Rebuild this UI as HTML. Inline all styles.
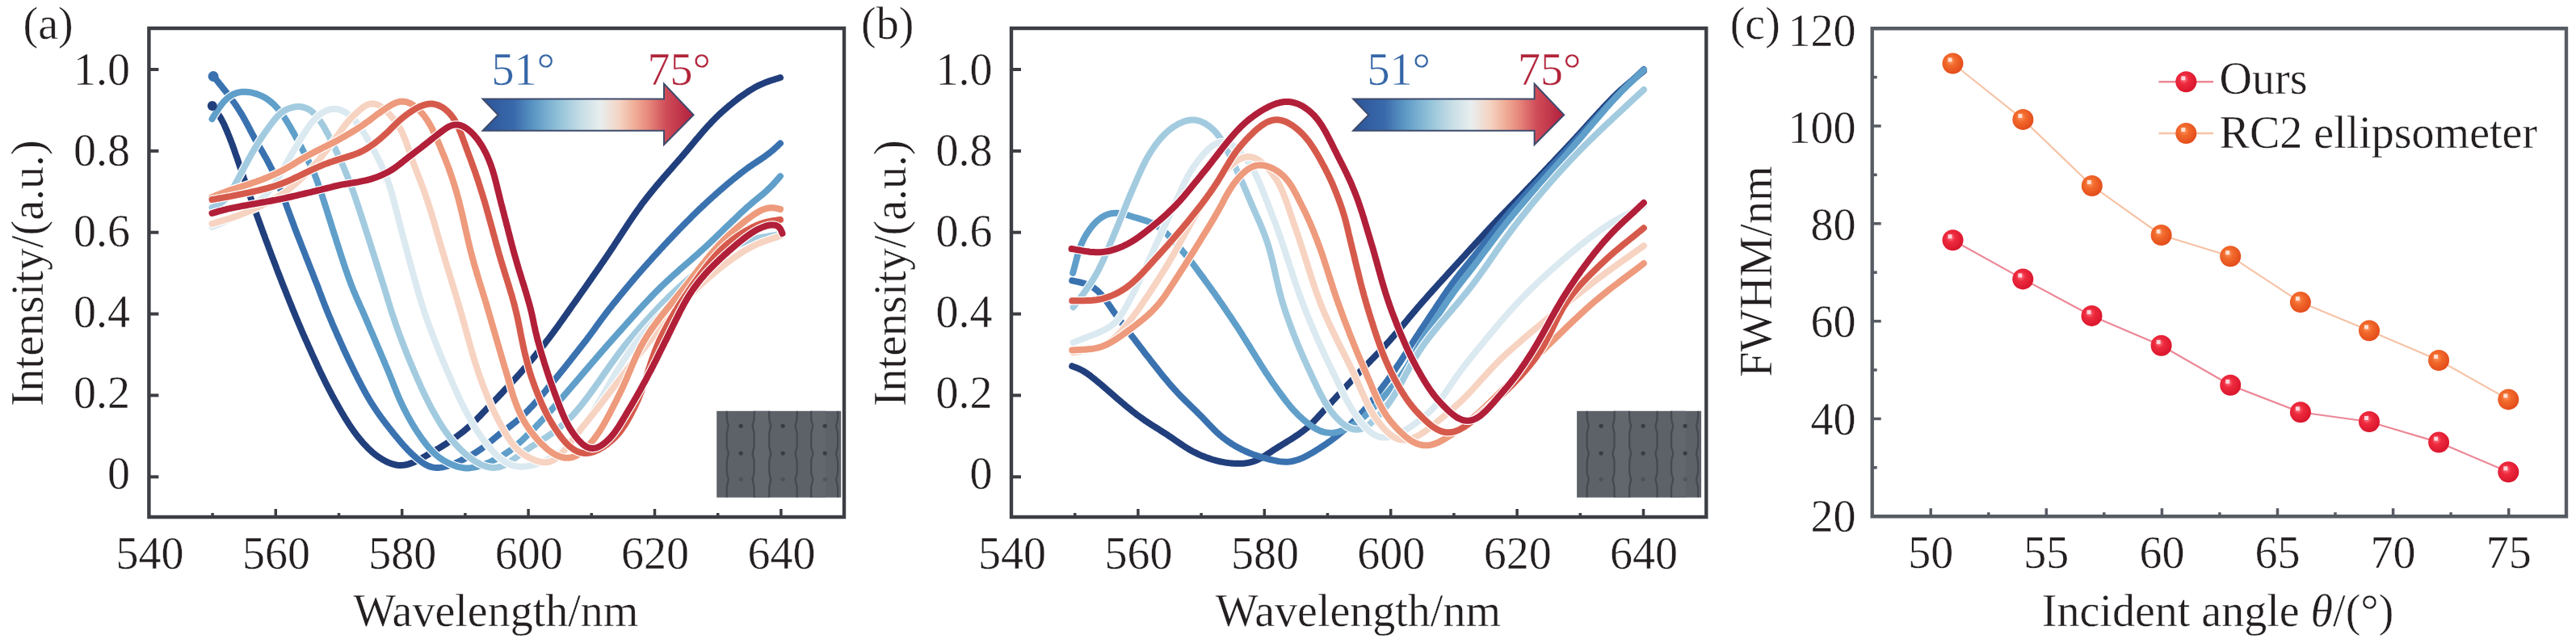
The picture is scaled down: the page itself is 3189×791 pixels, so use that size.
<!DOCTYPE html><html><head><meta charset="utf-8"><style>html,body{margin:0;padding:0;background:#fff;}svg{display:block}</style></head><body>
<svg width="3189" height="791" viewBox="0 0 3189 791">
<defs>
<linearGradient id="ag" x1="0" y1="0" x2="1" y2="0"><stop offset="0" stop-color="#2b5499"/><stop offset="0.15" stop-color="#3a6aab"/><stop offset="0.24" stop-color="#5a96c4"/><stop offset="0.36" stop-color="#92c2d9"/><stop offset="0.47" stop-color="#c8dee6"/><stop offset="0.56" stop-color="#e8eeee"/><stop offset="0.65" stop-color="#f4d3c2"/><stop offset="0.72" stop-color="#f0ae98"/><stop offset="0.79" stop-color="#e6857a"/><stop offset="0.87" stop-color="#cf4c58"/><stop offset="1" stop-color="#b21f3c"/></linearGradient>
<radialGradient id="bo" cx="0.4" cy="0.38" r="0.65"><stop offset="0" stop-color="#ff9a6a"/><stop offset="0.35" stop-color="#f26a2c"/><stop offset="1" stop-color="#e24a1a"/></radialGradient>
<radialGradient id="br" cx="0.4" cy="0.38" r="0.65"><stop offset="0" stop-color="#ff7a8a"/><stop offset="0.35" stop-color="#ee2a3e"/><stop offset="1" stop-color="#d8142c"/></radialGradient>
</defs>
<rect width="3189" height="791" fill="#fff"/>
<style>text{stroke:#fff;stroke-width:0.4px;}</style>
<defs><path id="c1" d="M262.5,131.0 L264.0,133.0 L265.5,135.0 L267.0,137.0 L268.5,139.0 L270.0,141.0 L271.3,143.1 L272.7,145.2 L273.9,147.4 L275.1,149.6 L276.3,151.8 L277.4,154.0 L278.4,156.3 L279.4,158.6 L280.4,160.9 L281.4,163.2 L282.3,165.5 L283.3,167.8 L284.2,170.2 L285.1,172.5 L286.0,174.8 L286.9,177.2 L287.8,179.5 L288.6,181.9 L289.5,184.2 L290.3,186.6 L291.1,189.0 L291.9,191.3 L292.8,193.7 L293.6,196.1 L294.4,198.4 L295.2,200.8 L296.0,203.2 L296.8,205.6 L297.6,207.9 L298.4,210.3 L299.2,212.7 L300.0,215.1 L300.8,217.4 L301.6,219.8 L302.4,222.2 L303.3,224.5 L304.1,226.9 L304.9,229.3 L305.7,231.6 L306.6,234.0 L307.4,236.4 L308.2,238.7 L309.0,241.1 L309.9,243.5 L310.7,245.8 L311.5,248.2 L312.3,250.6 L313.2,252.9 L314.0,255.3 L314.9,257.6 L315.7,260.0 L316.5,262.4 L317.4,264.7 L318.2,267.1 L319.1,269.4 L319.9,271.8 L320.8,274.1 L321.6,276.5 L322.5,278.9 L323.4,281.2 L324.2,283.6 L325.1,285.9 L325.9,288.3 L326.8,290.6 L327.7,293.0 L328.5,295.3 L329.4,297.7 L330.3,300.0 L331.2,302.4 L332.0,304.7 L332.9,307.1 L333.8,309.4 L334.7,311.8 L335.5,314.1 L336.4,316.4 L337.3,318.8 L338.2,321.1 L339.1,323.5 L340.0,325.8 L340.9,328.2 L341.8,330.5 L342.6,332.8 L343.5,335.2 L344.4,337.5 L345.4,339.9 L346.3,342.2 L347.2,344.5 L348.1,346.9 L349.0,349.2 L349.9,351.5 L350.8,353.9 L351.7,356.2 L352.7,358.5 L353.6,360.8 L354.5,363.2 L355.4,365.5 L356.4,367.8 L357.3,370.1 L358.2,372.5 L359.2,374.8 L360.1,377.1 L361.1,379.4 L362.0,381.8 L362.9,384.1 L363.9,386.4 L364.9,388.7 L365.8,391.0 L366.8,393.3 L367.7,395.7 L368.7,398.0 L369.7,400.3 L370.7,402.6 L371.6,404.9 L372.6,407.2 L373.6,409.5 L374.6,411.8 L375.6,414.1 L376.6,416.4 L377.6,418.7 L378.6,421.0 L379.7,423.3 L380.7,425.5 L381.7,427.8 L382.7,430.1 L383.8,432.4 L384.8,434.7 L385.8,437.0 L386.8,439.3 L387.9,441.5 L388.9,443.8 L390.0,446.1 L391.0,448.4 L392.1,450.6 L393.1,452.9 L394.2,455.2 L395.2,457.5 L396.3,459.7 L397.4,462.0 L398.5,464.2 L399.6,466.5 L400.7,468.7 L401.8,471.0 L402.9,473.2 L404.0,475.5 L405.1,477.7 L406.3,479.9 L407.4,482.2 L408.6,484.4 L409.8,486.6 L410.9,488.8 L412.1,491.0 L413.3,493.2 L414.5,495.4 L415.7,497.6 L417.0,499.8 L418.2,502.0 L419.4,504.2 L420.7,506.3 L421.9,508.5 L423.2,510.7 L424.5,512.8 L425.7,515.0 L427.0,517.1 L428.4,519.3 L429.7,521.4 L431.0,523.5 L432.4,525.6 L433.8,527.7 L435.2,529.8 L436.6,531.8 L438.0,533.9 L439.5,535.9 L441.0,537.9 L442.5,539.9 L444.1,541.8 L445.7,543.8 L447.3,545.7 L448.9,547.6 L450.6,549.5 L452.3,551.3 L454.0,553.1 L455.7,554.9 L457.5,556.6 L459.4,558.3 L461.2,560.0 L463.2,561.6 L465.1,563.1 L467.1,564.6 L469.2,566.0 L471.3,567.4 L473.4,568.7 L475.5,569.9 L477.7,571.1 L480.0,572.2 L482.3,573.1 L484.6,574.0 L486.9,574.7 L489.3,575.3 L491.7,575.7 L494.1,575.9 L496.6,576.0 L499.0,575.8 L501.4,575.5 L503.8,575.0 L506.2,574.4 L508.5,573.6 L510.9,572.8 L513.1,571.8 L515.4,570.7 L517.6,569.6 L519.9,568.5 L522.1,567.3 L524.2,566.0 L526.4,564.8 L528.6,563.5 L530.7,562.3 L532.9,561.0 L535.1,559.7 L537.2,558.5 L539.4,557.2 L541.5,555.9 L543.7,554.6 L545.8,553.3 L548.0,552.0 L550.1,550.7 L552.2,549.4 L554.3,548.0 L556.4,546.6 L558.5,545.2 L560.5,543.8 L562.6,542.4 L564.6,540.9 L566.6,539.4 L568.6,537.9 L570.6,536.4 L572.6,534.8 L574.5,533.3 L576.5,531.7 L578.4,530.0 L580.2,528.4 L582.1,526.7 L583.9,525.0 L585.8,523.3 L587.6,521.6 L589.3,519.8 L591.1,518.0 L592.9,516.2 L594.6,514.4 L596.4,512.6 L598.1,510.8 L599.8,509.0 L601.5,507.2 L603.3,505.4 L605.0,503.6 L606.7,501.8 L608.5,499.9 L610.2,498.1 L611.9,496.3 L613.7,494.5 L615.4,492.7 L617.1,490.9 L618.8,489.1 L620.6,487.3 L622.3,485.4 L624.0,483.6 L625.7,481.8 L627.5,480.0 L629.2,478.2 L630.9,476.3 L632.6,474.5 L634.3,472.6 L636.0,470.8 L637.7,468.9 L639.4,467.1 L641.0,465.2 L642.7,463.4 L644.4,461.5 L646.0,459.6 L647.7,457.7 L649.3,455.8 L651.0,453.9 L652.6,452.0 L654.2,450.1 L655.8,448.2 L657.4,446.3 L659.1,444.4 L660.7,442.5 L662.2,440.5 L663.8,438.6 L665.4,436.6 L667.0,434.7 L668.6,432.7 L670.1,430.8 L671.7,428.8 L673.2,426.9 L674.8,424.9 L676.3,422.9 L677.8,420.9 L679.4,418.9 L680.9,416.9 L682.4,414.9 L683.9,412.9 L685.4,410.9 L686.8,408.9 L688.3,406.9 L689.8,404.8 L691.3,402.8 L692.7,400.8 L694.2,398.7 L695.6,396.7 L697.1,394.6 L698.5,392.6 L700.0,390.5 L701.4,388.5 L702.9,386.5 L704.3,384.4 L705.7,382.4 L707.2,380.3 L708.6,378.3 L710.1,376.2 L711.5,374.2 L713.0,372.1 L714.4,370.1 L715.9,368.0 L717.3,366.0 L718.7,363.9 L720.2,361.9 L721.6,359.8 L723.1,357.8 L724.5,355.7 L725.9,353.7 L727.4,351.6 L728.8,349.6 L730.2,347.5 L731.7,345.5 L733.1,343.4 L734.5,341.4 L736.0,339.3 L737.4,337.2 L738.8,335.2 L740.3,333.1 L741.7,331.1 L743.1,329.0 L744.5,326.9 L746.0,324.9 L747.4,322.8 L748.8,320.7 L750.2,318.7 L751.6,316.6 L753.0,314.5 L754.4,312.5 L755.8,310.4 L757.2,308.3 L758.6,306.2 L760.0,304.1 L761.3,302.0 L762.7,299.9 L764.1,297.8 L765.5,295.7 L766.8,293.6 L768.2,291.5 L769.6,289.4 L770.9,287.3 L772.3,285.2 L773.7,283.1 L775.1,281.0 L776.4,279.0 L777.8,276.9 L779.2,274.8 L780.6,272.7 L782.0,270.6 L783.4,268.6 L784.8,266.5 L786.3,264.4 L787.7,262.4 L789.1,260.3 L790.6,258.3 L792.1,256.3 L793.5,254.2 L795.0,252.2 L796.5,250.2 L798.1,248.2 L799.6,246.2 L801.1,244.3 L802.7,242.3 L804.2,240.3 L805.8,238.4 L807.4,236.4 L809.0,234.5 L810.6,232.6 L812.2,230.6 L813.8,228.7 L815.4,226.8 L817.0,224.9 L818.7,223.0 L820.3,221.1 L821.9,219.2 L823.6,217.3 L825.2,215.4 L826.9,213.6 L828.5,211.7 L830.2,209.8 L831.8,207.9 L833.5,206.0 L835.1,204.1 L836.8,202.2 L838.4,200.4 L840.1,198.5 L841.7,196.6 L843.4,194.7 L845.0,192.8 L846.6,190.9 L848.2,189.0 L849.9,187.1 L851.5,185.2 L853.1,183.2 L854.7,181.3 L856.3,179.4 L857.9,177.5 L859.5,175.6 L861.1,173.6 L862.7,171.7 L864.4,169.8 L866.0,167.9 L867.6,166.0 L869.2,164.1 L870.9,162.2 L872.5,160.3 L874.2,158.4 L875.9,156.6 L877.6,154.7 L879.3,152.9 L881.0,151.1 L882.7,149.3 L884.5,147.5 L886.3,145.7 L888.1,144.0 L889.9,142.2 L891.7,140.5 L893.5,138.8 L895.4,137.2 L897.3,135.5 L899.2,133.9 L901.1,132.3 L903.0,130.6 L904.9,129.1 L906.9,127.5 L908.8,125.9 L910.8,124.4 L912.8,122.8 L914.8,121.3 L916.8,119.8 L918.8,118.4 L920.9,116.9 L922.9,115.5 L925.0,114.1 L927.1,112.7 L929.2,111.4 L931.4,110.1 L933.5,108.8 L935.7,107.6 L937.9,106.4 L940.1,105.3 L942.4,104.3 L944.7,103.3 L947.0,102.3 L949.3,101.5 L951.7,100.6 L954.1,99.8 L956.5,99.0 L958.8,98.3 L961.2,97.5 L963.6,96.8 L966.0,96.0"/></defs>
<use href="#c1" fill="none" stroke="#fff" stroke-width="10.4" stroke-linecap="round" stroke-linejoin="round"/>
<use href="#c1" fill="none" stroke="#213f7c" stroke-width="8" stroke-linecap="round" stroke-linejoin="round"/>
<defs><path id="c2" d="M264.1,94.1 L265.7,96.1 L267.2,98.0 L268.8,100.0 L270.4,101.9 L272.0,103.9 L273.5,105.8 L275.1,107.8 L276.6,109.8 L278.2,111.7 L279.8,113.7 L281.3,115.7 L282.8,117.7 L284.4,119.7 L285.9,121.7 L287.4,123.7 L288.8,125.7 L290.3,127.8 L291.7,129.8 L293.1,131.9 L294.5,134.0 L295.8,136.1 L297.2,138.2 L298.5,140.4 L299.8,142.5 L301.0,144.7 L302.3,146.9 L303.5,149.1 L304.7,151.3 L305.9,153.5 L307.0,155.7 L308.2,157.9 L309.4,160.2 L310.5,162.4 L311.7,164.6 L312.9,166.8 L314.0,169.0 L315.2,171.2 L316.5,173.4 L317.7,175.6 L318.9,177.8 L320.2,180.0 L321.5,182.1 L322.7,184.3 L324.0,186.5 L325.3,188.6 L326.5,190.8 L327.7,193.0 L329.0,195.2 L330.2,197.4 L331.4,199.6 L332.5,201.8 L333.7,204.0 L334.8,206.3 L336.0,208.5 L337.1,210.8 L338.1,213.0 L339.2,215.3 L340.2,217.6 L341.2,219.9 L342.2,222.2 L343.2,224.5 L344.2,226.8 L345.1,229.1 L346.0,231.5 L346.9,233.8 L347.8,236.2 L348.7,238.5 L349.6,240.8 L350.5,243.2 L351.4,245.5 L352.3,247.9 L353.1,250.3 L354.0,252.6 L354.9,255.0 L355.7,257.3 L356.6,259.7 L357.5,262.0 L358.3,264.4 L359.2,266.7 L360.1,269.1 L360.9,271.5 L361.8,273.8 L362.7,276.2 L363.6,278.5 L364.4,280.9 L365.3,283.2 L366.2,285.5 L367.1,287.9 L368.0,290.2 L368.9,292.6 L369.9,294.9 L370.8,297.2 L371.7,299.6 L372.6,301.9 L373.5,304.3 L374.4,306.6 L375.3,308.9 L376.3,311.3 L377.2,313.6 L378.1,315.9 L379.0,318.3 L379.9,320.6 L380.9,322.9 L381.8,325.3 L382.7,327.6 L383.6,329.9 L384.5,332.3 L385.5,334.6 L386.4,336.9 L387.3,339.3 L388.2,341.6 L389.1,344.0 L390.0,346.3 L390.9,348.6 L391.9,351.0 L392.8,353.3 L393.7,355.7 L394.6,358.0 L395.4,360.3 L396.3,362.7 L397.2,365.0 L398.1,367.4 L399.0,369.7 L399.9,372.1 L400.8,374.4 L401.7,376.8 L402.6,379.1 L403.6,381.4 L404.5,383.8 L405.4,386.1 L406.4,388.4 L407.3,390.7 L408.3,393.0 L409.3,395.4 L410.3,397.7 L411.2,400.0 L412.2,402.3 L413.2,404.6 L414.2,406.9 L415.2,409.2 L416.2,411.5 L417.2,413.8 L418.2,416.1 L419.3,418.4 L420.3,420.7 L421.3,423.0 L422.3,425.3 L423.4,427.5 L424.4,429.8 L425.4,432.1 L426.5,434.4 L427.6,436.7 L428.6,438.9 L429.7,441.2 L430.7,443.5 L431.8,445.7 L432.9,448.0 L434.0,450.3 L435.1,452.5 L436.2,454.8 L437.3,457.0 L438.4,459.3 L439.5,461.5 L440.7,463.8 L441.8,466.0 L442.9,468.3 L444.1,470.5 L445.2,472.7 L446.4,474.9 L447.5,477.2 L448.7,479.4 L449.9,481.6 L451.1,483.8 L452.3,486.0 L453.5,488.2 L454.8,490.4 L456.0,492.5 L457.3,494.7 L458.6,496.8 L459.9,499.0 L461.3,501.1 L462.6,503.2 L464.0,505.3 L465.4,507.4 L466.8,509.5 L468.2,511.5 L469.7,513.6 L471.1,515.6 L472.6,517.6 L474.1,519.7 L475.6,521.7 L477.1,523.7 L478.7,525.7 L480.2,527.6 L481.7,529.6 L483.3,531.6 L484.9,533.5 L486.4,535.5 L488.0,537.5 L489.6,539.4 L491.2,541.3 L492.8,543.3 L494.4,545.2 L496.0,547.1 L497.6,549.0 L499.3,550.9 L501.0,552.8 L502.7,554.6 L504.4,556.4 L506.1,558.2 L507.9,560.0 L509.7,561.7 L511.6,563.4 L513.4,565.1 L515.3,566.8 L517.2,568.4 L519.2,569.9 L521.2,571.4 L523.2,572.9 L525.3,574.2 L527.4,575.4 L529.6,576.5 L531.9,577.4 L534.2,578.1 L536.6,578.6 L539.0,578.9 L541.4,579.0 L543.8,578.9 L546.2,578.6 L548.7,578.2 L551.1,577.7 L553.5,577.0 L555.9,576.3 L558.2,575.4 L560.6,574.6 L562.9,573.6 L565.2,572.6 L567.5,571.6 L569.7,570.5 L572.0,569.4 L574.2,568.3 L576.5,567.2 L578.7,566.0 L580.9,564.8 L583.1,563.6 L585.3,562.4 L587.4,561.1 L589.6,559.8 L591.7,558.4 L593.7,557.0 L595.8,555.6 L597.8,554.1 L599.8,552.6 L601.8,551.0 L603.7,549.5 L605.7,547.9 L607.6,546.3 L609.5,544.7 L611.4,543.1 L613.4,541.5 L615.3,539.9 L617.3,538.3 L619.3,536.8 L621.3,535.3 L623.3,533.7 L625.3,532.2 L627.3,530.7 L629.3,529.2 L631.3,527.7 L633.3,526.2 L635.2,524.6 L637.2,523.1 L639.1,521.5 L641.1,519.9 L643.0,518.2 L644.8,516.6 L646.7,514.9 L648.5,513.2 L650.3,511.4 L652.1,509.7 L653.9,507.9 L655.6,506.1 L657.3,504.3 L659.1,502.4 L660.8,500.6 L662.4,498.7 L664.1,496.8 L665.8,495.0 L667.4,493.1 L669.1,491.2 L670.7,489.3 L672.4,487.4 L674.0,485.5 L675.6,483.6 L677.2,481.6 L678.8,479.7 L680.4,477.8 L682.0,475.9 L683.6,473.9 L685.2,472.0 L686.8,470.0 L688.4,468.1 L690.0,466.1 L691.6,464.2 L693.1,462.2 L694.7,460.3 L696.3,458.3 L697.9,456.4 L699.4,454.4 L701.0,452.5 L702.5,450.5 L704.1,448.5 L705.7,446.6 L707.2,444.6 L708.8,442.6 L710.3,440.6 L711.9,438.7 L713.4,436.7 L715.0,434.7 L716.5,432.8 L718.1,430.8 L719.6,428.8 L721.2,426.8 L722.7,424.8 L724.2,422.9 L725.8,420.9 L727.3,418.9 L728.8,416.9 L730.3,414.9 L731.8,412.9 L733.3,410.8 L734.8,408.8 L736.3,406.8 L737.7,404.7 L739.2,402.7 L740.7,400.7 L742.1,398.6 L743.6,396.6 L745.1,394.6 L746.6,392.6 L748.1,390.6 L749.6,388.6 L751.2,386.6 L752.7,384.6 L754.3,382.6 L755.8,380.7 L757.4,378.7 L758.9,376.7 L760.5,374.8 L762.1,372.8 L763.7,370.9 L765.2,368.9 L766.8,367.0 L768.4,365.0 L770.0,363.1 L771.6,361.2 L773.2,359.2 L774.8,357.3 L776.4,355.4 L778.0,353.5 L779.6,351.5 L781.3,349.6 L782.9,347.7 L784.5,345.8 L786.1,343.9 L787.8,342.0 L789.4,340.1 L791.1,338.2 L792.7,336.3 L794.4,334.4 L796.0,332.5 L797.7,330.6 L799.4,328.8 L801.0,326.9 L802.7,325.0 L804.4,323.2 L806.1,321.3 L807.7,319.4 L809.4,317.6 L811.1,315.7 L812.8,313.9 L814.5,312.0 L816.2,310.2 L817.9,308.3 L819.6,306.5 L821.3,304.6 L823.0,302.8 L824.7,301.0 L826.5,299.1 L828.2,297.3 L829.9,295.5 L831.6,293.7 L833.4,291.8 L835.1,290.0 L836.8,288.2 L838.6,286.4 L840.3,284.6 L842.0,282.8 L843.8,281.0 L845.5,279.2 L847.3,277.4 L849.1,275.6 L850.8,273.8 L852.6,272.1 L854.4,270.3 L856.1,268.5 L857.9,266.7 L859.7,265.0 L861.5,263.2 L863.3,261.5 L865.1,259.7 L866.9,258.0 L868.7,256.3 L870.6,254.5 L872.4,252.8 L874.2,251.1 L876.1,249.4 L877.9,247.7 L879.8,246.0 L881.6,244.3 L883.5,242.7 L885.4,241.0 L887.2,239.3 L889.1,237.7 L891.0,236.0 L892.9,234.4 L894.8,232.7 L896.7,231.1 L898.6,229.5 L900.5,227.8 L902.5,226.2 L904.4,224.6 L906.3,223.0 L908.3,221.4 L910.2,219.9 L912.2,218.3 L914.1,216.7 L916.1,215.2 L918.1,213.6 L920.1,212.1 L922.1,210.6 L924.1,209.1 L926.1,207.6 L928.2,206.2 L930.3,204.8 L932.3,203.4 L934.4,202.0 L936.5,200.6 L938.6,199.2 L940.7,197.8 L942.8,196.4 L944.9,195.0 L946.9,193.6 L948.9,192.1 L951.0,190.6 L952.9,189.1 L954.9,187.5 L956.8,185.9 L958.7,184.2 L960.5,182.6 L962.4,180.9 L964.2,179.1 L966.0,177.4"/></defs>
<use href="#c2" fill="none" stroke="#fff" stroke-width="10.4" stroke-linecap="round" stroke-linejoin="round"/>
<use href="#c2" fill="none" stroke="#3a72b0" stroke-width="8" stroke-linecap="round" stroke-linejoin="round"/>
<defs><path id="c3" d="M262.5,147.3 L263.8,145.2 L265.1,143.0 L266.5,140.9 L267.8,138.8 L269.1,136.7 L270.5,134.6 L271.9,132.5 L273.4,130.5 L274.9,128.5 L276.5,126.6 L278.2,124.8 L279.9,123.0 L281.8,121.4 L283.7,119.9 L285.7,118.5 L287.9,117.2 L290.0,116.2 L292.3,115.3 L294.6,114.6 L297.0,114.1 L299.4,113.8 L301.8,113.7 L304.3,113.7 L306.7,113.9 L309.2,114.2 L311.6,114.7 L314.1,115.3 L316.5,115.9 L318.8,116.7 L321.1,117.6 L323.4,118.6 L325.7,119.7 L327.8,120.8 L330.0,122.1 L332.0,123.5 L334.0,125.0 L335.9,126.6 L337.8,128.2 L339.6,129.9 L341.3,131.7 L343.0,133.6 L344.7,135.5 L346.2,137.4 L347.8,139.4 L349.3,141.4 L350.7,143.5 L352.1,145.5 L353.5,147.6 L354.8,149.8 L356.1,151.9 L357.4,154.0 L358.7,156.2 L360.0,158.4 L361.2,160.6 L362.4,162.7 L363.7,164.9 L364.9,167.1 L366.1,169.3 L367.3,171.5 L368.5,173.7 L369.7,176.0 L370.8,178.2 L372.0,180.4 L373.2,182.6 L374.3,184.8 L375.5,187.1 L376.7,189.3 L377.8,191.5 L379.0,193.7 L380.1,196.0 L381.3,198.2 L382.4,200.5 L383.5,202.7 L384.6,205.0 L385.7,207.2 L386.7,209.5 L387.7,211.8 L388.7,214.1 L389.7,216.4 L390.6,218.8 L391.5,221.1 L392.4,223.5 L393.2,225.8 L394.0,228.2 L394.9,230.6 L395.7,232.9 L396.5,235.3 L397.3,237.7 L398.1,240.1 L398.9,242.5 L399.6,244.9 L400.4,247.3 L401.2,249.6 L401.9,252.0 L402.7,254.4 L403.5,256.8 L404.2,259.2 L405.0,261.6 L405.7,264.0 L406.5,266.4 L407.2,268.8 L408.0,271.2 L408.7,273.6 L409.5,276.0 L410.2,278.4 L411.0,280.8 L411.7,283.2 L412.5,285.6 L413.2,288.0 L414.0,290.4 L414.8,292.7 L415.5,295.1 L416.3,297.5 L417.0,299.9 L417.8,302.3 L418.6,304.7 L419.3,307.1 L420.1,309.5 L420.9,311.9 L421.6,314.3 L422.4,316.7 L423.2,319.0 L424.0,321.4 L424.8,323.8 L425.5,326.2 L426.3,328.6 L427.1,331.0 L427.9,333.3 L428.8,335.7 L429.6,338.1 L430.4,340.5 L431.3,342.8 L432.1,345.2 L433.0,347.5 L433.9,349.9 L434.7,352.2 L435.7,354.6 L436.6,356.9 L437.5,359.2 L438.5,361.6 L439.5,363.9 L440.4,366.2 L441.4,368.5 L442.5,370.8 L443.5,373.1 L444.5,375.4 L445.5,377.7 L446.5,380.0 L447.6,382.2 L448.6,384.5 L449.6,386.8 L450.6,389.1 L451.6,391.4 L452.6,393.7 L453.6,396.1 L454.6,398.4 L455.6,400.7 L456.6,403.0 L457.5,405.3 L458.5,407.6 L459.5,409.9 L460.5,412.2 L461.5,414.5 L462.5,416.8 L463.5,419.1 L464.5,421.4 L465.4,423.7 L466.4,426.1 L467.4,428.4 L468.4,430.7 L469.4,433.0 L470.4,435.3 L471.4,437.6 L472.3,439.9 L473.3,442.2 L474.3,444.5 L475.3,446.9 L476.3,449.2 L477.2,451.5 L478.2,453.8 L479.2,456.1 L480.1,458.4 L481.1,460.7 L482.0,463.1 L483.0,465.4 L483.9,467.7 L484.9,470.1 L485.8,472.4 L486.7,474.7 L487.6,477.1 L488.6,479.4 L489.5,481.7 L490.4,484.1 L491.4,486.4 L492.3,488.7 L493.3,491.0 L494.3,493.3 L495.3,495.6 L496.4,497.9 L497.4,500.2 L498.5,502.4 L499.6,504.7 L500.7,506.9 L501.9,509.2 L503.0,511.4 L504.2,513.6 L505.4,515.8 L506.6,518.0 L507.8,520.2 L509.1,522.4 L510.3,524.6 L511.6,526.7 L512.9,528.9 L514.2,531.0 L515.6,533.1 L517.0,535.2 L518.4,537.3 L519.8,539.4 L521.2,541.4 L522.7,543.5 L524.2,545.5 L525.7,547.5 L527.2,549.5 L528.8,551.4 L530.4,553.4 L532.0,555.3 L533.7,557.1 L535.4,558.9 L537.2,560.7 L539.0,562.4 L540.9,564.0 L542.9,565.6 L544.9,567.1 L546.9,568.5 L549.0,569.8 L551.2,571.1 L553.4,572.3 L555.6,573.4 L557.9,574.4 L560.2,575.4 L562.5,576.3 L564.8,577.1 L567.2,577.8 L569.6,578.4 L572.1,578.9 L574.5,579.2 L576.9,579.4 L579.4,579.4 L581.9,579.2 L584.3,578.9 L586.8,578.5 L589.2,578.0 L591.6,577.4 L594.0,576.7 L596.4,575.9 L598.7,575.1 L601.1,574.2 L603.4,573.3 L605.7,572.3 L608.0,571.3 L610.3,570.2 L612.5,569.1 L614.8,568.0 L617.0,566.8 L619.2,565.6 L621.4,564.4 L623.5,563.1 L625.6,561.7 L627.7,560.3 L629.7,558.9 L631.8,557.4 L633.8,555.9 L635.7,554.3 L637.6,552.7 L639.6,551.1 L641.4,549.4 L643.3,547.8 L645.2,546.1 L647.0,544.4 L648.8,542.6 L650.6,540.9 L652.4,539.1 L654.2,537.4 L656.0,535.6 L657.8,533.8 L659.6,532.1 L661.3,530.3 L663.1,528.5 L664.8,526.7 L666.6,524.9 L668.3,523.1 L670.0,521.2 L671.7,519.4 L673.4,517.6 L675.2,515.7 L676.8,513.9 L678.5,512.0 L680.2,510.1 L681.9,508.3 L683.6,506.4 L685.2,504.5 L686.9,502.7 L688.6,500.8 L690.2,498.9 L691.9,497.0 L693.5,495.1 L695.2,493.2 L696.8,491.3 L698.5,489.4 L700.1,487.5 L701.7,485.6 L703.4,483.7 L705.0,481.8 L706.7,479.9 L708.3,478.0 L709.9,476.1 L711.6,474.2 L713.2,472.3 L714.8,470.4 L716.5,468.5 L718.1,466.6 L719.7,464.7 L721.4,462.7 L723.0,460.8 L724.6,458.9 L726.3,457.0 L727.9,455.1 L729.5,453.2 L731.1,451.3 L732.8,449.4 L734.4,447.5 L736.1,445.6 L737.7,443.7 L739.3,441.8 L741.0,439.9 L742.6,438.0 L744.3,436.1 L745.9,434.2 L747.6,432.3 L749.2,430.4 L750.9,428.5 L752.5,426.6 L754.2,424.8 L755.9,422.9 L757.5,421.0 L759.2,419.1 L760.9,417.3 L762.5,415.4 L764.2,413.5 L765.9,411.6 L767.6,409.8 L769.2,407.9 L770.9,406.0 L772.6,404.1 L774.2,402.3 L775.9,400.4 L777.6,398.5 L779.3,396.6 L780.9,394.8 L782.6,392.9 L784.3,391.0 L786.0,389.2 L787.6,387.3 L789.3,385.4 L791.0,383.6 L792.7,381.7 L794.4,379.9 L796.1,378.0 L797.8,376.2 L799.5,374.4 L801.3,372.5 L803.0,370.7 L804.7,368.9 L806.4,367.1 L808.2,365.3 L809.9,363.5 L811.7,361.7 L813.5,359.9 L815.3,358.1 L817.0,356.4 L818.8,354.6 L820.6,352.9 L822.5,351.1 L824.3,349.4 L826.1,347.7 L828.0,346.0 L829.8,344.3 L831.7,342.6 L833.5,340.9 L835.4,339.3 L837.3,337.6 L839.2,335.9 L841.0,334.3 L842.9,332.6 L844.8,330.9 L846.7,329.3 L848.6,327.6 L850.5,326.0 L852.4,324.3 L854.3,322.7 L856.2,321.0 L858.1,319.4 L859.9,317.7 L861.8,316.1 L863.7,314.4 L865.6,312.7 L867.4,311.0 L869.3,309.4 L871.1,307.7 L873.0,306.0 L874.8,304.3 L876.7,302.5 L878.5,300.8 L880.3,299.1 L882.2,297.4 L884.0,295.6 L885.8,293.9 L887.6,292.2 L889.4,290.4 L891.2,288.7 L893.0,287.0 L894.8,285.2 L896.6,283.5 L898.4,281.7 L900.2,280.0 L902.0,278.2 L903.9,276.5 L905.7,274.7 L907.5,273.0 L909.3,271.3 L911.1,269.5 L912.9,267.8 L914.7,266.0 L916.5,264.3 L918.4,262.6 L920.2,260.9 L922.1,259.2 L923.9,257.5 L925.8,255.8 L927.7,254.2 L929.6,252.5 L931.5,250.9 L933.4,249.3 L935.3,247.7 L937.3,246.1 L939.2,244.5 L941.2,242.9 L943.1,241.4 L945.0,239.7 L946.9,238.1 L948.8,236.4 L950.6,234.7 L952.4,233.0 L954.2,231.2 L955.9,229.4 L957.7,227.6 L959.3,225.7 L961.0,223.8 L962.7,222.0 L964.3,220.1 L966.0,218.2"/></defs>
<use href="#c3" fill="none" stroke="#fff" stroke-width="10.4" stroke-linecap="round" stroke-linejoin="round"/>
<use href="#c3" fill="none" stroke="#5f9fca" stroke-width="8" stroke-linecap="round" stroke-linejoin="round"/>
<defs><path id="c4" d="M262.5,257.0 L264.8,256.0 L267.0,254.9 L269.2,253.8 L271.4,252.6 L273.4,251.3 L275.4,249.8 L277.2,248.2 L279.0,246.5 L280.6,244.7 L282.1,242.8 L283.5,240.7 L284.9,238.7 L286.2,236.5 L287.5,234.4 L288.7,232.2 L290.0,230.0 L291.2,227.9 L292.4,225.7 L293.6,223.5 L294.8,221.3 L296.0,219.1 L297.2,216.9 L298.4,214.7 L299.6,212.5 L300.8,210.3 L302.0,208.0 L303.1,205.8 L304.3,203.6 L305.5,201.4 L306.7,199.2 L307.9,197.0 L309.1,194.8 L310.3,192.6 L311.5,190.4 L312.8,188.3 L314.0,186.1 L315.3,183.9 L316.6,181.8 L317.9,179.6 L319.2,177.5 L320.5,175.4 L321.9,173.3 L323.3,171.2 L324.6,169.1 L326.0,167.0 L327.4,164.9 L328.9,162.9 L330.3,160.8 L331.8,158.8 L333.3,156.8 L334.7,154.8 L336.3,152.8 L337.8,150.8 L339.3,148.8 L340.9,146.9 L342.6,145.1 L344.3,143.3 L346.1,141.6 L347.9,140.0 L349.9,138.5 L351.9,137.1 L354.1,135.9 L356.3,134.9 L358.6,134.0 L360.9,133.3 L363.3,132.7 L365.7,132.3 L368.1,132.1 L370.5,132.1 L372.9,132.3 L375.3,132.7 L377.6,133.4 L379.8,134.2 L382.0,135.3 L384.0,136.5 L386.0,138.0 L387.8,139.6 L389.5,141.3 L391.2,143.1 L392.8,145.0 L394.3,147.0 L395.8,149.0 L397.2,151.1 L398.5,153.2 L399.9,155.3 L401.2,157.4 L402.4,159.6 L403.6,161.8 L404.8,164.0 L406.0,166.2 L407.2,168.4 L408.3,170.6 L409.4,172.9 L410.6,175.1 L411.7,177.3 L412.8,179.6 L413.9,181.9 L414.9,184.1 L416.0,186.4 L417.1,188.6 L418.1,190.9 L419.2,193.2 L420.2,195.5 L421.2,197.8 L422.3,200.1 L423.3,202.3 L424.3,204.6 L425.3,206.9 L426.3,209.2 L427.3,211.5 L428.2,213.9 L429.2,216.2 L430.1,218.5 L431.1,220.8 L432.0,223.1 L432.9,225.5 L433.8,227.8 L434.7,230.2 L435.5,232.5 L436.4,234.9 L437.2,237.2 L438.1,239.6 L438.9,242.0 L439.7,244.3 L440.5,246.7 L441.3,249.1 L442.1,251.5 L442.9,253.8 L443.7,256.2 L444.5,258.6 L445.2,261.0 L446.0,263.3 L446.8,265.7 L447.6,268.1 L448.3,270.5 L449.1,272.9 L449.9,275.3 L450.7,277.6 L451.4,280.0 L452.2,282.4 L453.0,284.8 L453.7,287.2 L454.5,289.6 L455.3,292.0 L456.0,294.3 L456.8,296.7 L457.5,299.1 L458.3,301.5 L459.1,303.9 L459.8,306.3 L460.6,308.7 L461.3,311.1 L462.1,313.4 L462.9,315.8 L463.6,318.2 L464.4,320.6 L465.1,323.0 L465.9,325.4 L466.6,327.8 L467.4,330.2 L468.2,332.6 L468.9,334.9 L469.7,337.3 L470.4,339.7 L471.2,342.1 L471.9,344.5 L472.7,346.9 L473.5,349.3 L474.2,351.7 L475.0,354.1 L475.7,356.4 L476.4,358.8 L477.2,361.2 L477.9,363.6 L478.7,366.0 L479.4,368.4 L480.1,370.8 L480.8,373.2 L481.6,375.6 L482.3,378.0 L483.0,380.4 L483.8,382.8 L484.5,385.2 L485.3,387.6 L486.1,390.0 L486.9,392.3 L487.7,394.7 L488.5,397.1 L489.3,399.5 L490.1,401.8 L490.9,404.2 L491.8,406.5 L492.6,408.9 L493.5,411.3 L494.3,413.6 L495.2,416.0 L496.1,418.3 L497.0,420.7 L497.8,423.0 L498.7,425.3 L499.6,427.7 L500.5,430.0 L501.5,432.3 L502.4,434.7 L503.3,437.0 L504.2,439.3 L505.2,441.6 L506.1,444.0 L507.1,446.3 L508.0,448.6 L509.0,450.9 L510.0,453.2 L511.0,455.5 L511.9,457.8 L512.9,460.1 L513.9,462.4 L514.9,464.7 L515.9,467.0 L516.9,469.3 L517.9,471.6 L519.0,473.9 L520.0,476.2 L521.0,478.5 L522.0,480.8 L523.1,483.0 L524.2,485.3 L525.2,487.6 L526.3,489.8 L527.4,492.1 L528.5,494.3 L529.6,496.6 L530.7,498.8 L531.9,501.0 L533.1,503.3 L534.2,505.5 L535.4,507.7 L536.6,509.9 L537.9,512.0 L539.1,514.2 L540.4,516.4 L541.6,518.5 L542.9,520.7 L544.2,522.8 L545.5,525.0 L546.9,527.1 L548.2,529.2 L549.6,531.3 L551.0,533.3 L552.5,535.4 L553.9,537.4 L555.4,539.4 L556.9,541.4 L558.5,543.4 L560.1,545.3 L561.7,547.2 L563.3,549.1 L565.0,551.0 L566.7,552.8 L568.5,554.6 L570.2,556.4 L572.0,558.1 L573.8,559.9 L575.7,561.5 L577.6,563.2 L579.5,564.7 L581.5,566.3 L583.5,567.8 L585.5,569.2 L587.6,570.6 L589.7,571.9 L591.9,573.1 L594.1,574.3 L596.3,575.3 L598.6,576.3 L600.9,577.1 L603.3,577.9 L605.7,578.4 L608.1,578.8 L610.5,578.9 L612.9,578.9 L615.2,578.6 L617.6,578.2 L619.9,577.5 L622.2,576.6 L624.4,575.6 L626.6,574.5 L628.8,573.2 L630.9,571.9 L632.9,570.5 L635.0,569.0 L637.0,567.6 L639.0,566.1 L641.0,564.6 L643.0,563.1 L645.1,561.7 L647.1,560.2 L649.2,558.8 L651.2,557.4 L653.3,556.0 L655.4,554.6 L657.5,553.2 L659.6,551.9 L661.7,550.5 L663.9,549.2 L666.0,547.9 L668.1,546.5 L670.2,545.2 L672.3,543.8 L674.4,542.4 L676.5,541.1 L678.6,539.7 L680.6,538.2 L682.7,536.8 L684.7,535.3 L686.7,533.8 L688.7,532.3 L690.7,530.8 L692.7,529.2 L694.6,527.6 L696.5,526.0 L698.4,524.4 L700.2,522.7 L702.1,521.0 L703.9,519.2 L705.6,517.5 L707.4,515.7 L709.1,513.9 L710.8,512.0 L712.4,510.1 L714.1,508.3 L715.7,506.3 L717.3,504.4 L718.9,502.5 L720.5,500.5 L722.0,498.6 L723.5,496.6 L725.1,494.6 L726.6,492.6 L728.1,490.6 L729.6,488.6 L731.1,486.6 L732.5,484.5 L734.0,482.5 L735.5,480.5 L736.9,478.4 L738.4,476.4 L739.8,474.3 L741.3,472.3 L742.7,470.2 L744.1,468.2 L745.6,466.1 L747.0,464.1 L748.4,462.0 L749.9,460.0 L751.3,457.9 L752.8,455.9 L754.2,453.8 L755.6,451.8 L757.1,449.7 L758.6,447.7 L760.0,445.7 L761.5,443.6 L763.0,441.6 L764.4,439.6 L765.9,437.6 L767.4,435.6 L769.0,433.6 L770.5,431.6 L772.0,429.6 L773.6,427.6 L775.1,425.7 L776.7,423.7 L778.3,421.8 L779.9,419.9 L781.5,418.0 L783.1,416.1 L784.8,414.2 L786.4,412.3 L788.1,410.4 L789.7,408.5 L791.4,406.6 L793.0,404.7 L794.7,402.8 L796.3,401.0 L798.0,399.1 L799.7,397.2 L801.4,395.4 L803.1,393.5 L804.8,391.7 L806.5,389.8 L808.2,388.0 L809.9,386.2 L811.6,384.4 L813.3,382.5 L815.0,380.7 L816.8,378.9 L818.5,377.1 L820.3,375.3 L822.0,373.5 L823.8,371.8 L825.6,370.0 L827.3,368.2 L829.1,366.5 L830.9,364.7 L832.7,363.0 L834.5,361.3 L836.4,359.5 L838.2,357.8 L840.0,356.1 L841.9,354.4 L843.8,352.8 L845.6,351.1 L847.5,349.4 L849.4,347.8 L851.3,346.2 L853.2,344.5 L855.1,342.9 L857.0,341.3 L859.0,339.7 L860.9,338.1 L862.8,336.5 L864.8,335.0 L866.8,333.4 L868.7,331.9 L870.7,330.3 L872.7,328.8 L874.7,327.3 L876.7,325.8 L878.7,324.3 L880.8,322.9 L882.8,321.4 L884.9,320.0 L886.9,318.6 L889.0,317.1 L891.1,315.8 L893.2,314.4 L895.3,313.1 L897.4,311.7 L899.6,310.5 L901.7,309.2 L903.9,308.0 L906.1,306.8 L908.3,305.6 L910.6,304.5 L912.8,303.4 L915.1,302.4 L917.4,301.4 L919.7,300.5 L922.1,299.6 L924.4,298.8 L926.8,298.0 L929.2,297.2 L931.6,296.5 L934.0,295.9 L936.4,295.3 L938.9,294.7 L941.3,294.2 L943.8,293.7 L946.2,293.3 L948.7,292.9 L951.2,292.4 L953.6,292.0 L956.1,291.6 L958.6,291.2 L961.1,290.8 L963.5,290.4 L966.0,290.0"/></defs>
<use href="#c4" fill="none" stroke="#fff" stroke-width="10.4" stroke-linecap="round" stroke-linejoin="round"/>
<use href="#c4" fill="none" stroke="#a3cbe0" stroke-width="8" stroke-linecap="round" stroke-linejoin="round"/>
<defs><path id="c5" d="M262.5,281.0 L264.8,280.1 L267.1,279.1 L269.5,278.2 L271.8,277.2 L274.1,276.3 L276.4,275.3 L278.7,274.4 L281.0,273.4 L283.3,272.4 L285.6,271.4 L287.9,270.3 L290.2,269.2 L292.4,268.1 L294.6,266.9 L296.8,265.8 L299.0,264.5 L301.1,263.3 L303.3,261.9 L305.4,260.6 L307.5,259.2 L309.5,257.8 L311.6,256.4 L313.6,254.9 L315.6,253.3 L317.5,251.8 L319.4,250.2 L321.3,248.5 L323.1,246.8 L325.0,245.1 L326.7,243.3 L328.5,241.5 L330.2,239.7 L331.9,237.8 L333.5,235.9 L335.1,234.0 L336.6,232.1 L338.1,230.1 L339.6,228.0 L341.0,226.0 L342.3,223.9 L343.7,221.7 L344.9,219.6 L346.2,217.4 L347.4,215.2 L348.6,213.0 L349.8,210.8 L350.9,208.6 L352.1,206.4 L353.3,204.2 L354.6,202.0 L355.8,199.8 L357.0,197.7 L358.3,195.5 L359.6,193.3 L360.8,191.2 L362.1,189.0 L363.4,186.9 L364.7,184.7 L366.0,182.6 L367.3,180.4 L368.6,178.3 L369.9,176.1 L371.2,174.0 L372.5,171.8 L373.8,169.7 L375.1,167.6 L376.4,165.4 L377.7,163.3 L379.0,161.2 L380.4,159.1 L381.8,157.0 L383.3,155.0 L384.8,153.0 L386.4,151.1 L388.0,149.2 L389.7,147.4 L391.5,145.7 L393.3,144.0 L395.2,142.4 L397.2,140.9 L399.2,139.6 L401.4,138.3 L403.5,137.2 L405.8,136.3 L408.0,135.6 L410.4,135.1 L412.7,134.8 L415.1,134.9 L417.4,135.1 L419.7,135.6 L422.0,136.4 L424.3,137.3 L426.4,138.4 L428.5,139.7 L430.6,141.1 L432.5,142.6 L434.4,144.2 L436.2,145.9 L438.0,147.6 L439.7,149.5 L441.3,151.4 L442.8,153.3 L444.3,155.3 L445.8,157.3 L447.2,159.4 L448.5,161.5 L449.9,163.6 L451.2,165.8 L452.5,167.9 L453.8,170.0 L455.1,172.2 L456.3,174.4 L457.6,176.5 L458.8,178.7 L460.0,180.9 L461.2,183.1 L462.4,185.3 L463.6,187.5 L464.7,189.7 L465.9,192.0 L467.0,194.2 L468.2,196.4 L469.3,198.7 L470.4,200.9 L471.5,203.2 L472.6,205.4 L473.6,207.7 L474.7,210.0 L475.7,212.3 L476.6,214.6 L477.6,216.9 L478.5,219.3 L479.3,221.6 L480.2,224.0 L481.0,226.3 L481.8,228.7 L482.5,231.1 L483.3,233.5 L484.0,235.9 L484.7,238.3 L485.4,240.7 L486.0,243.1 L486.7,245.5 L487.3,248.0 L488.0,250.4 L488.6,252.8 L489.2,255.2 L489.9,257.7 L490.5,260.1 L491.1,262.5 L491.7,264.9 L492.4,267.4 L493.0,269.8 L493.6,272.2 L494.2,274.7 L494.8,277.1 L495.5,279.5 L496.1,281.9 L496.7,284.4 L497.3,286.8 L498.0,289.2 L498.6,291.6 L499.3,294.1 L499.9,296.5 L500.6,298.9 L501.2,301.3 L501.9,303.7 L502.5,306.2 L503.2,308.6 L503.8,311.0 L504.5,313.4 L505.1,315.8 L505.8,318.3 L506.4,320.7 L507.1,323.1 L507.7,325.5 L508.4,327.9 L509.0,330.4 L509.7,332.8 L510.3,335.2 L511.0,337.6 L511.7,340.0 L512.3,342.5 L513.0,344.9 L513.7,347.3 L514.3,349.7 L515.0,352.1 L515.7,354.5 L516.4,356.9 L517.1,359.3 L517.8,361.7 L518.5,364.1 L519.2,366.5 L519.9,368.9 L520.7,371.3 L521.4,373.7 L522.1,376.1 L522.9,378.5 L523.6,380.9 L524.4,383.3 L525.2,385.7 L526.0,388.1 L526.8,390.4 L527.6,392.8 L528.4,395.2 L529.3,397.5 L530.1,399.9 L531.0,402.2 L531.8,404.6 L532.7,406.9 L533.6,409.3 L534.5,411.6 L535.3,414.0 L536.2,416.3 L537.1,418.7 L538.0,421.0 L539.0,423.3 L539.9,425.7 L540.8,428.0 L541.7,430.3 L542.7,432.7 L543.6,435.0 L544.5,437.3 L545.5,439.6 L546.4,441.9 L547.4,444.3 L548.3,446.6 L549.3,448.9 L550.3,451.2 L551.2,453.5 L552.2,455.8 L553.2,458.1 L554.2,460.4 L555.2,462.7 L556.2,465.0 L557.2,467.3 L558.2,469.6 L559.2,471.9 L560.2,474.2 L561.2,476.5 L562.2,478.8 L563.2,481.1 L564.3,483.4 L565.3,485.7 L566.3,487.9 L567.4,490.2 L568.4,492.5 L569.5,494.7 L570.6,497.0 L571.7,499.3 L572.8,501.5 L573.9,503.8 L575.0,506.0 L576.2,508.2 L577.4,510.4 L578.6,512.6 L579.8,514.8 L581.0,517.0 L582.2,519.2 L583.5,521.4 L584.7,523.5 L586.0,525.7 L587.3,527.8 L588.6,530.0 L589.9,532.1 L591.3,534.2 L592.6,536.3 L594.0,538.4 L595.5,540.5 L596.9,542.5 L598.4,544.5 L599.9,546.5 L601.4,548.5 L603.0,550.4 L604.6,552.4 L606.2,554.3 L607.9,556.1 L609.6,558.0 L611.3,559.8 L613.0,561.6 L614.8,563.3 L616.7,565.0 L618.5,566.7 L620.5,568.2 L622.4,569.7 L624.5,571.2 L626.6,572.5 L628.7,573.6 L631.0,574.7 L633.2,575.6 L635.6,576.3 L637.9,576.9 L640.3,577.3 L642.8,577.6 L645.2,577.7 L647.7,577.6 L650.2,577.4 L652.6,577.1 L655.1,576.7 L657.5,576.1 L659.9,575.6 L662.3,574.9 L664.7,574.2 L667.1,573.4 L669.4,572.5 L671.8,571.6 L674.1,570.6 L676.4,569.6 L678.6,568.6 L680.8,567.4 L683.0,566.3 L685.2,565.0 L687.4,563.8 L689.5,562.4 L691.6,561.0 L693.6,559.6 L695.6,558.1 L697.5,556.5 L699.5,554.9 L701.3,553.3 L703.2,551.6 L704.9,549.8 L706.7,548.0 L708.4,546.2 L710.0,544.3 L711.6,542.4 L713.2,540.5 L714.8,538.5 L716.3,536.5 L717.8,534.5 L719.3,532.5 L720.7,530.4 L722.1,528.4 L723.6,526.3 L725.0,524.2 L726.3,522.2 L727.7,520.1 L729.1,517.9 L730.4,515.8 L731.7,513.7 L733.1,511.6 L734.4,509.4 L735.7,507.3 L737.0,505.2 L738.3,503.0 L739.5,500.9 L740.8,498.7 L742.1,496.5 L743.4,494.4 L744.6,492.2 L745.9,490.1 L747.2,487.9 L748.4,485.7 L749.7,483.6 L750.9,481.4 L752.2,479.2 L753.5,477.1 L754.7,474.9 L756.0,472.7 L757.2,470.6 L758.5,468.4 L759.8,466.2 L761.1,464.1 L762.3,461.9 L763.6,459.8 L764.9,457.6 L766.2,455.5 L767.5,453.4 L768.8,451.2 L770.2,449.1 L771.5,447.0 L772.8,444.9 L774.2,442.8 L775.6,440.7 L777.0,438.6 L778.4,436.5 L779.8,434.4 L781.2,432.4 L782.7,430.3 L784.1,428.3 L785.6,426.3 L787.1,424.3 L788.7,422.3 L790.2,420.3 L791.8,418.4 L793.4,416.4 L794.9,414.5 L796.6,412.6 L798.2,410.7 L799.8,408.8 L801.4,406.9 L803.1,405.0 L804.7,403.1 L806.4,401.2 L808.1,399.4 L809.8,397.5 L811.5,395.7 L813.2,393.8 L814.9,392.0 L816.6,390.2 L818.3,388.4 L820.1,386.6 L821.8,384.8 L823.6,383.0 L825.3,381.2 L827.1,379.4 L828.9,377.7 L830.7,375.9 L832.5,374.2 L834.3,372.5 L836.2,370.8 L838.0,369.1 L839.8,367.4 L841.7,365.7 L843.6,364.0 L845.4,362.4 L847.3,360.7 L849.2,359.1 L851.1,357.4 L853.0,355.8 L855.0,354.2 L856.9,352.6 L858.8,351.0 L860.8,349.5 L862.8,347.9 L864.7,346.4 L866.7,344.9 L868.7,343.3 L870.7,341.8 L872.8,340.4 L874.8,338.9 L876.8,337.4 L878.9,336.0 L880.9,334.6 L883.0,333.1 L885.1,331.7 L887.2,330.3 L889.2,329.0 L891.3,327.6 L893.4,326.2 L895.6,324.9 L897.7,323.6 L899.8,322.3 L902.0,321.0 L904.1,319.7 L906.3,318.4 L908.4,317.1 L910.6,315.9 L912.8,314.6 L915.0,313.4 L917.2,312.2 L919.4,311.0 L921.6,309.9 L923.8,308.7 L926.1,307.6 L928.3,306.5 L930.6,305.5 L932.9,304.5 L935.2,303.5 L937.5,302.5 L939.8,301.6 L942.2,300.8 L944.5,299.9 L946.9,299.1 L949.3,298.3 L951.7,297.6 L954.1,296.8 L956.4,296.0 L958.8,295.3 L961.2,294.5 L963.6,293.8 L966.0,293.0"/></defs>
<use href="#c5" fill="none" stroke="#fff" stroke-width="10.4" stroke-linecap="round" stroke-linejoin="round"/>
<use href="#c5" fill="none" stroke="#dbe9f0" stroke-width="8" stroke-linecap="round" stroke-linejoin="round"/>
<defs><path id="c6" d="M262.5,277.0 L264.9,276.3 L267.3,275.6 L269.7,274.8 L272.1,274.1 L274.5,273.4 L276.9,272.7 L279.3,272.0 L281.7,271.2 L284.1,270.5 L286.5,269.7 L288.9,268.9 L291.3,268.1 L293.6,267.3 L296.0,266.4 L298.3,265.5 L300.7,264.6 L303.0,263.7 L305.3,262.7 L307.6,261.8 L309.9,260.8 L312.2,259.8 L314.5,258.8 L316.8,257.7 L319.1,256.7 L321.4,255.6 L323.7,254.6 L325.9,253.5 L328.2,252.4 L330.4,251.2 L332.6,250.1 L334.8,248.9 L337.0,247.7 L339.2,246.5 L341.4,245.2 L343.5,243.9 L345.7,242.6 L347.8,241.2 L349.9,239.8 L351.9,238.4 L354.0,236.9 L356.0,235.5 L358.0,233.9 L359.9,232.4 L361.9,230.8 L363.8,229.2 L365.7,227.6 L367.6,225.9 L369.5,224.2 L371.3,222.5 L373.1,220.8 L375.0,219.1 L376.7,217.3 L378.5,215.6 L380.3,213.8 L382.1,212.0 L383.8,210.2 L385.5,208.4 L387.2,206.5 L388.9,204.7 L390.6,202.8 L392.2,200.9 L393.9,199.0 L395.5,197.1 L397.1,195.1 L398.6,193.2 L400.2,191.2 L401.7,189.2 L403.3,187.3 L404.8,185.3 L406.3,183.3 L407.8,181.3 L409.3,179.2 L410.8,177.2 L412.3,175.2 L413.8,173.2 L415.3,171.2 L416.8,169.1 L418.2,167.1 L419.7,165.1 L421.2,163.0 L422.6,161.0 L424.1,159.0 L425.6,157.0 L427.1,155.0 L428.7,153.0 L430.3,151.1 L431.9,149.2 L433.6,147.3 L435.3,145.5 L437.1,143.7 L438.9,142.0 L440.7,140.3 L442.6,138.6 L444.4,136.9 L446.3,135.3 L448.2,133.8 L450.2,132.3 L452.2,131.0 L454.3,129.9 L456.4,129.1 L458.6,128.5 L460.8,128.3 L463.0,128.5 L465.2,128.9 L467.3,129.7 L469.5,130.7 L471.5,132.0 L473.5,133.4 L475.4,134.9 L477.3,136.6 L479.1,138.3 L480.9,140.1 L482.6,141.9 L484.2,143.8 L485.9,145.7 L487.4,147.6 L489.0,149.6 L490.5,151.6 L491.9,153.6 L493.2,155.7 L494.5,157.9 L495.8,160.0 L497.0,162.2 L498.1,164.5 L499.1,166.8 L500.1,169.1 L501.0,171.4 L502.0,173.7 L502.8,176.1 L503.7,178.4 L504.5,180.8 L505.3,183.2 L506.1,185.5 L506.9,187.9 L507.7,190.3 L508.5,192.7 L509.3,195.0 L510.2,197.4 L511.0,199.8 L511.9,202.1 L512.8,204.5 L513.7,206.8 L514.6,209.1 L515.5,211.5 L516.4,213.8 L517.3,216.2 L518.2,218.5 L519.1,220.8 L520.0,223.2 L520.9,225.5 L521.8,227.9 L522.7,230.2 L523.6,232.6 L524.4,235.0 L525.3,237.3 L526.1,239.7 L526.9,242.1 L527.7,244.4 L528.5,246.8 L529.3,249.2 L530.1,251.6 L530.9,254.0 L531.6,256.3 L532.4,258.7 L533.1,261.1 L533.9,263.5 L534.6,265.9 L535.3,268.3 L536.1,270.7 L536.8,273.2 L537.5,275.6 L538.2,278.0 L538.9,280.4 L539.6,282.8 L540.3,285.2 L541.0,287.6 L541.7,290.0 L542.4,292.4 L543.1,294.8 L543.8,297.2 L544.5,299.7 L545.2,302.1 L545.9,304.5 L546.6,306.9 L547.3,309.3 L548.0,311.7 L548.8,314.1 L549.5,316.5 L550.2,318.9 L550.9,321.3 L551.6,323.7 L552.4,326.1 L553.1,328.5 L553.8,330.9 L554.6,333.3 L555.3,335.7 L556.0,338.1 L556.8,340.5 L557.5,342.9 L558.2,345.3 L559.0,347.7 L559.7,350.1 L560.4,352.5 L561.1,354.9 L561.9,357.3 L562.6,359.7 L563.3,362.1 L564.1,364.5 L564.8,366.9 L565.5,369.3 L566.2,371.7 L566.9,374.2 L567.7,376.6 L568.4,379.0 L569.1,381.4 L569.8,383.8 L570.5,386.2 L571.2,388.6 L571.9,391.0 L572.5,393.4 L573.2,395.8 L573.9,398.3 L574.6,400.7 L575.2,403.1 L575.9,405.5 L576.6,407.9 L577.2,410.4 L577.9,412.8 L578.6,415.2 L579.2,417.6 L579.9,420.0 L580.6,422.5 L581.3,424.9 L581.9,427.3 L582.6,429.7 L583.3,432.1 L584.0,434.5 L584.7,436.9 L585.4,439.4 L586.1,441.8 L586.8,444.2 L587.6,446.6 L588.3,449.0 L589.1,451.4 L589.8,453.7 L590.6,456.1 L591.4,458.5 L592.2,460.9 L593.0,463.3 L593.8,465.6 L594.7,468.0 L595.5,470.4 L596.4,472.7 L597.2,475.1 L598.1,477.4 L599.0,479.8 L599.9,482.1 L600.8,484.5 L601.7,486.8 L602.6,489.1 L603.6,491.5 L604.5,493.8 L605.5,496.1 L606.5,498.4 L607.5,500.7 L608.5,503.0 L609.6,505.3 L610.7,507.5 L611.7,509.8 L612.8,512.1 L613.9,514.3 L615.1,516.5 L616.2,518.8 L617.3,521.0 L618.5,523.2 L619.7,525.5 L620.9,527.7 L622.1,529.9 L623.3,532.1 L624.5,534.2 L625.8,536.4 L627.1,538.6 L628.4,540.7 L629.8,542.8 L631.2,544.9 L632.6,546.9 L634.1,548.9 L635.7,550.9 L637.3,552.8 L638.9,554.6 L640.7,556.4 L642.5,558.1 L644.4,559.7 L646.4,561.2 L648.4,562.6 L650.5,563.9 L652.7,565.2 L654.9,566.3 L657.1,567.4 L659.4,568.5 L661.7,569.4 L664.0,570.3 L666.4,571.0 L668.8,571.6 L671.1,572.0 L673.5,572.3 L675.9,572.3 L678.2,572.0 L680.5,571.5 L682.7,570.7 L684.9,569.7 L686.9,568.5 L688.9,567.1 L690.8,565.5 L692.6,563.8 L694.4,562.1 L696.1,560.2 L697.7,558.4 L699.3,556.4 L700.9,554.5 L702.5,552.5 L704.0,550.6 L705.5,548.6 L707.1,546.6 L708.6,544.6 L710.1,542.6 L711.7,540.6 L713.2,538.6 L714.7,536.6 L716.3,534.7 L717.9,532.7 L719.4,530.8 L721.0,528.8 L722.6,526.9 L724.2,524.9 L725.8,523.0 L727.3,521.0 L728.9,519.1 L730.5,517.1 L732.0,515.1 L733.6,513.2 L735.2,511.2 L736.7,509.2 L738.3,507.2 L739.8,505.3 L741.3,503.3 L742.9,501.3 L744.4,499.3 L745.9,497.3 L747.5,495.3 L749.0,493.3 L750.5,491.4 L752.0,489.4 L753.6,487.4 L755.1,485.4 L756.6,483.4 L758.1,481.4 L759.7,479.4 L761.2,477.4 L762.7,475.4 L764.2,473.4 L765.8,471.4 L767.3,469.4 L768.8,467.4 L770.3,465.4 L771.9,463.4 L773.4,461.4 L774.9,459.4 L776.4,457.5 L778.0,455.5 L779.5,453.5 L781.0,451.5 L782.6,449.5 L784.1,447.5 L785.7,445.6 L787.2,443.6 L788.8,441.6 L790.3,439.7 L791.9,437.7 L793.5,435.7 L795.0,433.8 L796.6,431.8 L798.2,429.9 L799.8,427.9 L801.4,426.0 L803.0,424.0 L804.6,422.1 L806.2,420.2 L807.8,418.3 L809.4,416.3 L811.0,414.4 L812.6,412.5 L814.3,410.6 L815.9,408.7 L817.5,406.7 L819.1,404.8 L820.7,402.9 L822.4,401.0 L824.0,399.1 L825.6,397.2 L827.3,395.3 L828.9,393.4 L830.5,391.5 L832.2,389.6 L833.8,387.7 L835.5,385.8 L837.1,383.9 L838.8,382.1 L840.5,380.2 L842.2,378.3 L843.9,376.5 L845.6,374.6 L847.3,372.8 L849.0,370.9 L850.7,369.1 L852.4,367.3 L854.2,365.5 L855.9,363.7 L857.7,361.9 L859.5,360.1 L861.3,358.4 L863.1,356.6 L864.9,354.9 L866.7,353.2 L868.5,351.5 L870.4,349.8 L872.2,348.1 L874.1,346.4 L876.0,344.8 L877.9,343.1 L879.8,341.5 L881.7,339.9 L883.6,338.2 L885.6,336.6 L887.5,335.0 L889.4,333.5 L891.4,331.9 L893.4,330.3 L895.3,328.8 L897.3,327.3 L899.3,325.7 L901.3,324.2 L903.4,322.8 L905.4,321.3 L907.4,319.8 L909.5,318.4 L911.6,317.0 L913.6,315.6 L915.7,314.2 L917.8,312.8 L920.0,311.5 L922.1,310.2 L924.3,308.9 L926.5,307.7 L928.7,306.5 L930.9,305.3 L933.1,304.2 L935.4,303.1 L937.7,302.1 L940.0,301.2 L942.3,300.2 L944.6,299.3 L947.0,298.5 L949.4,297.6 L951.7,296.8 L954.1,296.0 L956.5,295.2 L958.9,294.4 L961.2,293.6 L963.6,292.8 L966.0,292.0"/></defs>
<use href="#c6" fill="none" stroke="#fff" stroke-width="10.4" stroke-linecap="round" stroke-linejoin="round"/>
<use href="#c6" fill="none" stroke="#f7d3c2" stroke-width="8" stroke-linecap="round" stroke-linejoin="round"/>
<defs><path id="c7" d="M262.5,244.0 L264.8,243.1 L267.1,242.1 L269.5,241.2 L271.8,240.3 L274.1,239.3 L276.5,238.5 L278.8,237.6 L281.2,236.7 L283.6,235.9 L285.9,235.1 L288.3,234.3 L290.7,233.5 L293.1,232.8 L295.5,232.0 L297.9,231.3 L300.3,230.5 L302.7,229.8 L305.1,229.0 L307.4,228.2 L309.8,227.4 L312.2,226.6 L314.6,225.8 L316.9,225.0 L319.3,224.1 L321.6,223.3 L324.0,222.4 L326.3,221.5 L328.7,220.5 L331.0,219.6 L333.3,218.6 L335.6,217.6 L337.9,216.6 L340.2,215.6 L342.5,214.5 L344.7,213.5 L347.0,212.3 L349.2,211.2 L351.4,210.0 L353.6,208.8 L355.8,207.6 L358.0,206.3 L360.1,205.1 L362.3,203.8 L364.4,202.5 L366.5,201.2 L368.7,199.8 L370.8,198.5 L373.0,197.2 L375.1,196.0 L377.3,194.7 L379.5,193.5 L381.7,192.2 L383.9,191.0 L386.1,189.9 L388.3,188.7 L390.5,187.6 L392.8,186.4 L395.0,185.3 L397.3,184.2 L399.5,183.0 L401.7,181.9 L404.0,180.8 L406.2,179.7 L408.5,178.6 L410.7,177.4 L412.9,176.3 L415.2,175.1 L417.4,173.9 L419.6,172.7 L421.8,171.5 L424.0,170.3 L426.2,169.1 L428.3,167.8 L430.5,166.6 L432.7,165.3 L434.8,164.0 L437.0,162.7 L439.1,161.4 L441.2,160.1 L443.3,158.7 L445.4,157.4 L447.5,156.0 L449.6,154.5 L451.6,153.1 L453.7,151.6 L455.7,150.2 L457.7,148.7 L459.7,147.2 L461.7,145.6 L463.7,144.1 L465.7,142.6 L467.8,141.1 L469.8,139.7 L471.8,138.2 L473.9,136.8 L476.0,135.4 L478.0,134.0 L480.1,132.6 L482.2,131.3 L484.4,130.0 L486.5,128.8 L488.7,127.8 L491.0,126.9 L493.2,126.2 L495.6,125.7 L497.9,125.6 L500.2,125.7 L502.5,126.1 L504.7,126.7 L506.9,127.6 L509.1,128.7 L511.2,130.0 L513.2,131.4 L515.1,133.0 L517.0,134.6 L518.8,136.3 L520.5,138.1 L522.2,139.9 L523.8,141.8 L525.4,143.8 L526.8,145.8 L528.3,147.8 L529.6,149.9 L530.9,152.1 L532.2,154.2 L533.4,156.4 L534.6,158.6 L535.7,160.9 L536.8,163.1 L537.9,165.4 L538.9,167.7 L539.9,170.0 L540.9,172.3 L541.9,174.6 L542.9,176.9 L543.9,179.2 L544.9,181.5 L545.8,183.8 L546.8,186.1 L547.7,188.5 L548.7,190.8 L549.6,193.1 L550.6,195.4 L551.5,197.8 L552.4,200.1 L553.3,202.4 L554.2,204.8 L555.1,207.1 L555.9,209.5 L556.8,211.8 L557.6,214.2 L558.4,216.6 L559.2,219.0 L560.0,221.3 L560.8,223.7 L561.5,226.1 L562.3,228.5 L563.0,230.9 L563.8,233.3 L564.5,235.7 L565.2,238.1 L565.9,240.5 L566.6,242.9 L567.2,245.4 L567.9,247.8 L568.5,250.2 L569.1,252.6 L569.7,255.1 L570.3,257.5 L570.9,260.0 L571.5,262.4 L572.1,264.8 L572.7,267.3 L573.2,269.7 L573.8,272.2 L574.3,274.6 L574.9,277.1 L575.4,279.5 L576.0,282.0 L576.5,284.4 L577.1,286.9 L577.6,289.3 L578.2,291.7 L578.8,294.2 L579.3,296.6 L579.9,299.1 L580.5,301.5 L581.0,304.0 L581.6,306.4 L582.2,308.8 L582.8,311.3 L583.5,313.7 L584.1,316.1 L584.7,318.6 L585.4,321.0 L586.1,323.4 L586.7,325.8 L587.4,328.2 L588.1,330.6 L588.8,333.0 L589.5,335.4 L590.2,337.9 L590.9,340.3 L591.7,342.7 L592.4,345.1 L593.1,347.5 L593.9,349.9 L594.6,352.3 L595.3,354.7 L596.1,357.0 L596.8,359.4 L597.6,361.8 L598.3,364.2 L599.0,366.6 L599.8,369.0 L600.5,371.4 L601.2,373.8 L602.0,376.2 L602.7,378.6 L603.4,381.0 L604.1,383.5 L604.8,385.9 L605.5,388.3 L606.2,390.7 L606.9,393.1 L607.6,395.5 L608.3,397.9 L609.0,400.3 L609.7,402.7 L610.4,405.1 L611.1,407.5 L611.8,409.9 L612.5,412.4 L613.2,414.8 L613.9,417.2 L614.6,419.6 L615.3,422.0 L616.0,424.4 L616.7,426.8 L617.4,429.2 L618.1,431.6 L618.8,434.0 L619.5,436.5 L620.2,438.9 L620.9,441.3 L621.6,443.7 L622.3,446.1 L623.0,448.5 L623.7,450.9 L624.4,453.3 L625.1,455.7 L625.9,458.1 L626.6,460.5 L627.3,462.9 L628.0,465.3 L628.7,467.7 L629.4,470.1 L630.1,472.6 L630.8,475.0 L631.5,477.4 L632.2,479.8 L632.9,482.2 L633.6,484.6 L634.4,487.0 L635.1,489.4 L635.9,491.8 L636.7,494.1 L637.6,496.5 L638.4,498.8 L639.3,501.2 L640.3,503.5 L641.2,505.8 L642.2,508.1 L643.2,510.4 L644.3,512.7 L645.4,514.9 L646.5,517.2 L647.7,519.4 L648.9,521.6 L650.2,523.7 L651.5,525.9 L652.9,528.0 L654.3,530.0 L655.7,532.1 L657.2,534.1 L658.7,536.1 L660.3,538.0 L661.9,540.0 L663.5,541.9 L665.2,543.8 L666.8,545.6 L668.5,547.5 L670.3,549.3 L672.1,551.0 L673.9,552.7 L675.7,554.4 L677.6,556.0 L679.6,557.6 L681.6,559.1 L683.6,560.5 L685.7,561.8 L687.9,563.0 L690.1,564.0 L692.4,565.0 L694.7,565.7 L697.1,566.3 L699.4,566.7 L701.8,566.8 L704.2,566.8 L706.6,566.5 L708.9,565.9 L711.1,565.1 L713.3,564.1 L715.5,563.0 L717.5,561.6 L719.5,560.2 L721.4,558.6 L723.3,556.9 L725.1,555.2 L726.8,553.4 L728.5,551.6 L730.2,549.8 L731.8,547.9 L733.4,545.9 L735.0,544.0 L736.5,542.0 L738.0,540.0 L739.5,537.9 L740.9,535.9 L742.3,533.8 L743.6,531.7 L744.9,529.5 L746.2,527.4 L747.5,525.2 L748.7,523.0 L749.9,520.8 L751.1,518.6 L752.3,516.4 L753.5,514.2 L754.7,512.0 L755.8,509.8 L757.0,507.5 L758.1,505.3 L759.3,503.1 L760.4,500.8 L761.5,498.6 L762.7,496.4 L763.8,494.1 L764.9,491.9 L766.0,489.6 L767.1,487.4 L768.2,485.1 L769.3,482.9 L770.4,480.6 L771.4,478.3 L772.5,476.0 L773.5,473.7 L774.5,471.4 L775.5,469.1 L776.5,466.8 L777.4,464.5 L778.4,462.2 L779.4,459.9 L780.4,457.6 L781.3,455.3 L782.3,453.0 L783.3,450.7 L784.3,448.4 L785.3,446.1 L786.3,443.8 L787.4,441.5 L788.4,439.2 L789.5,436.9 L790.6,434.7 L791.7,432.4 L792.8,430.2 L794.0,428.0 L795.2,425.8 L796.4,423.6 L797.7,421.4 L799.0,419.3 L800.3,417.1 L801.6,415.0 L803.0,412.9 L804.3,410.8 L805.7,408.7 L807.2,406.7 L808.6,404.6 L810.1,402.6 L811.6,400.6 L813.1,398.5 L814.6,396.5 L816.1,394.6 L817.6,392.6 L819.2,390.6 L820.7,388.6 L822.3,386.7 L823.9,384.7 L825.4,382.8 L827.0,380.8 L828.6,378.9 L830.2,376.9 L831.8,375.0 L833.4,373.0 L835.0,371.1 L836.5,369.2 L838.1,367.2 L839.7,365.3 L841.3,363.3 L842.9,361.4 L844.4,359.4 L846.0,357.4 L847.5,355.5 L849.1,353.5 L850.7,351.5 L852.2,349.6 L853.7,347.6 L855.3,345.6 L856.8,343.6 L858.4,341.6 L859.9,339.7 L861.4,337.7 L863.0,335.7 L864.5,333.7 L866.1,331.8 L867.6,329.8 L869.2,327.8 L870.8,325.9 L872.4,323.9 L873.9,322.0 L875.5,320.0 L877.1,318.1 L878.7,316.2 L880.3,314.3 L882.0,312.3 L883.6,310.5 L885.3,308.6 L886.9,306.7 L888.6,304.8 L890.3,303.0 L892.1,301.2 L893.8,299.4 L895.6,297.6 L897.3,295.8 L899.1,294.1 L900.9,292.3 L902.8,290.6 L904.6,288.9 L906.5,287.2 L908.3,285.6 L910.2,283.9 L912.1,282.3 L914.0,280.6 L915.9,279.0 L917.9,277.4 L919.8,275.8 L921.8,274.2 L923.7,272.7 L925.7,271.1 L927.7,269.6 L929.7,268.2 L931.8,266.7 L933.8,265.3 L935.9,264.0 L938.1,262.7 L940.2,261.4 L942.4,260.3 L944.7,259.4 L947.0,258.5 L949.3,257.9 L951.6,257.5 L954.0,257.3 L956.4,257.3 L958.8,257.5 L961.2,257.9 L963.6,258.4 L966.0,259.0"/></defs>
<use href="#c7" fill="none" stroke="#fff" stroke-width="10.4" stroke-linecap="round" stroke-linejoin="round"/>
<use href="#c7" fill="none" stroke="#ee9a7c" stroke-width="8" stroke-linecap="round" stroke-linejoin="round"/>
<defs><path id="c8" d="M262.5,247.0 L265.0,246.6 L267.4,246.2 L269.9,245.7 L272.4,245.3 L274.9,244.9 L277.3,244.4 L279.8,244.0 L282.2,243.5 L284.7,243.1 L287.2,242.6 L289.6,242.1 L292.1,241.6 L294.5,241.1 L297.0,240.6 L299.5,240.1 L301.9,239.6 L304.4,239.1 L306.8,238.6 L309.3,238.1 L311.7,237.5 L314.2,237.0 L316.6,236.4 L319.1,235.9 L321.5,235.3 L323.9,234.7 L326.4,234.1 L328.8,233.5 L331.2,232.8 L333.6,232.2 L336.0,231.5 L338.4,230.8 L340.8,230.0 L343.2,229.2 L345.6,228.4 L347.9,227.6 L350.3,226.7 L352.6,225.8 L354.9,224.8 L357.2,223.8 L359.5,222.8 L361.8,221.8 L364.1,220.7 L366.3,219.7 L368.6,218.6 L370.9,217.5 L373.1,216.4 L375.4,215.3 L377.6,214.2 L379.9,213.1 L382.1,212.0 L384.4,211.0 L386.7,209.9 L389.0,208.9 L391.2,207.8 L393.5,206.8 L395.8,205.8 L398.2,204.9 L400.5,203.9 L402.8,203.0 L405.2,202.2 L407.5,201.3 L409.9,200.5 L412.2,199.7 L414.6,198.9 L417.0,198.1 L419.4,197.3 L421.8,196.6 L424.2,195.8 L426.6,195.1 L429.0,194.4 L431.4,193.6 L433.8,192.9 L436.1,192.1 L438.5,191.3 L440.8,190.4 L443.2,189.5 L445.4,188.5 L447.7,187.4 L449.9,186.3 L452.1,185.1 L454.2,183.8 L456.3,182.5 L458.4,181.1 L460.5,179.6 L462.5,178.2 L464.5,176.7 L466.5,175.1 L468.4,173.6 L470.4,172.0 L472.3,170.3 L474.2,168.7 L476.0,167.0 L477.9,165.3 L479.7,163.6 L481.5,161.9 L483.3,160.1 L485.0,158.3 L486.8,156.6 L488.6,154.8 L490.4,153.0 L492.2,151.3 L494.0,149.6 L495.9,148.0 L497.8,146.4 L499.7,144.8 L501.7,143.2 L503.7,141.7 L505.7,140.3 L507.8,138.8 L509.9,137.4 L512.0,136.1 L514.1,134.8 L516.3,133.6 L518.5,132.5 L520.8,131.5 L523.1,130.6 L525.4,129.8 L527.7,129.2 L530.1,128.8 L532.5,128.5 L534.9,128.6 L537.2,128.8 L539.6,129.3 L541.9,130.0 L544.1,131.0 L546.3,132.1 L548.4,133.3 L550.4,134.7 L552.3,136.3 L554.1,137.9 L555.9,139.6 L557.6,141.5 L559.1,143.4 L560.6,145.4 L562.0,147.4 L563.3,149.6 L564.5,151.7 L565.6,153.9 L566.7,156.2 L567.8,158.5 L568.8,160.8 L569.7,163.1 L570.7,165.4 L571.6,167.7 L572.5,170.1 L573.3,172.4 L574.2,174.8 L575.1,177.1 L575.9,179.5 L576.8,181.8 L577.6,184.2 L578.5,186.5 L579.4,188.9 L580.2,191.2 L581.1,193.6 L582.0,195.9 L582.9,198.3 L583.7,200.6 L584.6,203.0 L585.4,205.4 L586.3,207.7 L587.1,210.1 L588.0,212.4 L588.8,214.8 L589.6,217.2 L590.4,219.6 L591.2,221.9 L592.0,224.3 L592.7,226.7 L593.5,229.1 L594.3,231.5 L595.0,233.9 L595.8,236.3 L596.5,238.6 L597.3,241.0 L598.0,243.4 L598.7,245.8 L599.5,248.2 L600.2,250.6 L600.9,253.0 L601.6,255.5 L602.3,257.9 L602.9,260.3 L603.6,262.7 L604.3,265.1 L605.0,267.5 L605.6,269.9 L606.3,272.4 L607.0,274.8 L607.6,277.2 L608.3,279.6 L609.0,282.0 L609.6,284.4 L610.3,286.9 L610.9,289.3 L611.6,291.7 L612.3,294.1 L612.9,296.5 L613.6,298.9 L614.2,301.4 L614.9,303.8 L615.6,306.2 L616.3,308.6 L616.9,311.0 L617.6,313.4 L618.3,315.8 L619.0,318.2 L619.7,320.7 L620.4,323.1 L621.2,325.5 L621.9,327.9 L622.6,330.3 L623.4,332.7 L624.1,335.0 L624.8,337.4 L625.6,339.8 L626.3,342.2 L627.1,344.6 L627.8,347.0 L628.6,349.4 L629.3,351.8 L630.1,354.2 L630.8,356.6 L631.5,359.0 L632.2,361.4 L633.0,363.8 L633.7,366.2 L634.4,368.6 L635.0,371.0 L635.7,373.4 L636.4,375.9 L637.0,378.3 L637.6,380.7 L638.2,383.1 L638.8,385.6 L639.4,388.0 L640.0,390.5 L640.5,392.9 L641.0,395.3 L641.6,397.8 L642.1,400.3 L642.6,402.7 L643.1,405.2 L643.6,407.6 L644.1,410.1 L644.5,412.5 L645.0,415.0 L645.5,417.5 L646.0,419.9 L646.5,422.4 L647.0,424.8 L647.5,427.3 L648.0,429.7 L648.6,432.2 L649.1,434.6 L649.7,437.1 L650.3,439.5 L650.9,441.9 L651.5,444.4 L652.1,446.8 L652.7,449.2 L653.4,451.7 L654.0,454.1 L654.7,456.5 L655.4,458.9 L656.1,461.3 L656.9,463.7 L657.6,466.1 L658.4,468.4 L659.3,470.8 L660.1,473.2 L660.9,475.5 L661.8,477.9 L662.7,480.2 L663.6,482.6 L664.5,484.9 L665.4,487.2 L666.4,489.6 L667.3,491.9 L668.3,494.2 L669.3,496.5 L670.3,498.8 L671.3,501.1 L672.3,503.4 L673.4,505.6 L674.5,507.9 L675.6,510.1 L676.7,512.4 L677.9,514.6 L679.1,516.8 L680.3,519.0 L681.6,521.1 L682.8,523.3 L684.1,525.4 L685.4,527.6 L686.8,529.7 L688.1,531.8 L689.5,533.9 L690.9,535.9 L692.4,538.0 L693.9,540.0 L695.4,542.0 L696.9,543.9 L698.6,545.8 L700.2,547.7 L701.9,549.5 L703.7,551.2 L705.6,552.9 L707.5,554.4 L709.5,555.9 L711.6,557.2 L713.7,558.3 L715.9,559.3 L718.2,560.1 L720.5,560.6 L722.9,561.0 L725.3,561.1 L727.7,560.9 L730.1,560.6 L732.4,560.0 L734.7,559.3 L737.0,558.4 L739.3,557.4 L741.5,556.3 L743.7,555.1 L745.8,553.8 L747.9,552.5 L750.0,551.0 L752.0,549.6 L754.0,548.0 L755.9,546.4 L757.8,544.8 L759.6,543.1 L761.4,541.4 L763.1,539.6 L764.8,537.7 L766.4,535.8 L768.0,533.9 L769.5,531.9 L770.9,529.8 L772.3,527.8 L773.7,525.7 L775.0,523.6 L776.3,521.4 L777.6,519.2 L778.8,517.1 L780.0,514.9 L781.2,512.7 L782.3,510.4 L783.5,508.2 L784.6,506.0 L785.7,503.7 L786.8,501.4 L787.8,499.2 L788.9,496.9 L789.9,494.6 L790.9,492.3 L791.8,490.0 L792.7,487.7 L793.6,485.3 L794.5,483.0 L795.3,480.6 L796.2,478.2 L797.0,475.9 L797.8,473.5 L798.6,471.1 L799.4,468.7 L800.1,466.4 L800.9,464.0 L801.7,461.6 L802.4,459.2 L803.2,456.8 L804.0,454.4 L804.8,452.0 L805.5,449.7 L806.3,447.3 L807.2,444.9 L808.0,442.5 L808.8,440.2 L809.7,437.8 L810.5,435.5 L811.4,433.1 L812.4,430.8 L813.3,428.5 L814.3,426.2 L815.3,423.9 L816.3,421.6 L817.4,419.3 L818.5,417.1 L819.6,414.8 L820.7,412.6 L821.8,410.4 L823.0,408.1 L824.2,405.9 L825.3,403.7 L826.5,401.5 L827.8,399.3 L829.0,397.1 L830.2,395.0 L831.5,392.8 L832.8,390.6 L834.0,388.5 L835.3,386.3 L836.6,384.2 L838.0,382.1 L839.3,379.9 L840.6,377.8 L842.0,375.7 L843.3,373.6 L844.7,371.5 L846.1,369.4 L847.5,367.3 L848.9,365.2 L850.3,363.2 L851.7,361.1 L853.1,359.0 L854.5,357.0 L856.0,354.9 L857.4,352.9 L858.9,350.8 L860.3,348.8 L861.8,346.8 L863.3,344.7 L864.8,342.7 L866.2,340.7 L867.7,338.7 L869.2,336.7 L870.8,334.7 L872.3,332.7 L873.8,330.7 L875.4,328.7 L876.9,326.8 L878.5,324.8 L880.1,322.9 L881.7,321.0 L883.3,319.1 L885.0,317.2 L886.7,315.3 L888.4,313.5 L890.1,311.7 L891.9,309.9 L893.6,308.1 L895.5,306.4 L897.3,304.7 L899.2,303.0 L901.1,301.4 L903.0,299.8 L904.9,298.3 L906.9,296.7 L908.9,295.2 L911.0,293.8 L913.0,292.3 L915.1,290.9 L917.2,289.6 L919.3,288.2 L921.4,286.9 L923.6,285.6 L925.8,284.4 L928.0,283.2 L930.2,282.0 L932.4,280.9 L934.7,279.9 L937.0,278.8 L939.3,277.9 L941.6,277.0 L944.0,276.2 L946.3,275.5 L948.7,274.8 L951.2,274.3 L953.6,273.8 L956.1,273.4 L958.6,273.0 L961.0,272.7 L963.5,272.3 L966.0,272.0"/></defs>
<use href="#c8" fill="none" stroke="#fff" stroke-width="10.4" stroke-linecap="round" stroke-linejoin="round"/>
<use href="#c8" fill="none" stroke="#d65a4c" stroke-width="8" stroke-linecap="round" stroke-linejoin="round"/>
<defs><path id="c9" d="M262.5,264.0 L264.9,263.3 L267.3,262.6 L269.7,261.9 L272.1,261.2 L274.6,260.6 L277.0,259.9 L279.4,259.3 L281.9,258.7 L284.3,258.2 L286.7,257.6 L289.2,257.1 L291.7,256.6 L294.1,256.1 L296.6,255.7 L299.0,255.2 L301.5,254.7 L304.0,254.3 L306.5,253.8 L308.9,253.4 L311.4,252.9 L313.9,252.5 L316.3,252.1 L318.8,251.6 L321.3,251.2 L323.7,250.7 L326.2,250.3 L328.7,249.9 L331.1,249.4 L333.6,249.0 L336.1,248.5 L338.5,248.0 L341.0,247.6 L343.5,247.1 L345.9,246.6 L348.4,246.1 L350.8,245.6 L353.3,245.1 L355.7,244.5 L358.2,244.0 L360.7,243.5 L363.1,242.9 L365.5,242.4 L368.0,241.8 L370.4,241.2 L372.9,240.7 L375.3,240.1 L377.8,239.5 L380.2,238.9 L382.6,238.4 L385.1,237.8 L387.5,237.2 L390.0,236.6 L392.4,236.0 L394.8,235.4 L397.3,234.8 L399.7,234.2 L402.1,233.6 L404.6,233.0 L407.0,232.4 L409.4,231.8 L411.9,231.1 L414.3,230.5 L416.7,230.0 L419.2,229.4 L421.6,228.9 L424.1,228.4 L426.6,228.0 L429.0,227.6 L431.5,227.2 L434.0,226.8 L436.5,226.4 L438.9,226.0 L441.4,225.6 L443.9,225.2 L446.4,224.7 L448.8,224.2 L451.3,223.7 L453.7,223.1 L456.1,222.5 L458.5,221.8 L460.9,221.1 L463.3,220.3 L465.7,219.5 L468.0,218.6 L470.3,217.6 L472.6,216.7 L474.9,215.6 L477.2,214.5 L479.4,213.4 L481.6,212.2 L483.7,211.0 L485.9,209.7 L488.0,208.3 L490.0,206.9 L492.0,205.4 L494.0,203.9 L496.0,202.3 L498.0,200.8 L499.9,199.2 L501.9,197.6 L503.8,196.1 L505.8,194.5 L507.8,193.0 L509.8,191.5 L511.8,190.0 L513.8,188.4 L515.8,186.9 L517.8,185.4 L519.8,183.9 L521.8,182.4 L523.7,180.8 L525.7,179.3 L527.7,177.7 L529.6,176.1 L531.6,174.6 L533.5,173.0 L535.5,171.5 L537.5,169.9 L539.5,168.4 L541.4,166.8 L543.4,165.3 L545.4,163.7 L547.4,162.2 L549.4,160.7 L551.4,159.3 L553.5,158.0 L555.6,156.8 L557.8,155.8 L560.0,155.1 L562.3,154.6 L564.5,154.4 L566.8,154.5 L569.1,154.9 L571.3,155.6 L573.5,156.5 L575.6,157.7 L577.6,159.0 L579.6,160.5 L581.5,162.1 L583.3,163.7 L585.1,165.5 L586.8,167.3 L588.4,169.2 L590.0,171.1 L591.6,173.1 L593.0,175.1 L594.4,177.2 L595.8,179.3 L597.1,181.4 L598.3,183.6 L599.5,185.8 L600.7,188.0 L601.8,190.2 L602.8,192.5 L603.9,194.8 L604.9,197.1 L605.8,199.4 L606.7,201.7 L607.6,204.1 L608.4,206.5 L609.2,208.8 L610.0,211.2 L610.7,213.6 L611.4,216.0 L612.1,218.4 L612.7,220.9 L613.4,223.3 L614.0,225.7 L614.6,228.1 L615.2,230.6 L615.8,233.0 L616.4,235.5 L617.0,237.9 L617.6,240.3 L618.2,242.8 L618.8,245.2 L619.4,247.6 L620.0,250.1 L620.6,252.5 L621.3,254.9 L621.9,257.4 L622.5,259.8 L623.2,262.2 L623.8,264.6 L624.4,267.1 L625.0,269.5 L625.7,271.9 L626.3,274.4 L626.9,276.8 L627.5,279.2 L628.2,281.6 L628.8,284.1 L629.4,286.5 L630.0,288.9 L630.7,291.4 L631.3,293.8 L631.9,296.2 L632.5,298.7 L633.2,301.1 L633.8,303.5 L634.5,305.9 L635.1,308.4 L635.8,310.8 L636.4,313.2 L637.1,315.6 L637.8,318.0 L638.5,320.4 L639.2,322.9 L639.9,325.3 L640.6,327.7 L641.3,330.1 L642.0,332.5 L642.7,334.9 L643.5,337.3 L644.2,339.7 L644.9,342.1 L645.7,344.5 L646.4,346.9 L647.2,349.3 L647.9,351.6 L648.7,354.0 L649.4,356.4 L650.1,358.8 L650.9,361.2 L651.6,363.6 L652.3,366.0 L653.0,368.5 L653.7,370.9 L654.4,373.3 L655.1,375.7 L655.7,378.1 L656.4,380.5 L657.0,383.0 L657.6,385.4 L658.2,387.8 L658.7,390.3 L659.3,392.7 L659.8,395.2 L660.3,397.6 L660.8,400.1 L661.3,402.6 L661.9,405.0 L662.4,407.5 L662.9,409.9 L663.5,412.4 L664.1,414.8 L664.7,417.2 L665.3,419.7 L665.9,422.1 L666.6,424.5 L667.3,426.9 L668.0,429.3 L668.6,431.7 L669.3,434.2 L670.0,436.6 L670.8,439.0 L671.5,441.4 L672.2,443.8 L673.0,446.2 L673.7,448.6 L674.4,451.0 L675.2,453.3 L676.0,455.7 L676.7,458.1 L677.5,460.5 L678.3,462.9 L679.1,465.3 L679.9,467.6 L680.7,470.0 L681.5,472.4 L682.4,474.8 L683.2,477.1 L684.1,479.5 L684.9,481.8 L685.8,484.2 L686.6,486.5 L687.5,488.9 L688.4,491.2 L689.3,493.6 L690.2,495.9 L691.0,498.3 L691.9,500.6 L692.8,503.0 L693.7,505.3 L694.7,507.6 L695.6,510.0 L696.6,512.3 L697.6,514.6 L698.6,516.9 L699.6,519.1 L700.7,521.4 L701.9,523.6 L703.0,525.8 L704.3,528.0 L705.5,530.2 L706.9,532.3 L708.2,534.4 L709.7,536.5 L711.1,538.5 L712.6,540.5 L714.2,542.4 L715.8,544.3 L717.5,546.2 L719.2,547.9 L721.0,549.6 L722.9,551.1 L724.9,552.4 L726.9,553.5 L729.1,554.3 L731.3,554.8 L733.5,555.0 L735.8,554.8 L738.0,554.4 L740.2,553.6 L742.3,552.6 L744.4,551.4 L746.4,550.0 L748.4,548.5 L750.3,546.9 L752.1,545.2 L753.9,543.5 L755.6,541.7 L757.2,539.8 L758.8,537.9 L760.4,535.9 L761.9,533.9 L763.3,531.8 L764.7,529.8 L766.1,527.7 L767.4,525.6 L768.7,523.4 L770.0,521.3 L771.3,519.1 L772.6,517.0 L773.9,514.8 L775.2,512.7 L776.4,510.5 L777.7,508.3 L779.0,506.2 L780.3,504.0 L781.6,501.9 L782.8,499.7 L784.1,497.5 L785.4,495.4 L786.6,493.2 L787.9,491.0 L789.1,488.8 L790.3,486.7 L791.6,484.5 L792.8,482.3 L794.0,480.1 L795.2,477.9 L796.4,475.7 L797.6,473.5 L798.8,471.3 L800.0,469.1 L801.2,466.8 L802.3,464.6 L803.5,462.4 L804.7,460.2 L805.9,458.0 L807.0,455.7 L808.2,453.5 L809.3,451.3 L810.4,449.0 L811.6,446.8 L812.7,444.6 L813.8,442.3 L814.9,440.1 L816.0,437.8 L817.1,435.6 L818.2,433.3 L819.4,431.1 L820.5,428.8 L821.6,426.6 L822.7,424.3 L823.8,422.1 L825.0,419.8 L826.1,417.6 L827.2,415.4 L828.3,413.1 L829.4,410.9 L830.5,408.6 L831.6,406.4 L832.7,404.1 L833.8,401.8 L834.9,399.6 L836.0,397.3 L837.1,395.1 L838.3,392.8 L839.4,390.6 L840.5,388.4 L841.6,386.1 L842.8,383.9 L844.0,381.7 L845.1,379.5 L846.3,377.2 L847.5,375.1 L848.8,372.9 L850.0,370.7 L851.3,368.5 L852.6,366.4 L853.9,364.3 L855.3,362.2 L856.7,360.1 L858.1,358.0 L859.6,356.0 L861.1,354.0 L862.6,352.0 L864.1,350.0 L865.7,348.0 L867.2,346.1 L868.9,344.2 L870.5,342.3 L872.1,340.4 L873.8,338.5 L875.5,336.6 L877.2,334.8 L878.9,333.0 L880.7,331.2 L882.4,329.4 L884.2,327.6 L886.0,325.9 L887.8,324.1 L889.6,322.4 L891.4,320.6 L893.2,318.9 L895.1,317.2 L896.9,315.5 L898.8,313.9 L900.7,312.2 L902.5,310.5 L904.4,308.9 L906.3,307.2 L908.2,305.6 L910.1,304.0 L912.0,302.3 L914.0,300.7 L915.9,299.1 L917.9,297.6 L919.8,296.0 L921.8,294.5 L923.8,293.0 L925.9,291.5 L927.9,290.1 L930.0,288.7 L932.1,287.3 L934.2,286.0 L936.4,284.8 L938.6,283.6 L940.8,282.6 L943.1,281.6 L945.4,280.7 L947.8,279.9 L950.1,279.2 L952.5,278.8 L954.8,278.5 L957.1,278.4 L959.2,278.7 L961.2,279.2 L963.0,280.2 L964.5,281.4 L965.8,283.0 L966.8,284.9 L967.7,286.9 L968.5,289.0"/></defs>
<use href="#c9" fill="none" stroke="#fff" stroke-width="10.4" stroke-linecap="round" stroke-linejoin="round"/>
<use href="#c9" fill="none" stroke="#b11f38" stroke-width="8" stroke-linecap="round" stroke-linejoin="round"/>
<circle cx="264.1" cy="94.5" r="6.5" fill="#3a72b0"/>
<circle cx="262.8" cy="131" r="6" fill="#213f7c"/>
<g>
<rect x="887.2" y="508.8" width="154" height="107" fill="#5d6168"/>
<rect x="933.7" y="508.8" width="18" height="107" fill="#62666d"/>
<rect x="1004.2" y="508.8" width="18" height="107" fill="#62666d"/>
<path d="M899.7,508.8 L899.7,513.3 L899.8,517.7 L900.4,522.2 L901.8,526.6 L901.0,531.1 L899.9,535.5 L899.7,540.0 L899.7,544.5 L899.7,548.9 L899.8,553.4 L901.0,557.8 L901.9,562.3 L900.5,566.8 L899.8,571.2 L899.7,575.7 L899.7,580.1 L899.8,584.6 L900.6,589.0 L901.9,593.5 L900.8,598.0 L899.8,602.4 L899.7,606.9 L899.7,611.3 L899.7,615.8" fill="none" stroke="#3a3d44" stroke-width="2.2" opacity="0.7"/>
<path d="M933.7,508.8 L933.7,513.3 L933.6,517.7 L933.0,522.2 L931.6,526.6 L932.4,531.1 L933.5,535.5 L933.7,540.0 L933.7,544.5 L933.7,548.9 L933.6,553.4 L932.4,557.8 L931.5,562.3 L932.9,566.8 L933.6,571.2 L933.7,575.7 L933.7,580.1 L933.6,584.6 L932.8,589.0 L931.5,593.5 L932.6,598.0 L933.6,602.4 L933.7,606.9 L933.7,611.3 L933.7,615.8" fill="none" stroke="#3a3d44" stroke-width="2.2" opacity="0.7"/>
<path d="M952.2,508.8 L952.2,513.3 L952.3,517.7 L952.9,522.2 L954.3,526.6 L953.5,531.1 L952.4,535.5 L952.2,540.0 L952.2,544.5 L952.2,548.9 L952.3,553.4 L953.5,557.8 L954.4,562.3 L953.0,566.8 L952.3,571.2 L952.2,575.7 L952.2,580.1 L952.3,584.6 L953.1,589.0 L954.4,593.5 L953.3,598.0 L952.3,602.4 L952.2,606.9 L952.2,611.3 L952.2,615.8" fill="none" stroke="#3a3d44" stroke-width="2.2" opacity="0.7"/>
<path d="M986.7,508.8 L986.7,513.3 L986.6,517.7 L986.0,522.2 L984.6,526.6 L985.4,531.1 L986.5,535.5 L986.7,540.0 L986.7,544.5 L986.7,548.9 L986.6,553.4 L985.4,557.8 L984.5,562.3 L985.9,566.8 L986.6,571.2 L986.7,575.7 L986.7,580.1 L986.6,584.6 L985.8,589.0 L984.5,593.5 L985.6,598.0 L986.6,602.4 L986.7,606.9 L986.7,611.3 L986.7,615.8" fill="none" stroke="#3a3d44" stroke-width="2.2" opacity="0.7"/>
<path d="M1004.2,508.8 L1004.2,513.3 L1004.3,517.7 L1004.9,522.2 L1006.3,526.6 L1005.5,531.1 L1004.4,535.5 L1004.2,540.0 L1004.2,544.5 L1004.2,548.9 L1004.3,553.4 L1005.5,557.8 L1006.4,562.3 L1005.0,566.8 L1004.3,571.2 L1004.2,575.7 L1004.2,580.1 L1004.3,584.6 L1005.1,589.0 L1006.4,593.5 L1005.3,598.0 L1004.3,602.4 L1004.2,606.9 L1004.2,611.3 L1004.2,615.8" fill="none" stroke="#3a3d44" stroke-width="2.2" opacity="0.7"/>
<path d="M1037.2,508.8 L1037.2,513.3 L1037.1,517.7 L1036.5,522.2 L1035.1,526.6 L1035.9,531.1 L1037.0,535.5 L1037.2,540.0 L1037.2,544.5 L1037.2,548.9 L1037.1,553.4 L1035.9,557.8 L1035.0,562.3 L1036.4,566.8 L1037.1,571.2 L1037.2,575.7 L1037.2,580.1 L1037.1,584.6 L1036.3,589.0 L1035.0,593.5 L1036.1,598.0 L1037.1,602.4 L1037.2,606.9 L1037.2,611.3 L1037.2,615.8" fill="none" stroke="#3a3d44" stroke-width="2.2" opacity="0.7"/>
<circle cx="917.2" cy="527.3" r="2.6" fill="#30333a" opacity="0.80"/>
<circle cx="917.2" cy="561.1" r="2.6" fill="#30333a" opacity="0.80"/>
<circle cx="917.2" cy="593.3" r="2.6" fill="#30333a" opacity="0.30"/>
<circle cx="969.2" cy="527.3" r="2.6" fill="#30333a" opacity="0.80"/>
<circle cx="969.2" cy="561.1" r="2.6" fill="#30333a" opacity="0.80"/>
<circle cx="969.2" cy="593.3" r="2.6" fill="#30333a" opacity="0.30"/>
<circle cx="1021.2" cy="527.3" r="2.6" fill="#30333a" opacity="0.80"/>
<circle cx="1021.2" cy="561.1" r="2.6" fill="#30333a" opacity="0.80"/>
<circle cx="1021.2" cy="593.3" r="2.6" fill="#30333a" opacity="0.30"/>
</g>
<polygon points="597.6,122.5 822.0,122.5 822.0,103.8 858.6,142.2 822.0,179.0 822.0,161.8 597.6,161.8 616.7,142.2" fill="url(#ag)" stroke="#3e4b6c" stroke-width="2" stroke-linejoin="miter"/>
<text x="608.5" y="104.5" font-family='"Liberation Serif", serif' font-size="56" text-anchor="start" fill="#3566a6">51°</text>
<text x="801.5" y="104.5" font-family='"Liberation Serif", serif' font-size="56" text-anchor="start" fill="#b1243a">75°</text>
<path d="M184.4,35.0 H1045.0 V640.0 H184.4 Z" fill="none" stroke="#3c3e44" stroke-width="4.4"/>
<line x1="184.4" y1="590.3" x2="196.4" y2="590.3" stroke="#3c3e44" stroke-width="4"/>
<text x="161.0" y="604.5" font-family='"Liberation Serif", serif' font-size="56" text-anchor="end" fill="#231f20">0</text>
<line x1="184.4" y1="489.4" x2="196.4" y2="489.4" stroke="#3c3e44" stroke-width="4"/>
<text x="161.0" y="504.5" font-family='"Liberation Serif", serif' font-size="56" text-anchor="end" fill="#231f20">0.2</text>
<line x1="184.4" y1="388.6" x2="196.4" y2="388.6" stroke="#3c3e44" stroke-width="4"/>
<text x="161.0" y="404.5" font-family='"Liberation Serif", serif' font-size="56" text-anchor="end" fill="#231f20">0.4</text>
<line x1="184.4" y1="287.7" x2="196.4" y2="287.7" stroke="#3c3e44" stroke-width="4"/>
<text x="161.0" y="304.5" font-family='"Liberation Serif", serif' font-size="56" text-anchor="end" fill="#231f20">0.6</text>
<line x1="184.4" y1="186.9" x2="196.4" y2="186.9" stroke="#3c3e44" stroke-width="4"/>
<text x="161.0" y="204.5" font-family='"Liberation Serif", serif' font-size="56" text-anchor="end" fill="#231f20">0.8</text>
<line x1="184.4" y1="86.0" x2="196.4" y2="86.0" stroke="#3c3e44" stroke-width="4"/>
<text x="161.0" y="104.5" font-family='"Liberation Serif", serif' font-size="56" text-anchor="end" fill="#231f20">1.0</text>
<line x1="263.1" y1="640.0" x2="263.1" y2="635.0" stroke="#3c3e44" stroke-width="3.5"/>
<line x1="341.3" y1="640.0" x2="341.3" y2="630.0" stroke="#3c3e44" stroke-width="3.5"/>
<line x1="419.5" y1="640.0" x2="419.5" y2="635.0" stroke="#3c3e44" stroke-width="3.5"/>
<line x1="497.7" y1="640.0" x2="497.7" y2="630.0" stroke="#3c3e44" stroke-width="3.5"/>
<line x1="575.9" y1="640.0" x2="575.9" y2="635.0" stroke="#3c3e44" stroke-width="3.5"/>
<line x1="654.1" y1="640.0" x2="654.1" y2="630.0" stroke="#3c3e44" stroke-width="3.5"/>
<line x1="732.3" y1="640.0" x2="732.3" y2="635.0" stroke="#3c3e44" stroke-width="3.5"/>
<line x1="810.5" y1="640.0" x2="810.5" y2="630.0" stroke="#3c3e44" stroke-width="3.5"/>
<line x1="888.7" y1="640.0" x2="888.7" y2="635.0" stroke="#3c3e44" stroke-width="3.5"/>
<line x1="966.9" y1="640.0" x2="966.9" y2="630.0" stroke="#3c3e44" stroke-width="3.5"/>
<text x="185.5" y="703.5" font-family='"Liberation Serif", serif' font-size="56" text-anchor="middle" fill="#231f20">540</text>
<text x="341.9" y="703.5" font-family='"Liberation Serif", serif' font-size="56" text-anchor="middle" fill="#231f20">560</text>
<text x="498.3" y="703.5" font-family='"Liberation Serif", serif' font-size="56" text-anchor="middle" fill="#231f20">580</text>
<text x="654.7" y="703.5" font-family='"Liberation Serif", serif' font-size="56" text-anchor="middle" fill="#231f20">600</text>
<text x="811.1" y="703.5" font-family='"Liberation Serif", serif' font-size="56" text-anchor="middle" fill="#231f20">620</text>
<text x="967.5" y="703.5" font-family='"Liberation Serif", serif' font-size="56" text-anchor="middle" fill="#231f20">640</text>
<text x="613.8" y="775.0" font-family='"Liberation Serif", serif' font-size="56" text-anchor="middle" fill="#231f20">Wavelength/nm</text>
<text transform="translate(53.2,338.2) rotate(-90)" x="0" y="0" font-family='"Liberation Serif", serif' font-size="56" text-anchor="middle" fill="#231f20">Intensity/(a.u.)</text>
<text x="28.5" y="48.0" font-family='"Liberation Serif", serif' font-size="56" text-anchor="start" fill="#231f20">(a)</text>
<defs><path id="c10" d="M1327.2,453.2 L1329.5,454.1 L1331.9,455.0 L1334.2,455.9 L1336.4,456.9 L1338.7,458.0 L1340.9,459.2 L1343.0,460.5 L1345.1,461.8 L1347.1,463.3 L1349.2,464.7 L1351.2,466.3 L1353.1,467.8 L1355.1,469.4 L1357.0,471.0 L1359.0,472.6 L1360.9,474.2 L1362.8,475.8 L1364.7,477.4 L1366.6,479.0 L1368.5,480.7 L1370.4,482.3 L1372.3,484.0 L1374.2,485.6 L1376.1,487.3 L1378.0,488.9 L1379.9,490.6 L1381.8,492.2 L1383.7,493.9 L1385.6,495.5 L1387.5,497.1 L1389.4,498.7 L1391.3,500.3 L1393.2,502.0 L1395.2,503.6 L1397.1,505.1 L1399.1,506.7 L1401.0,508.3 L1403.0,509.9 L1405.0,511.4 L1406.9,512.9 L1409.0,514.4 L1411.0,515.9 L1413.0,517.4 L1415.0,518.8 L1417.1,520.3 L1419.2,521.7 L1421.3,523.1 L1423.4,524.4 L1425.5,525.8 L1427.6,527.1 L1429.7,528.5 L1431.9,529.8 L1434.0,531.1 L1436.1,532.5 L1438.2,533.8 L1440.3,535.2 L1442.5,536.5 L1444.6,537.9 L1446.6,539.3 L1448.7,540.7 L1450.8,542.1 L1452.9,543.5 L1454.9,545.0 L1457.0,546.4 L1459.0,547.8 L1461.1,549.2 L1463.2,550.6 L1465.3,552.0 L1467.4,553.4 L1469.5,554.7 L1471.7,556.0 L1473.8,557.2 L1476.0,558.5 L1478.2,559.6 L1480.5,560.7 L1482.7,561.8 L1485.0,562.9 L1487.3,563.9 L1489.6,564.8 L1492.0,565.7 L1494.3,566.6 L1496.7,567.4 L1499.1,568.2 L1501.4,569.0 L1503.9,569.7 L1506.3,570.3 L1508.7,570.9 L1511.1,571.5 L1513.6,571.9 L1516.1,572.4 L1518.5,572.8 L1521.0,573.1 L1523.5,573.4 L1526.0,573.6 L1528.5,573.7 L1531.0,573.8 L1533.5,573.8 L1536.0,573.8 L1538.5,573.7 L1541.0,573.5 L1543.4,573.1 L1545.9,572.7 L1548.3,572.2 L1550.7,571.5 L1553.0,570.7 L1555.3,569.8 L1557.6,568.8 L1559.8,567.6 L1562.0,566.5 L1564.1,565.2 L1566.3,563.9 L1568.4,562.5 L1570.5,561.2 L1572.6,559.8 L1574.7,558.4 L1576.8,557.0 L1578.9,555.7 L1581.0,554.3 L1583.1,553.0 L1585.3,551.7 L1587.4,550.4 L1589.5,549.1 L1591.7,547.8 L1593.8,546.4 L1596.0,545.1 L1598.1,543.8 L1600.2,542.5 L1602.3,541.1 L1604.4,539.7 L1606.5,538.3 L1608.6,536.9 L1610.6,535.4 L1612.6,534.0 L1614.6,532.4 L1616.5,530.9 L1618.5,529.2 L1620.3,527.6 L1622.2,525.9 L1624.0,524.2 L1625.8,522.4 L1627.5,520.6 L1629.2,518.8 L1630.9,516.9 L1632.6,515.1 L1634.3,513.2 L1636.0,511.4 L1637.7,509.5 L1639.4,507.7 L1641.1,505.8 L1642.8,504.0 L1644.5,502.2 L1646.2,500.3 L1647.9,498.5 L1649.6,496.6 L1651.3,494.8 L1653.0,492.9 L1654.7,491.1 L1656.4,489.3 L1658.1,487.4 L1659.8,485.6 L1661.5,483.7 L1663.2,481.9 L1664.9,480.0 L1666.6,478.2 L1668.3,476.3 L1670.1,474.5 L1671.8,472.7 L1673.5,470.8 L1675.2,469.0 L1676.9,467.2 L1678.6,465.4 L1680.4,463.5 L1682.1,461.7 L1683.8,459.9 L1685.6,458.1 L1687.3,456.3 L1689.1,454.5 L1690.8,452.7 L1692.6,450.9 L1694.3,449.1 L1696.1,447.3 L1697.8,445.5 L1699.6,443.7 L1701.3,441.9 L1703.1,440.1 L1704.8,438.3 L1706.6,436.5 L1708.3,434.7 L1710.0,432.9 L1711.7,431.0 L1713.4,429.2 L1715.1,427.4 L1716.8,425.5 L1718.5,423.7 L1720.2,421.8 L1721.9,419.9 L1723.5,418.0 L1725.2,416.1 L1726.8,414.2 L1728.5,412.3 L1730.1,410.4 L1731.7,408.5 L1733.3,406.6 L1734.9,404.7 L1736.6,402.8 L1738.2,400.8 L1739.8,398.9 L1741.4,397.0 L1743.0,395.1 L1744.6,393.1 L1746.2,391.2 L1747.8,389.3 L1749.4,387.4 L1751.1,385.5 L1752.7,383.5 L1754.3,381.6 L1755.9,379.7 L1757.6,377.8 L1759.2,375.9 L1760.9,374.0 L1762.5,372.2 L1764.2,370.3 L1765.9,368.4 L1767.5,366.5 L1769.2,364.6 L1770.9,362.8 L1772.5,360.9 L1774.2,359.0 L1775.9,357.2 L1777.6,355.3 L1779.3,353.4 L1780.9,351.6 L1782.6,349.7 L1784.3,347.9 L1786.0,346.0 L1787.7,344.2 L1789.4,342.3 L1791.1,340.4 L1792.8,338.6 L1794.4,336.7 L1796.1,334.9 L1797.8,333.0 L1799.5,331.2 L1801.2,329.3 L1802.9,327.5 L1804.6,325.6 L1806.3,323.8 L1808.0,321.9 L1809.7,320.1 L1811.4,318.2 L1813.1,316.4 L1814.8,314.5 L1816.4,312.7 L1818.1,310.8 L1819.8,308.9 L1821.5,307.1 L1823.2,305.2 L1824.9,303.4 L1826.6,301.5 L1828.3,299.7 L1830.0,297.8 L1831.7,296.0 L1833.4,294.2 L1835.1,292.3 L1836.8,290.5 L1838.5,288.6 L1840.2,286.8 L1841.9,284.9 L1843.6,283.1 L1845.3,281.3 L1847.0,279.4 L1848.8,277.6 L1850.5,275.8 L1852.2,273.9 L1853.9,272.1 L1855.7,270.3 L1857.4,268.5 L1859.1,266.7 L1860.9,264.9 L1862.6,263.1 L1864.3,261.3 L1866.1,259.5 L1867.8,257.7 L1869.6,255.9 L1871.3,254.1 L1873.1,252.3 L1874.8,250.5 L1876.6,248.7 L1878.3,246.9 L1880.1,245.1 L1881.8,243.3 L1883.6,241.5 L1885.3,239.6 L1887.1,237.8 L1888.8,236.0 L1890.5,234.2 L1892.3,232.4 L1894.0,230.6 L1895.7,228.8 L1897.5,227.0 L1899.2,225.1 L1900.9,223.3 L1902.7,221.5 L1904.4,219.7 L1906.1,217.9 L1907.8,216.1 L1909.6,214.2 L1911.3,212.4 L1913.0,210.6 L1914.8,208.8 L1916.5,207.0 L1918.2,205.1 L1919.9,203.3 L1921.7,201.5 L1923.4,199.7 L1925.1,197.8 L1926.8,196.0 L1928.5,194.2 L1930.3,192.4 L1932.0,190.5 L1933.7,188.7 L1935.4,186.9 L1937.2,185.1 L1938.9,183.2 L1940.6,181.4 L1942.3,179.6 L1944.0,177.7 L1945.7,175.9 L1947.4,174.1 L1949.1,172.2 L1950.8,170.4 L1952.5,168.5 L1954.2,166.7 L1955.9,164.8 L1957.6,163.0 L1959.3,161.1 L1961.0,159.2 L1962.7,157.4 L1964.3,155.5 L1966.0,153.7 L1967.7,151.8 L1969.4,150.0 L1971.1,148.1 L1972.8,146.2 L1974.5,144.4 L1976.2,142.5 L1977.9,140.7 L1979.6,138.8 L1981.3,137.0 L1983.0,135.2 L1984.7,133.3 L1986.4,131.5 L1988.1,129.7 L1989.9,127.9 L1991.6,126.1 L1993.4,124.3 L1995.1,122.5 L1996.9,120.7 L1998.7,118.9 L2000.5,117.2 L2002.3,115.4 L2004.1,113.7 L2005.9,112.0 L2007.8,110.3 L2009.7,108.7 L2011.6,107.0 L2013.5,105.4 L2015.4,103.8 L2017.3,102.2 L2019.3,100.6 L2021.2,99.0 L2023.2,97.4 L2025.1,95.8 L2027.1,94.3 L2029.0,92.7 L2031.0,91.1 L2032.9,89.6 L2034.9,88.0"/></defs>
<use href="#c10" fill="none" stroke="#fff" stroke-width="10.4" stroke-linecap="round" stroke-linejoin="round"/>
<use href="#c10" fill="none" stroke="#213f7c" stroke-width="8" stroke-linecap="round" stroke-linejoin="round"/>
<defs><path id="c11" d="M1327.2,347.3 L1329.6,347.8 L1332.1,348.4 L1334.5,348.9 L1337.0,349.5 L1339.4,350.1 L1341.8,350.7 L1344.1,351.5 L1346.5,352.3 L1348.7,353.3 L1350.9,354.4 L1353.0,355.7 L1355.1,357.1 L1357.0,358.6 L1358.9,360.2 L1360.7,361.9 L1362.4,363.7 L1364.0,365.5 L1365.6,367.5 L1367.2,369.4 L1368.7,371.4 L1370.2,373.4 L1371.6,375.5 L1373.0,377.5 L1374.5,379.6 L1375.9,381.7 L1377.3,383.7 L1378.7,385.8 L1380.2,387.8 L1381.6,389.9 L1383.1,391.9 L1384.5,394.0 L1386.0,396.0 L1387.5,398.0 L1389.0,400.0 L1390.6,402.0 L1392.1,404.0 L1393.6,406.0 L1395.1,407.9 L1396.7,409.9 L1398.2,411.9 L1399.7,413.9 L1401.2,415.9 L1402.8,417.9 L1404.3,419.9 L1405.8,421.9 L1407.3,423.9 L1408.9,425.8 L1410.4,427.8 L1411.9,429.8 L1413.4,431.8 L1415.0,433.8 L1416.5,435.8 L1418.0,437.8 L1419.5,439.8 L1421.1,441.7 L1422.6,443.7 L1424.1,445.7 L1425.7,447.7 L1427.2,449.7 L1428.8,451.6 L1430.3,453.6 L1431.9,455.6 L1433.4,457.5 L1435.0,459.5 L1436.6,461.5 L1438.1,463.4 L1439.7,465.4 L1441.3,467.3 L1442.9,469.2 L1444.5,471.1 L1446.1,473.1 L1447.7,475.0 L1449.4,476.9 L1451.0,478.8 L1452.7,480.6 L1454.4,482.5 L1456.1,484.3 L1457.8,486.2 L1459.5,488.0 L1461.2,489.8 L1463.0,491.6 L1464.8,493.4 L1466.5,495.1 L1468.3,496.9 L1470.1,498.7 L1471.9,500.4 L1473.7,502.2 L1475.5,503.9 L1477.3,505.6 L1479.1,507.4 L1480.9,509.1 L1482.7,510.9 L1484.4,512.7 L1486.2,514.5 L1488.0,516.2 L1489.7,518.0 L1491.4,519.8 L1493.2,521.7 L1494.9,523.5 L1496.6,525.3 L1498.4,527.1 L1500.1,528.9 L1501.9,530.7 L1503.6,532.5 L1505.4,534.2 L1507.3,535.9 L1509.1,537.6 L1511.0,539.2 L1512.9,540.8 L1514.9,542.4 L1516.9,543.9 L1518.9,545.4 L1520.9,546.8 L1523.0,548.2 L1525.1,549.6 L1527.2,550.9 L1529.4,552.2 L1531.6,553.4 L1533.8,554.6 L1536.0,555.7 L1538.2,556.9 L1540.5,558.0 L1542.8,559.0 L1545.1,560.0 L1547.4,561.0 L1549.7,561.9 L1552.0,562.8 L1554.4,563.6 L1556.8,564.4 L1559.1,565.2 L1561.5,565.9 L1564.0,566.6 L1566.4,567.2 L1568.8,567.9 L1571.2,568.5 L1573.7,569.1 L1576.1,569.7 L1578.5,570.2 L1581.0,570.7 L1583.4,571.1 L1585.9,571.4 L1588.4,571.6 L1590.8,571.7 L1593.3,571.7 L1595.8,571.5 L1598.2,571.2 L1600.6,570.8 L1603.0,570.2 L1605.4,569.5 L1607.8,568.7 L1610.1,567.8 L1612.4,566.8 L1614.6,565.8 L1616.9,564.7 L1619.1,563.5 L1621.3,562.3 L1623.5,561.1 L1625.6,559.8 L1627.8,558.5 L1629.9,557.2 L1632.0,555.9 L1634.1,554.5 L1636.2,553.2 L1638.3,551.8 L1640.4,550.4 L1642.5,549.0 L1644.5,547.5 L1646.6,546.1 L1648.6,544.6 L1650.6,543.1 L1652.6,541.6 L1654.6,540.1 L1656.6,538.5 L1658.5,536.9 L1660.4,535.3 L1662.3,533.7 L1664.2,532.1 L1666.1,530.4 L1668.0,528.7 L1669.8,527.0 L1671.6,525.3 L1673.4,523.6 L1675.2,521.8 L1677.0,520.1 L1678.8,518.3 L1680.5,516.5 L1682.3,514.7 L1684.0,512.9 L1685.7,511.0 L1687.4,509.2 L1689.0,507.3 L1690.7,505.4 L1692.3,503.5 L1693.9,501.6 L1695.5,499.7 L1697.1,497.7 L1698.7,495.8 L1700.3,493.8 L1701.8,491.9 L1703.4,489.9 L1704.9,487.9 L1706.4,485.9 L1707.9,483.9 L1709.4,481.9 L1710.9,479.9 L1712.4,477.9 L1713.9,475.9 L1715.4,473.9 L1716.9,471.8 L1718.4,469.8 L1719.8,467.8 L1721.3,465.7 L1722.7,463.7 L1724.2,461.6 L1725.6,459.6 L1727.0,457.5 L1728.4,455.4 L1729.8,453.3 L1731.2,451.3 L1732.6,449.2 L1734.0,447.1 L1735.4,445.0 L1736.7,442.9 L1738.1,440.8 L1739.5,438.7 L1740.8,436.6 L1742.2,434.5 L1743.5,432.4 L1744.9,430.2 L1746.2,428.1 L1747.6,426.0 L1749.0,423.9 L1750.3,421.8 L1751.7,419.7 L1753.0,417.6 L1754.4,415.5 L1755.8,413.4 L1757.2,411.3 L1758.5,409.2 L1759.9,407.1 L1761.3,405.1 L1762.7,403.0 L1764.1,400.9 L1765.5,398.8 L1766.9,396.7 L1768.2,394.6 L1769.6,392.5 L1771.0,390.4 L1772.4,388.3 L1773.8,386.3 L1775.2,384.2 L1776.6,382.1 L1777.9,380.0 L1779.3,377.9 L1780.7,375.8 L1782.1,373.7 L1783.5,371.7 L1784.9,369.6 L1786.3,367.5 L1787.7,365.4 L1789.2,363.4 L1790.6,361.3 L1792.0,359.2 L1793.5,357.2 L1794.9,355.2 L1796.4,353.1 L1797.8,351.1 L1799.3,349.1 L1800.8,347.1 L1802.3,345.1 L1803.9,343.1 L1805.4,341.1 L1806.9,339.1 L1808.5,337.2 L1810.1,335.2 L1811.7,333.3 L1813.3,331.3 L1814.8,329.4 L1816.4,327.5 L1818.0,325.5 L1819.6,323.6 L1821.2,321.6 L1822.8,319.7 L1824.4,317.8 L1825.9,315.8 L1827.5,313.8 L1829.1,311.9 L1830.6,309.9 L1832.2,308.0 L1833.8,306.0 L1835.3,304.0 L1836.9,302.1 L1838.4,300.1 L1840.0,298.2 L1841.6,296.2 L1843.1,294.2 L1844.7,292.3 L1846.2,290.3 L1847.8,288.4 L1849.4,286.4 L1851.0,284.5 L1852.5,282.5 L1854.1,280.6 L1855.7,278.6 L1857.3,276.7 L1858.9,274.8 L1860.5,272.8 L1862.1,270.9 L1863.7,269.0 L1865.3,267.1 L1867.0,265.2 L1868.6,263.2 L1870.2,261.3 L1871.9,259.5 L1873.5,257.6 L1875.2,255.7 L1876.8,253.8 L1878.5,251.9 L1880.1,250.0 L1881.8,248.2 L1883.5,246.3 L1885.2,244.4 L1886.8,242.6 L1888.5,240.7 L1890.2,238.9 L1891.9,237.0 L1893.6,235.2 L1895.3,233.3 L1897.0,231.5 L1898.7,229.6 L1900.4,227.8 L1902.1,225.9 L1903.8,224.1 L1905.5,222.3 L1907.2,220.4 L1908.9,218.6 L1910.6,216.8 L1912.3,214.9 L1914.0,213.1 L1915.7,211.2 L1917.4,209.4 L1919.1,207.6 L1920.8,205.7 L1922.5,203.9 L1924.3,202.1 L1926.0,200.2 L1927.7,198.4 L1929.4,196.6 L1931.1,194.7 L1932.8,192.9 L1934.5,191.0 L1936.2,189.2 L1937.9,187.4 L1939.6,185.5 L1941.3,183.7 L1943.0,181.8 L1944.7,180.0 L1946.4,178.1 L1948.0,176.3 L1949.7,174.4 L1951.4,172.6 L1953.1,170.7 L1954.8,168.9 L1956.5,167.0 L1958.2,165.1 L1959.8,163.3 L1961.5,161.4 L1963.2,159.6 L1964.9,157.7 L1966.6,155.9 L1968.3,154.0 L1970.0,152.2 L1971.6,150.3 L1973.3,148.4 L1975.0,146.6 L1976.7,144.7 L1978.4,142.9 L1980.1,141.0 L1981.8,139.2 L1983.5,137.4 L1985.2,135.5 L1986.9,133.7 L1988.6,131.8 L1990.3,130.0 L1992.0,128.2 L1993.7,126.3 L1995.5,124.5 L1997.2,122.7 L1998.9,120.9 L2000.7,119.1 L2002.4,117.3 L2004.2,115.5 L2005.9,113.7 L2007.7,112.0 L2009.5,110.2 L2011.3,108.4 L2013.1,106.7 L2014.9,104.9 L2016.7,103.2 L2018.5,101.5 L2020.3,99.8 L2022.1,98.0 L2024.0,96.3 L2025.8,94.6 L2027.6,92.9 L2029.4,91.2 L2031.3,89.4 L2033.1,87.7 L2034.9,86.0"/></defs>
<use href="#c11" fill="none" stroke="#3a72b0" stroke-width="8" stroke-linecap="round" stroke-linejoin="round"/>
<defs><path id="c12" d="M1328.2,337.8 L1328.9,335.4 L1329.5,333.0 L1330.2,330.5 L1330.8,328.1 L1331.4,325.7 L1332.1,323.3 L1332.7,320.8 L1333.4,318.4 L1334.0,316.0 L1334.7,313.6 L1335.5,311.2 L1336.3,308.8 L1337.1,306.4 L1338.0,304.1 L1338.9,301.8 L1339.9,299.5 L1341.0,297.3 L1342.1,295.0 L1343.3,292.8 L1344.6,290.7 L1345.9,288.5 L1347.3,286.5 L1348.7,284.4 L1350.2,282.4 L1351.7,280.4 L1353.3,278.5 L1355.0,276.6 L1356.7,274.9 L1358.5,273.2 L1360.4,271.6 L1362.4,270.1 L1364.4,268.7 L1366.5,267.5 L1368.7,266.4 L1371.0,265.5 L1373.3,264.8 L1375.7,264.2 L1378.1,263.9 L1380.5,263.7 L1382.9,263.7 L1385.4,263.9 L1387.8,264.3 L1390.2,264.8 L1392.6,265.4 L1395.0,266.0 L1397.4,266.8 L1399.8,267.5 L1402.2,268.3 L1404.6,269.0 L1407.0,269.7 L1409.4,270.4 L1411.8,271.1 L1414.2,271.8 L1416.6,272.6 L1419.0,273.3 L1421.3,274.2 L1423.6,275.1 L1425.9,276.1 L1428.1,277.2 L1430.3,278.4 L1432.5,279.6 L1434.5,281.0 L1436.5,282.5 L1438.5,284.0 L1440.4,285.6 L1442.3,287.3 L1444.1,289.0 L1445.9,290.8 L1447.6,292.6 L1449.4,294.4 L1451.1,296.2 L1452.7,298.1 L1454.4,299.9 L1456.1,301.8 L1457.7,303.7 L1459.4,305.6 L1461.0,307.5 L1462.7,309.4 L1464.3,311.3 L1465.9,313.2 L1467.5,315.1 L1469.1,317.1 L1470.7,319.0 L1472.3,321.0 L1473.8,323.0 L1475.4,324.9 L1476.9,326.9 L1478.4,328.9 L1479.9,330.9 L1481.4,332.9 L1482.9,334.9 L1484.4,337.0 L1485.9,339.0 L1487.4,341.0 L1488.9,343.0 L1490.4,345.0 L1491.8,347.1 L1493.3,349.1 L1494.8,351.1 L1496.3,353.2 L1497.7,355.2 L1499.2,357.2 L1500.6,359.3 L1502.1,361.3 L1503.6,363.4 L1505.0,365.4 L1506.4,367.5 L1507.9,369.5 L1509.3,371.6 L1510.7,373.7 L1512.2,375.7 L1513.6,377.8 L1515.0,379.9 L1516.4,381.9 L1517.8,384.0 L1519.2,386.1 L1520.6,388.2 L1522.0,390.2 L1523.4,392.3 L1524.8,394.4 L1526.2,396.5 L1527.6,398.6 L1529.0,400.7 L1530.4,402.8 L1531.8,404.9 L1533.1,407.0 L1534.5,409.1 L1535.8,411.2 L1537.2,413.3 L1538.5,415.5 L1539.8,417.6 L1541.2,419.7 L1542.5,421.8 L1543.8,424.0 L1545.2,426.1 L1546.5,428.2 L1547.8,430.4 L1549.1,432.5 L1550.4,434.6 L1551.8,436.8 L1553.1,438.9 L1554.4,441.0 L1555.7,443.2 L1557.1,445.3 L1558.4,447.4 L1559.7,449.6 L1561.1,451.7 L1562.4,453.8 L1563.7,455.9 L1565.1,458.0 L1566.4,460.1 L1567.8,462.2 L1569.2,464.3 L1570.6,466.4 L1572.0,468.5 L1573.4,470.6 L1574.8,472.7 L1576.2,474.7 L1577.7,476.8 L1579.1,478.8 L1580.6,480.9 L1582.0,482.9 L1583.5,484.9 L1585.0,487.0 L1586.5,489.0 L1588.0,491.0 L1589.5,493.0 L1591.0,495.0 L1592.5,497.0 L1594.1,499.0 L1595.7,500.9 L1597.2,502.9 L1598.9,504.8 L1600.5,506.7 L1602.2,508.5 L1603.9,510.3 L1605.6,512.1 L1607.4,513.9 L1609.2,515.6 L1611.1,517.3 L1613.0,519.0 L1614.9,520.6 L1616.8,522.2 L1618.8,523.8 L1620.7,525.3 L1622.8,526.8 L1624.8,528.2 L1626.9,529.5 L1629.1,530.8 L1631.3,531.9 L1633.5,533.0 L1635.8,533.9 L1638.1,534.6 L1640.5,535.2 L1642.9,535.6 L1645.3,535.8 L1647.8,535.9 L1650.2,535.7 L1652.6,535.4 L1655.1,535.0 L1657.4,534.4 L1659.8,533.6 L1662.1,532.8 L1664.4,531.8 L1666.7,530.8 L1668.9,529.7 L1671.1,528.5 L1673.3,527.2 L1675.4,525.9 L1677.5,524.5 L1679.5,523.1 L1681.5,521.6 L1683.5,520.0 L1685.5,518.5 L1687.4,516.8 L1689.3,515.2 L1691.1,513.5 L1693.0,511.8 L1694.8,510.1 L1696.6,508.4 L1698.4,506.6 L1700.2,504.8 L1701.9,503.1 L1703.7,501.3 L1705.4,499.4 L1707.1,497.6 L1708.8,495.8 L1710.5,493.9 L1712.2,492.1 L1713.9,490.2 L1715.5,488.3 L1717.2,486.4 L1718.8,484.5 L1720.5,482.6 L1722.1,480.7 L1723.7,478.8 L1725.3,476.8 L1726.9,474.9 L1728.4,472.9 L1730.0,471.0 L1731.5,469.0 L1733.1,467.0 L1734.5,465.0 L1736.0,462.9 L1737.4,460.9 L1738.9,458.8 L1740.2,456.7 L1741.6,454.6 L1742.9,452.5 L1744.2,450.3 L1745.4,448.1 L1746.6,445.9 L1747.9,443.8 L1749.1,441.6 L1750.3,439.4 L1751.5,437.1 L1752.7,434.9 L1753.9,432.8 L1755.1,430.6 L1756.3,428.4 L1757.6,426.2 L1758.9,424.1 L1760.2,421.9 L1761.5,419.8 L1762.8,417.6 L1764.1,415.5 L1765.4,413.4 L1766.8,411.2 L1768.1,409.1 L1769.5,407.0 L1770.8,404.9 L1772.2,402.8 L1773.5,400.7 L1774.9,398.5 L1776.2,396.4 L1777.6,394.3 L1779.0,392.2 L1780.3,390.1 L1781.7,388.0 L1783.1,385.9 L1784.5,383.8 L1785.8,381.7 L1787.2,379.6 L1788.6,377.6 L1790.0,375.5 L1791.4,373.4 L1792.9,371.3 L1794.3,369.3 L1795.7,367.2 L1797.2,365.1 L1798.6,363.1 L1800.1,361.1 L1801.5,359.0 L1803.0,357.0 L1804.5,355.0 L1806.1,353.0 L1807.6,351.0 L1809.1,349.0 L1810.7,347.1 L1812.2,345.1 L1813.8,343.1 L1815.3,341.2 L1816.9,339.2 L1818.5,337.2 L1820.0,335.2 L1821.5,333.3 L1823.1,331.3 L1824.6,329.3 L1826.1,327.3 L1827.6,325.3 L1829.1,323.3 L1830.6,321.3 L1832.1,319.3 L1833.6,317.2 L1835.1,315.2 L1836.6,313.2 L1838.1,311.2 L1839.6,309.2 L1841.1,307.2 L1842.6,305.1 L1844.1,303.1 L1845.6,301.1 L1847.1,299.1 L1848.6,297.1 L1850.1,295.1 L1851.6,293.1 L1853.1,291.1 L1854.6,289.1 L1856.2,287.1 L1857.7,285.1 L1859.2,283.1 L1860.8,281.1 L1862.3,279.2 L1863.9,277.2 L1865.4,275.2 L1867.0,273.3 L1868.6,271.3 L1870.2,269.4 L1871.8,267.4 L1873.4,265.5 L1875.0,263.6 L1876.6,261.7 L1878.2,259.7 L1879.8,257.8 L1881.5,255.9 L1883.1,254.0 L1884.8,252.1 L1886.4,250.2 L1888.0,248.3 L1889.7,246.5 L1891.4,244.6 L1893.0,242.7 L1894.7,240.8 L1896.3,238.9 L1898.0,237.1 L1899.7,235.2 L1901.4,233.3 L1903.0,231.4 L1904.7,229.6 L1906.4,227.7 L1908.1,225.8 L1909.7,224.0 L1911.4,222.1 L1913.1,220.2 L1914.8,218.4 L1916.4,216.5 L1918.1,214.6 L1919.8,212.8 L1921.5,210.9 L1923.2,209.0 L1924.8,207.2 L1926.5,205.3 L1928.2,203.4 L1929.9,201.6 L1931.5,199.7 L1933.2,197.8 L1934.9,195.9 L1936.5,194.1 L1938.2,192.2 L1939.8,190.3 L1941.5,188.4 L1943.1,186.5 L1944.8,184.6 L1946.4,182.7 L1948.1,180.8 L1949.7,178.9 L1951.3,177.0 L1953.0,175.1 L1954.6,173.2 L1956.2,171.3 L1957.9,169.4 L1959.5,167.5 L1961.1,165.6 L1962.7,163.7 L1964.4,161.8 L1966.0,159.8 L1967.6,157.9 L1969.3,156.0 L1970.9,154.1 L1972.5,152.2 L1974.1,150.3 L1975.8,148.4 L1977.4,146.5 L1979.0,144.6 L1980.7,142.7 L1982.3,140.8 L1984.0,138.9 L1985.6,137.0 L1987.3,135.1 L1988.9,133.2 L1990.6,131.3 L1992.2,129.5 L1993.9,127.6 L1995.6,125.7 L1997.3,123.9 L1999.0,122.0 L2000.7,120.2 L2002.4,118.4 L2004.2,116.6 L2005.9,114.7 L2007.6,113.0 L2009.4,111.2 L2011.2,109.4 L2013.0,107.6 L2014.8,105.9 L2016.6,104.2 L2018.4,102.4 L2020.2,100.7 L2022.1,99.0 L2023.9,97.3 L2025.7,95.6 L2027.6,93.9 L2029.4,92.1 L2031.2,90.4 L2033.1,88.7 L2034.9,87.0"/></defs>
<use href="#c12" fill="none" stroke="#5f9fca" stroke-width="8" stroke-linecap="round" stroke-linejoin="round"/>
<defs><path id="c13" d="M1328.8,380.2 L1330.3,378.2 L1331.8,376.2 L1333.3,374.1 L1334.7,372.1 L1336.2,370.1 L1337.7,368.1 L1339.2,366.1 L1340.7,364.1 L1342.2,362.1 L1343.7,360.0 L1345.2,358.0 L1346.6,355.9 L1348.0,353.9 L1349.4,351.8 L1350.8,349.7 L1352.2,347.6 L1353.5,345.5 L1354.8,343.3 L1356.1,341.2 L1357.3,339.0 L1358.5,336.8 L1359.7,334.6 L1360.8,332.4 L1361.9,330.1 L1363.0,327.9 L1364.1,325.6 L1365.2,323.3 L1366.2,321.0 L1367.2,318.8 L1368.2,316.5 L1369.2,314.2 L1370.2,311.9 L1371.2,309.5 L1372.2,307.2 L1373.1,304.9 L1374.1,302.6 L1375.0,300.3 L1376.0,298.0 L1377.0,295.7 L1377.9,293.3 L1378.9,291.0 L1379.8,288.7 L1380.8,286.4 L1381.8,284.1 L1382.7,281.8 L1383.7,279.4 L1384.7,277.1 L1385.6,274.8 L1386.5,272.5 L1387.5,270.2 L1388.4,267.8 L1389.4,265.5 L1390.3,263.2 L1391.2,260.8 L1392.1,258.5 L1393.1,256.2 L1394.0,253.9 L1394.9,251.5 L1395.9,249.2 L1396.8,246.9 L1397.8,244.6 L1398.7,242.3 L1399.7,239.9 L1400.7,237.6 L1401.7,235.3 L1402.7,233.0 L1403.7,230.7 L1404.7,228.4 L1405.7,226.1 L1406.7,223.8 L1407.7,221.5 L1408.7,219.2 L1409.7,217.0 L1410.8,214.7 L1411.8,212.4 L1412.8,210.1 L1413.9,207.8 L1415.0,205.6 L1416.1,203.3 L1417.2,201.1 L1418.3,198.8 L1419.5,196.6 L1420.7,194.4 L1422.0,192.3 L1423.3,190.1 L1424.6,188.0 L1426.0,185.9 L1427.3,183.8 L1428.8,181.8 L1430.2,179.7 L1431.7,177.7 L1433.3,175.7 L1434.8,173.8 L1436.4,171.9 L1438.1,170.0 L1439.8,168.2 L1441.5,166.4 L1443.3,164.6 L1445.2,163.0 L1447.1,161.3 L1449.0,159.8 L1451.0,158.3 L1453.1,156.9 L1455.2,155.6 L1457.3,154.3 L1459.5,153.1 L1461.8,152.1 L1464.0,151.1 L1466.3,150.2 L1468.7,149.5 L1471.1,149.0 L1473.5,148.6 L1475.9,148.5 L1478.3,148.5 L1480.7,148.8 L1483.1,149.3 L1485.4,149.9 L1487.7,150.8 L1489.9,151.8 L1492.0,153.0 L1494.1,154.3 L1496.2,155.7 L1498.1,157.2 L1500.0,158.8 L1501.9,160.5 L1503.6,162.2 L1505.3,164.1 L1506.9,166.0 L1508.4,167.9 L1509.9,169.9 L1511.3,172.0 L1512.6,174.1 L1513.9,176.3 L1515.1,178.5 L1516.3,180.7 L1517.5,182.9 L1518.6,185.1 L1519.7,187.3 L1520.9,189.6 L1522.0,191.8 L1523.1,194.1 L1524.2,196.3 L1525.3,198.6 L1526.4,200.8 L1527.5,203.1 L1528.6,205.4 L1529.6,207.6 L1530.7,209.9 L1531.8,212.2 L1532.8,214.4 L1533.9,216.7 L1534.9,219.0 L1535.9,221.3 L1536.9,223.6 L1537.9,225.9 L1538.9,228.2 L1539.9,230.5 L1540.9,232.8 L1541.9,235.1 L1542.9,237.4 L1543.8,239.7 L1544.8,242.0 L1545.8,244.3 L1546.8,246.6 L1547.8,249.0 L1548.8,251.3 L1549.7,253.6 L1550.7,255.9 L1551.7,258.2 L1552.7,260.5 L1553.8,262.8 L1554.8,265.1 L1555.8,267.3 L1556.8,269.6 L1557.8,271.9 L1558.8,274.2 L1559.8,276.5 L1560.8,278.8 L1561.8,281.2 L1562.7,283.5 L1563.6,285.8 L1564.6,288.1 L1565.5,290.5 L1566.3,292.8 L1567.2,295.2 L1568.0,297.5 L1568.8,299.9 L1569.6,302.3 L1570.3,304.7 L1571.0,307.1 L1571.7,309.5 L1572.4,311.9 L1573.0,314.3 L1573.7,316.8 L1574.3,319.2 L1574.9,321.6 L1575.5,324.1 L1576.0,326.5 L1576.6,329.0 L1577.2,331.4 L1577.7,333.8 L1578.3,336.3 L1578.8,338.7 L1579.4,341.2 L1579.9,343.6 L1580.5,346.1 L1581.1,348.5 L1581.6,351.0 L1582.2,353.4 L1582.8,355.8 L1583.4,358.3 L1584.0,360.7 L1584.6,363.1 L1585.3,365.6 L1585.9,368.0 L1586.6,370.4 L1587.3,372.8 L1588.0,375.2 L1588.8,377.6 L1589.5,380.0 L1590.3,382.4 L1591.0,384.8 L1591.8,387.1 L1592.7,389.5 L1593.5,391.9 L1594.3,394.2 L1595.1,396.6 L1596.0,399.0 L1596.9,401.3 L1597.7,403.7 L1598.6,406.0 L1599.5,408.4 L1600.4,410.7 L1601.3,413.0 L1602.2,415.4 L1603.1,417.7 L1604.1,420.0 L1605.0,422.4 L1605.9,424.7 L1606.9,427.0 L1607.9,429.3 L1608.8,431.6 L1609.8,433.9 L1610.8,436.2 L1611.8,438.5 L1612.8,440.8 L1613.8,443.1 L1614.8,445.4 L1615.9,447.7 L1616.9,450.0 L1617.9,452.3 L1619.0,454.6 L1620.0,456.8 L1621.1,459.1 L1622.2,461.4 L1623.2,463.7 L1624.3,465.9 L1625.3,468.2 L1626.4,470.5 L1627.5,472.7 L1628.6,475.0 L1629.6,477.3 L1630.7,479.5 L1631.8,481.8 L1632.9,484.0 L1634.1,486.3 L1635.2,488.5 L1636.4,490.7 L1637.6,492.9 L1638.8,495.1 L1640.0,497.3 L1641.3,499.4 L1642.6,501.5 L1644.0,503.6 L1645.4,505.7 L1646.9,507.8 L1648.3,509.8 L1649.9,511.7 L1651.5,513.6 L1653.1,515.5 L1654.8,517.4 L1656.6,519.2 L1658.4,520.9 L1660.2,522.6 L1662.1,524.2 L1664.0,525.7 L1666.0,527.2 L1668.1,528.5 L1670.2,529.6 L1672.4,530.5 L1674.7,531.2 L1677.0,531.6 L1679.3,531.8 L1681.6,531.6 L1683.9,531.2 L1686.2,530.6 L1688.4,529.6 L1690.5,528.5 L1692.6,527.2 L1694.6,525.8 L1696.5,524.3 L1698.4,522.6 L1700.2,521.0 L1702.0,519.2 L1703.8,517.4 L1705.5,515.6 L1707.2,513.8 L1708.9,511.9 L1710.5,510.0 L1712.2,508.1 L1713.8,506.2 L1715.3,504.3 L1716.9,502.3 L1718.4,500.3 L1719.9,498.3 L1721.3,496.2 L1722.7,494.2 L1724.1,492.1 L1725.5,490.0 L1726.8,487.8 L1728.1,485.7 L1729.3,483.5 L1730.6,481.4 L1731.8,479.2 L1733.0,477.0 L1734.3,474.8 L1735.5,472.6 L1736.6,470.4 L1737.8,468.2 L1739.0,466.0 L1740.2,463.7 L1741.4,461.5 L1742.6,459.3 L1743.8,457.1 L1745.0,454.9 L1746.2,452.7 L1747.4,450.6 L1748.7,448.4 L1749.9,446.2 L1751.2,444.0 L1752.5,441.9 L1753.8,439.8 L1755.1,437.6 L1756.5,435.5 L1757.9,433.4 L1759.3,431.4 L1760.7,429.3 L1762.1,427.2 L1763.6,425.2 L1765.1,423.2 L1766.6,421.2 L1768.1,419.2 L1769.6,417.2 L1771.1,415.2 L1772.7,413.2 L1774.3,411.3 L1775.8,409.3 L1777.4,407.4 L1779.0,405.4 L1780.6,403.5 L1782.2,401.6 L1783.8,399.6 L1785.4,397.7 L1787.0,395.8 L1788.7,393.9 L1790.3,392.0 L1791.9,390.1 L1793.5,388.2 L1795.2,386.3 L1796.8,384.3 L1798.4,382.4 L1800.0,380.5 L1801.7,378.6 L1803.3,376.7 L1804.9,374.8 L1806.5,372.9 L1808.1,370.9 L1809.7,369.0 L1811.3,367.1 L1812.9,365.1 L1814.5,363.2 L1816.1,361.2 L1817.6,359.3 L1819.2,357.3 L1820.7,355.3 L1822.2,353.3 L1823.8,351.4 L1825.3,349.4 L1826.8,347.3 L1828.3,345.3 L1829.7,343.3 L1831.2,341.3 L1832.7,339.2 L1834.1,337.2 L1835.6,335.2 L1837.1,333.1 L1838.5,331.1 L1839.9,329.0 L1841.4,327.0 L1842.8,324.9 L1844.2,322.9 L1845.7,320.8 L1847.1,318.7 L1848.5,316.7 L1850.0,314.6 L1851.4,312.5 L1852.8,310.5 L1854.3,308.4 L1855.7,306.4 L1857.1,304.3 L1858.6,302.3 L1860.0,300.2 L1861.5,298.2 L1862.9,296.2 L1864.4,294.1 L1865.9,292.1 L1867.4,290.1 L1868.9,288.1 L1870.4,286.0 L1871.9,284.0 L1873.4,282.0 L1874.9,280.0 L1876.4,278.1 L1877.9,276.1 L1879.5,274.1 L1881.0,272.1 L1882.5,270.1 L1884.1,268.1 L1885.6,266.2 L1887.2,264.2 L1888.8,262.2 L1890.3,260.3 L1891.9,258.3 L1893.5,256.4 L1895.0,254.4 L1896.6,252.5 L1898.2,250.5 L1899.8,248.6 L1901.4,246.7 L1903.0,244.8 L1904.6,242.8 L1906.3,240.9 L1907.9,239.0 L1909.5,237.1 L1911.1,235.2 L1912.8,233.3 L1914.4,231.4 L1916.1,229.5 L1917.7,227.6 L1919.4,225.7 L1921.0,223.8 L1922.7,222.0 L1924.3,220.1 L1926.0,218.2 L1927.7,216.3 L1929.3,214.5 L1931.0,212.6 L1932.7,210.8 L1934.4,208.9 L1936.1,207.0 L1937.8,205.2 L1939.5,203.4 L1941.2,201.5 L1942.9,199.7 L1944.6,197.9 L1946.3,196.0 L1948.1,194.2 L1949.8,192.4 L1951.5,190.6 L1953.3,188.8 L1955.0,187.0 L1956.8,185.2 L1958.5,183.4 L1960.3,181.6 L1962.1,179.8 L1963.8,178.1 L1965.6,176.3 L1967.4,174.5 L1969.2,172.8 L1971.0,171.0 L1972.8,169.3 L1974.6,167.5 L1976.4,165.8 L1978.2,164.1 L1980.0,162.3 L1981.8,160.6 L1983.6,158.9 L1985.5,157.2 L1987.3,155.4 L1989.1,153.7 L1990.9,152.0 L1992.8,150.3 L1994.6,148.6 L1996.4,146.8 L1998.3,145.1 L2000.1,143.4 L2001.9,141.7 L2003.8,140.0 L2005.6,138.3 L2007.4,136.6 L2009.3,134.9 L2011.1,133.2 L2012.9,131.5 L2014.8,129.7 L2016.6,128.0 L2018.4,126.3 L2020.3,124.6 L2022.1,122.9 L2023.9,121.2 L2025.8,119.5 L2027.6,117.8 L2029.5,116.1 L2031.3,114.4 L2033.2,112.7 L2035.0,111.0"/></defs>
<use href="#c13" fill="none" stroke="#fff" stroke-width="10.4" stroke-linecap="round" stroke-linejoin="round"/>
<use href="#c13" fill="none" stroke="#a3cbe0" stroke-width="8" stroke-linecap="round" stroke-linejoin="round"/>
<defs><path id="c14" d="M1328.8,424.0 L1331.1,423.1 L1333.4,422.1 L1335.8,421.2 L1338.1,420.3 L1340.4,419.3 L1342.8,418.4 L1345.1,417.5 L1347.5,416.6 L1349.8,415.7 L1352.1,414.8 L1354.5,413.9 L1356.8,413.0 L1359.1,412.0 L1361.4,411.0 L1363.7,410.0 L1365.9,408.9 L1368.1,407.8 L1370.3,406.5 L1372.4,405.3 L1374.5,403.9 L1376.5,402.4 L1378.4,400.9 L1380.3,399.2 L1382.0,397.5 L1383.7,395.6 L1385.2,393.7 L1386.7,391.7 L1388.1,389.6 L1389.5,387.6 L1390.8,385.4 L1392.0,383.3 L1393.3,381.1 L1394.5,378.9 L1395.8,376.7 L1397.0,374.5 L1398.1,372.3 L1399.3,370.1 L1400.5,367.9 L1401.6,365.7 L1402.8,363.4 L1403.9,361.2 L1405.0,358.9 L1406.1,356.7 L1407.2,354.4 L1408.3,352.2 L1409.4,349.9 L1410.5,347.6 L1411.5,345.4 L1412.6,343.1 L1413.7,340.8 L1414.7,338.6 L1415.8,336.3 L1416.9,334.0 L1417.9,331.8 L1419.0,329.5 L1420.0,327.2 L1421.1,324.9 L1422.1,322.6 L1423.1,320.4 L1424.2,318.1 L1425.2,315.8 L1426.3,313.5 L1427.3,311.2 L1428.4,309.0 L1429.4,306.7 L1430.4,304.4 L1431.5,302.1 L1432.5,299.8 L1433.6,297.6 L1434.6,295.3 L1435.6,293.0 L1436.7,290.7 L1437.7,288.4 L1438.8,286.2 L1439.8,283.9 L1440.9,281.6 L1441.9,279.3 L1443.0,277.1 L1444.1,274.8 L1445.1,272.5 L1446.2,270.3 L1447.3,268.0 L1448.3,265.7 L1449.4,263.4 L1450.5,261.2 L1451.5,258.9 L1452.6,256.6 L1453.6,254.4 L1454.7,252.1 L1455.7,249.8 L1456.7,247.5 L1457.7,245.2 L1458.8,242.9 L1459.8,240.6 L1460.8,238.3 L1461.8,236.0 L1462.8,233.7 L1463.9,231.5 L1464.9,229.2 L1466.0,226.9 L1467.1,224.7 L1468.2,222.4 L1469.3,220.2 L1470.5,218.0 L1471.8,215.8 L1473.0,213.7 L1474.3,211.5 L1475.7,209.4 L1477.1,207.4 L1478.5,205.3 L1480.0,203.3 L1481.5,201.3 L1483.0,199.3 L1484.6,197.3 L1486.1,195.4 L1487.7,193.4 L1489.4,191.5 L1491.0,189.7 L1492.7,187.8 L1494.5,186.0 L1496.3,184.3 L1498.1,182.7 L1500.0,181.1 L1502.0,179.7 L1504.1,178.5 L1506.2,177.5 L1508.4,176.7 L1510.7,176.1 L1512.9,175.9 L1515.2,176.0 L1517.5,176.3 L1519.7,177.0 L1521.9,177.9 L1524.0,179.0 L1526.1,180.3 L1528.1,181.8 L1530.0,183.4 L1531.8,185.0 L1533.6,186.8 L1535.3,188.6 L1537.0,190.4 L1538.6,192.3 L1540.2,194.2 L1541.8,196.2 L1543.3,198.2 L1544.8,200.2 L1546.3,202.2 L1547.6,204.3 L1549.0,206.4 L1550.3,208.5 L1551.5,210.7 L1552.8,212.9 L1553.9,215.1 L1555.0,217.3 L1556.1,219.6 L1557.2,221.9 L1558.2,224.1 L1559.3,226.4 L1560.2,228.7 L1561.2,231.1 L1562.2,233.4 L1563.1,235.7 L1564.0,238.0 L1564.9,240.4 L1565.9,242.7 L1566.8,245.0 L1567.7,247.4 L1568.6,249.7 L1569.5,252.1 L1570.3,254.4 L1571.2,256.7 L1572.1,259.1 L1573.0,261.4 L1573.9,263.8 L1574.8,266.1 L1575.7,268.4 L1576.6,270.8 L1577.5,273.1 L1578.4,275.5 L1579.3,277.8 L1580.2,280.2 L1581.0,282.5 L1581.9,284.9 L1582.7,287.2 L1583.5,289.6 L1584.4,292.0 L1585.2,294.4 L1586.0,296.7 L1586.8,299.1 L1587.6,301.5 L1588.4,303.9 L1589.2,306.2 L1590.0,308.6 L1590.8,311.0 L1591.6,313.4 L1592.3,315.8 L1593.1,318.1 L1593.9,320.5 L1594.7,322.9 L1595.5,325.3 L1596.2,327.7 L1597.0,330.1 L1597.8,332.4 L1598.6,334.8 L1599.4,337.2 L1600.1,339.6 L1600.9,342.0 L1601.7,344.3 L1602.5,346.7 L1603.3,349.1 L1604.1,351.5 L1604.9,353.8 L1605.8,356.2 L1606.6,358.6 L1607.4,360.9 L1608.2,363.3 L1609.1,365.7 L1609.9,368.0 L1610.8,370.4 L1611.7,372.7 L1612.6,375.1 L1613.5,377.4 L1614.4,379.8 L1615.3,382.1 L1616.2,384.4 L1617.1,386.8 L1618.1,389.1 L1619.0,391.4 L1619.9,393.7 L1620.9,396.0 L1621.8,398.4 L1622.8,400.7 L1623.8,403.0 L1624.8,405.3 L1625.7,407.6 L1626.7,409.9 L1627.7,412.2 L1628.7,414.5 L1629.7,416.8 L1630.7,419.1 L1631.7,421.4 L1632.8,423.7 L1633.8,426.0 L1634.8,428.3 L1635.9,430.6 L1636.9,432.8 L1637.9,435.1 L1639.0,437.4 L1640.1,439.7 L1641.1,441.9 L1642.2,444.2 L1643.3,446.5 L1644.4,448.7 L1645.4,451.0 L1646.5,453.2 L1647.6,455.5 L1648.7,457.7 L1649.8,460.0 L1650.9,462.3 L1652.0,464.5 L1653.1,466.8 L1654.2,469.0 L1655.3,471.3 L1656.4,473.5 L1657.5,475.8 L1658.5,478.1 L1659.6,480.3 L1660.7,482.6 L1661.9,484.8 L1663.0,487.1 L1664.1,489.3 L1665.2,491.5 L1666.4,493.8 L1667.6,496.0 L1668.8,498.2 L1670.0,500.4 L1671.2,502.5 L1672.5,504.7 L1673.8,506.9 L1675.1,509.0 L1676.4,511.1 L1677.8,513.2 L1679.3,515.2 L1680.8,517.2 L1682.3,519.2 L1683.8,521.2 L1685.4,523.1 L1687.0,525.0 L1688.7,526.9 L1690.3,528.8 L1692.1,530.6 L1693.9,532.3 L1695.7,534.0 L1697.6,535.5 L1699.6,537.0 L1701.6,538.2 L1703.8,539.4 L1706.0,540.3 L1708.3,541.0 L1710.6,541.4 L1713.0,541.6 L1715.4,541.6 L1717.8,541.4 L1720.2,541.0 L1722.6,540.4 L1724.9,539.7 L1727.2,538.8 L1729.5,537.9 L1731.8,536.8 L1734.0,535.7 L1736.2,534.5 L1738.4,533.3 L1740.5,532.0 L1742.6,530.6 L1744.7,529.3 L1746.8,527.9 L1748.9,526.4 L1750.9,525.0 L1752.9,523.5 L1754.9,522.0 L1756.9,520.5 L1758.9,518.9 L1760.8,517.3 L1762.8,515.7 L1764.7,514.1 L1766.6,512.5 L1768.4,510.8 L1770.2,509.1 L1772.0,507.3 L1773.8,505.6 L1775.5,503.7 L1777.2,501.9 L1778.8,500.0 L1780.4,498.1 L1782.0,496.1 L1783.5,494.1 L1785.1,492.2 L1786.5,490.1 L1788.0,488.1 L1789.5,486.1 L1790.9,484.0 L1792.3,481.9 L1793.7,479.9 L1795.1,477.8 L1796.5,475.7 L1798.0,473.6 L1799.4,471.6 L1800.8,469.5 L1802.2,467.4 L1803.6,465.4 L1805.1,463.3 L1806.5,461.3 L1808.0,459.3 L1809.5,457.3 L1811.0,455.3 L1812.5,453.3 L1814.1,451.3 L1815.6,449.3 L1817.2,447.4 L1818.8,445.4 L1820.3,443.5 L1821.9,441.5 L1823.5,439.6 L1825.1,437.6 L1826.7,435.7 L1828.2,433.7 L1829.8,431.8 L1831.4,429.8 L1833.0,427.9 L1834.6,425.9 L1836.2,424.0 L1837.8,422.1 L1839.4,420.1 L1841.0,418.2 L1842.5,416.3 L1844.2,414.3 L1845.8,412.4 L1847.4,410.5 L1849.0,408.6 L1850.6,406.7 L1852.2,404.7 L1853.8,402.8 L1855.5,400.9 L1857.1,399.0 L1858.7,397.1 L1860.4,395.2 L1862.0,393.3 L1863.7,391.4 L1865.3,389.6 L1867.0,387.7 L1868.7,385.8 L1870.3,384.0 L1872.0,382.1 L1873.7,380.2 L1875.4,378.4 L1877.1,376.6 L1878.8,374.7 L1880.5,372.9 L1882.2,371.1 L1884.0,369.3 L1885.7,367.5 L1887.5,365.7 L1889.2,363.9 L1891.0,362.1 L1892.8,360.3 L1894.5,358.6 L1896.3,356.8 L1898.1,355.0 L1899.9,353.3 L1901.7,351.6 L1903.6,349.8 L1905.4,348.1 L1907.2,346.4 L1909.0,344.7 L1910.9,343.0 L1912.7,341.3 L1914.6,339.6 L1916.4,337.9 L1918.3,336.2 L1920.1,334.5 L1922.0,332.9 L1923.9,331.2 L1925.7,329.5 L1927.6,327.9 L1929.5,326.2 L1931.4,324.6 L1933.3,322.9 L1935.2,321.3 L1937.1,319.7 L1939.0,318.0 L1940.9,316.4 L1942.8,314.8 L1944.8,313.2 L1946.7,311.6 L1948.6,310.0 L1950.6,308.4 L1952.5,306.8 L1954.5,305.2 L1956.4,303.7 L1958.4,302.1 L1960.3,300.5 L1962.3,299.0 L1964.3,297.4 L1966.3,295.9 L1968.2,294.4 L1970.2,292.9 L1972.2,291.4 L1974.3,289.9 L1976.3,288.4 L1978.3,286.9 L1980.3,285.4 L1982.4,284.0 L1984.5,282.6 L1986.5,281.2 L1988.6,279.8 L1990.7,278.4 L1992.8,277.1 L1995.0,275.7 L1997.1,274.4 L1999.3,273.2 L2001.4,271.9 L2003.6,270.7 L2005.8,269.5 L2008.1,268.4 L2010.3,267.2 L2012.5,266.1 L2014.8,265.0 L2017.0,263.9 L2019.3,262.8 L2021.5,261.7 L2023.8,260.6 L2026.0,259.5 L2028.3,258.4 L2030.5,257.2 L2032.8,256.1 L2035.0,255.0"/></defs>
<use href="#c14" fill="none" stroke="#fff" stroke-width="10.4" stroke-linecap="round" stroke-linejoin="round"/>
<use href="#c14" fill="none" stroke="#dbe9f0" stroke-width="8" stroke-linecap="round" stroke-linejoin="round"/>
<defs><path id="c15" d="M1328.8,436.5 L1331.3,436.0 L1333.7,435.5 L1336.2,435.0 L1338.6,434.5 L1341.1,434.0 L1343.6,433.5 L1346.0,433.0 L1348.5,432.5 L1350.9,432.0 L1353.4,431.4 L1355.8,430.8 L1358.2,430.1 L1360.6,429.4 L1362.9,428.5 L1365.2,427.6 L1367.5,426.6 L1369.7,425.4 L1371.8,424.2 L1373.9,422.8 L1375.9,421.4 L1377.9,419.9 L1379.8,418.3 L1381.6,416.6 L1383.4,414.8 L1385.1,413.0 L1386.8,411.2 L1388.5,409.3 L1390.1,407.4 L1391.8,405.5 L1393.4,403.6 L1395.0,401.7 L1396.6,399.7 L1398.1,397.8 L1399.7,395.8 L1401.2,393.8 L1402.7,391.8 L1404.2,389.8 L1405.7,387.8 L1407.2,385.8 L1408.7,383.7 L1410.1,381.7 L1411.6,379.6 L1413.0,377.6 L1414.4,375.5 L1415.8,373.4 L1417.2,371.3 L1418.6,369.3 L1420.0,367.2 L1421.4,365.1 L1422.8,363.0 L1424.2,360.9 L1425.6,358.8 L1426.9,356.7 L1428.3,354.6 L1429.7,352.5 L1431.0,350.4 L1432.4,348.3 L1433.7,346.2 L1435.1,344.0 L1436.4,341.9 L1437.8,339.8 L1439.1,337.7 L1440.4,335.5 L1441.7,333.4 L1443.1,331.3 L1444.4,329.1 L1445.7,327.0 L1446.9,324.8 L1448.2,322.7 L1449.5,320.5 L1450.8,318.3 L1452.0,316.2 L1453.3,314.0 L1454.5,311.8 L1455.7,309.6 L1457.0,307.4 L1458.2,305.2 L1459.4,303.1 L1460.6,300.9 L1461.8,298.7 L1463.0,296.5 L1464.3,294.3 L1465.5,292.1 L1466.7,289.9 L1467.9,287.7 L1469.1,285.5 L1470.3,283.3 L1471.5,281.1 L1472.8,278.9 L1474.0,276.7 L1475.2,274.5 L1476.5,272.4 L1477.7,270.2 L1479.0,268.0 L1480.3,265.8 L1481.5,263.7 L1482.8,261.5 L1484.1,259.4 L1485.4,257.2 L1486.7,255.1 L1488.1,253.0 L1489.4,250.8 L1490.7,248.7 L1492.0,246.6 L1493.4,244.5 L1494.7,242.3 L1496.0,240.2 L1497.4,238.1 L1498.7,236.0 L1500.1,233.9 L1501.5,231.8 L1502.8,229.7 L1504.2,227.6 L1505.7,225.5 L1507.1,223.5 L1508.6,221.5 L1510.1,219.5 L1511.7,217.5 L1513.3,215.6 L1514.9,213.7 L1516.6,211.9 L1518.3,210.1 L1520.1,208.3 L1521.9,206.6 L1523.8,204.9 L1525.7,203.3 L1527.6,201.7 L1529.6,200.2 L1531.7,198.8 L1533.8,197.6 L1535.9,196.4 L1538.1,195.5 L1540.4,194.8 L1542.7,194.3 L1545.0,194.1 L1547.3,194.2 L1549.6,194.5 L1551.9,195.2 L1554.1,196.0 L1556.3,197.1 L1558.3,198.4 L1560.3,199.8 L1562.3,201.3 L1564.1,203.0 L1565.9,204.7 L1567.7,206.4 L1569.4,208.3 L1571.1,210.1 L1572.7,212.1 L1574.2,214.0 L1575.7,216.0 L1577.2,218.0 L1578.6,220.1 L1580.0,222.2 L1581.3,224.3 L1582.5,226.5 L1583.7,228.7 L1584.9,230.9 L1585.9,233.2 L1587.0,235.5 L1588.0,237.8 L1588.9,240.1 L1589.8,242.4 L1590.7,244.7 L1591.6,247.1 L1592.5,249.5 L1593.3,251.8 L1594.1,254.2 L1594.9,256.6 L1595.7,259.0 L1596.5,261.3 L1597.3,263.7 L1598.1,266.1 L1598.9,268.5 L1599.7,270.8 L1600.5,273.2 L1601.3,275.6 L1602.1,278.0 L1603.0,280.3 L1603.8,282.7 L1604.6,285.1 L1605.4,287.4 L1606.3,289.8 L1607.1,292.2 L1607.9,294.6 L1608.7,296.9 L1609.5,299.3 L1610.2,301.7 L1611.0,304.1 L1611.8,306.5 L1612.5,308.9 L1613.3,311.3 L1614.1,313.7 L1614.8,316.0 L1615.6,318.4 L1616.3,320.8 L1617.1,323.2 L1617.8,325.6 L1618.6,328.0 L1619.3,330.4 L1620.1,332.8 L1620.8,335.2 L1621.6,337.6 L1622.4,340.0 L1623.1,342.4 L1623.9,344.8 L1624.7,347.1 L1625.5,349.5 L1626.2,351.9 L1627.0,354.3 L1627.9,356.7 L1628.7,359.0 L1629.5,361.4 L1630.3,363.8 L1631.2,366.1 L1632.1,368.5 L1632.9,370.8 L1633.8,373.2 L1634.7,375.5 L1635.6,377.9 L1636.6,380.2 L1637.5,382.5 L1638.5,384.8 L1639.5,387.1 L1640.4,389.4 L1641.5,391.7 L1642.5,394.0 L1643.5,396.3 L1644.5,398.6 L1645.6,400.9 L1646.6,403.2 L1647.7,405.4 L1648.8,407.7 L1649.9,410.0 L1651.0,412.2 L1652.0,414.5 L1653.2,416.7 L1654.3,419.0 L1655.4,421.2 L1656.5,423.5 L1657.6,425.7 L1658.7,428.0 L1659.9,430.2 L1661.0,432.4 L1662.1,434.7 L1663.3,436.9 L1664.4,439.2 L1665.5,441.4 L1666.7,443.6 L1667.8,445.9 L1668.9,448.1 L1670.0,450.4 L1671.1,452.6 L1672.3,454.9 L1673.3,457.1 L1674.4,459.4 L1675.5,461.6 L1676.6,463.9 L1677.6,466.2 L1678.7,468.5 L1679.7,470.8 L1680.7,473.1 L1681.7,475.4 L1682.7,477.7 L1683.7,480.0 L1684.7,482.3 L1685.7,484.6 L1686.8,486.8 L1687.8,489.1 L1688.8,491.4 L1689.9,493.7 L1690.9,496.0 L1692.0,498.2 L1693.1,500.5 L1694.2,502.7 L1695.4,505.0 L1696.6,507.1 L1697.8,509.3 L1699.1,511.5 L1700.4,513.6 L1701.8,515.7 L1703.2,517.8 L1704.7,519.8 L1706.2,521.8 L1707.7,523.8 L1709.3,525.7 L1710.9,527.7 L1712.5,529.5 L1714.2,531.4 L1715.9,533.2 L1717.7,535.0 L1719.5,536.6 L1721.4,538.2 L1723.4,539.7 L1725.5,541.0 L1727.6,542.1 L1729.8,543.1 L1732.1,543.8 L1734.4,544.3 L1736.8,544.6 L1739.1,544.6 L1741.5,544.4 L1743.9,543.9 L1746.2,543.3 L1748.6,542.5 L1750.8,541.6 L1753.1,540.5 L1755.3,539.4 L1757.5,538.1 L1759.6,536.8 L1761.7,535.5 L1763.8,534.1 L1765.8,532.6 L1767.8,531.1 L1769.8,529.6 L1771.8,528.1 L1773.8,526.6 L1775.7,525.0 L1777.7,523.4 L1779.6,521.8 L1781.5,520.2 L1783.5,518.6 L1785.4,517.0 L1787.3,515.4 L1789.2,513.7 L1791.1,512.1 L1793.0,510.5 L1795.0,508.9 L1796.9,507.2 L1798.8,505.6 L1800.7,503.9 L1802.5,502.3 L1804.4,500.6 L1806.3,498.9 L1808.1,497.2 L1809.9,495.5 L1811.7,493.7 L1813.5,492.0 L1815.2,490.2 L1817.0,488.4 L1818.7,486.6 L1820.4,484.7 L1822.1,482.9 L1823.8,481.1 L1825.5,479.2 L1827.2,477.3 L1828.9,475.5 L1830.6,473.6 L1832.3,471.8 L1833.9,469.9 L1835.6,468.0 L1837.3,466.2 L1839.0,464.3 L1840.7,462.4 L1842.4,460.6 L1844.1,458.8 L1845.8,456.9 L1847.5,455.1 L1849.2,453.3 L1851.0,451.5 L1852.7,449.7 L1854.5,447.9 L1856.3,446.2 L1858.1,444.4 L1859.9,442.7 L1861.7,440.9 L1863.6,439.2 L1865.4,437.5 L1867.3,435.8 L1869.1,434.1 L1871.0,432.5 L1872.9,430.8 L1874.7,429.1 L1876.6,427.5 L1878.5,425.8 L1880.4,424.2 L1882.3,422.5 L1884.2,420.9 L1886.1,419.3 L1888.0,417.6 L1889.9,416.0 L1891.8,414.4 L1893.7,412.7 L1895.6,411.1 L1897.6,409.5 L1899.5,407.9 L1901.4,406.3 L1903.3,404.7 L1905.3,403.1 L1907.2,401.5 L1909.1,399.9 L1911.1,398.3 L1913.0,396.7 L1915.0,395.1 L1916.9,393.5 L1918.9,391.9 L1920.8,390.4 L1922.7,388.8 L1924.7,387.2 L1926.7,385.6 L1928.6,384.1 L1930.6,382.5 L1932.5,380.9 L1934.5,379.3 L1936.4,377.8 L1938.4,376.2 L1940.4,374.7 L1942.3,373.1 L1944.3,371.5 L1946.3,370.0 L1948.2,368.4 L1950.2,366.9 L1952.2,365.3 L1954.1,363.8 L1956.1,362.2 L1958.1,360.7 L1960.1,359.1 L1962.0,357.6 L1964.0,356.0 L1966.0,354.5 L1968.0,353.0 L1970.0,351.4 L1972.0,349.9 L1974.0,348.4 L1975.9,346.8 L1977.9,345.3 L1979.9,343.8 L1981.9,342.3 L1984.0,340.8 L1986.0,339.3 L1988.0,337.8 L1990.0,336.3 L1992.0,334.8 L1994.1,333.4 L1996.1,331.9 L1998.1,330.4 L2000.2,328.9 L2002.2,327.5 L2004.2,326.0 L2006.3,324.6 L2008.3,323.1 L2010.4,321.7 L2012.4,320.2 L2014.5,318.8 L2016.5,317.3 L2018.6,315.9 L2020.6,314.4 L2022.7,313.0 L2024.7,311.5 L2026.7,310.0 L2028.8,308.6 L2030.8,307.1 L2032.9,305.7 L2034.9,304.2"/></defs>
<use href="#c15" fill="none" stroke="#fff" stroke-width="10.4" stroke-linecap="round" stroke-linejoin="round"/>
<use href="#c15" fill="none" stroke="#f7d3c2" stroke-width="8" stroke-linecap="round" stroke-linejoin="round"/>
<defs><path id="c16" d="M1327.2,433.4 L1329.7,433.3 L1332.2,433.2 L1334.7,433.0 L1337.2,432.9 L1339.7,432.8 L1342.2,432.7 L1344.7,432.5 L1347.2,432.3 L1349.7,432.1 L1352.2,431.8 L1354.7,431.4 L1357.1,430.9 L1359.5,430.3 L1361.9,429.7 L1364.3,428.9 L1366.6,428.0 L1368.9,427.0 L1371.2,426.0 L1373.4,424.8 L1375.6,423.6 L1377.7,422.3 L1379.8,421.0 L1382.0,419.7 L1384.0,418.3 L1386.1,416.9 L1388.2,415.4 L1390.2,414.0 L1392.3,412.5 L1394.3,411.0 L1396.3,409.6 L1398.4,408.1 L1400.4,406.6 L1402.4,405.1 L1404.4,403.6 L1406.4,402.1 L1408.4,400.5 L1410.4,399.0 L1412.3,397.4 L1414.3,395.8 L1416.2,394.2 L1418.1,392.6 L1420.0,390.9 L1421.8,389.3 L1423.7,387.5 L1425.5,385.8 L1427.3,384.1 L1429.0,382.3 L1430.7,380.4 L1432.4,378.6 L1434.1,376.7 L1435.7,374.7 L1437.2,372.8 L1438.8,370.8 L1440.2,368.8 L1441.7,366.8 L1443.1,364.7 L1444.5,362.6 L1445.9,360.5 L1447.3,358.4 L1448.7,356.3 L1450.0,354.2 L1451.4,352.1 L1452.8,350.0 L1454.1,347.9 L1455.5,345.8 L1456.8,343.7 L1458.2,341.6 L1459.6,339.4 L1460.9,337.3 L1462.3,335.2 L1463.7,333.1 L1465.0,331.0 L1466.4,328.9 L1467.7,326.8 L1469.1,324.7 L1470.4,322.5 L1471.7,320.4 L1473.1,318.3 L1474.4,316.2 L1475.8,314.0 L1477.1,311.9 L1478.4,309.8 L1479.8,307.6 L1481.1,305.5 L1482.4,303.4 L1483.7,301.3 L1485.1,299.1 L1486.4,297.0 L1487.7,294.8 L1489.0,292.7 L1490.3,290.6 L1491.6,288.4 L1493.0,286.3 L1494.3,284.2 L1495.6,282.0 L1496.9,279.9 L1498.2,277.7 L1499.5,275.6 L1500.8,273.4 L1502.1,271.3 L1503.4,269.1 L1504.6,267.0 L1505.9,264.8 L1507.1,262.6 L1508.4,260.4 L1509.6,258.2 L1510.8,256.0 L1512.0,253.8 L1513.2,251.6 L1514.3,249.4 L1515.5,247.2 L1516.7,244.9 L1517.9,242.7 L1519.1,240.6 L1520.4,238.4 L1521.7,236.2 L1523.0,234.1 L1524.3,232.0 L1525.7,229.9 L1527.1,227.8 L1528.6,225.8 L1530.2,223.9 L1531.8,221.9 L1533.4,220.0 L1535.1,218.2 L1536.8,216.4 L1538.6,214.7 L1540.5,213.0 L1542.4,211.4 L1544.4,209.9 L1546.4,208.6 L1548.5,207.4 L1550.7,206.3 L1552.9,205.5 L1555.3,204.9 L1557.6,204.6 L1560.0,204.4 L1562.4,204.5 L1564.8,204.8 L1567.2,205.3 L1569.5,206.0 L1571.9,206.9 L1574.1,207.8 L1576.4,208.9 L1578.5,210.1 L1580.7,211.4 L1582.7,212.8 L1584.7,214.3 L1586.6,215.8 L1588.5,217.5 L1590.2,219.2 L1591.9,221.1 L1593.5,223.0 L1595.1,224.9 L1596.5,226.9 L1597.9,229.0 L1599.3,231.1 L1600.6,233.3 L1601.8,235.4 L1603.0,237.6 L1604.2,239.9 L1605.4,242.1 L1606.5,244.3 L1607.6,246.5 L1608.8,248.8 L1609.9,251.0 L1611.0,253.3 L1612.1,255.5 L1613.3,257.8 L1614.4,260.0 L1615.5,262.3 L1616.6,264.5 L1617.6,266.8 L1618.7,269.1 L1619.7,271.4 L1620.8,273.7 L1621.8,276.0 L1622.8,278.3 L1623.7,280.6 L1624.7,282.9 L1625.7,285.2 L1626.6,287.5 L1627.5,289.9 L1628.4,292.2 L1629.4,294.6 L1630.3,296.9 L1631.1,299.2 L1632.0,301.6 L1632.9,304.0 L1633.8,306.3 L1634.6,308.7 L1635.4,311.0 L1636.3,313.4 L1637.1,315.8 L1637.9,318.2 L1638.7,320.5 L1639.5,322.9 L1640.2,325.3 L1641.0,327.7 L1641.8,330.1 L1642.6,332.5 L1643.3,334.9 L1644.1,337.3 L1644.9,339.7 L1645.6,342.1 L1646.4,344.4 L1647.1,346.8 L1647.9,349.2 L1648.7,351.6 L1649.5,354.0 L1650.2,356.4 L1651.0,358.8 L1651.8,361.2 L1652.6,363.5 L1653.4,365.9 L1654.2,368.3 L1655.0,370.7 L1655.9,373.0 L1656.7,375.4 L1657.5,377.8 L1658.4,380.1 L1659.3,382.5 L1660.1,384.9 L1661.0,387.2 L1661.9,389.6 L1662.7,391.9 L1663.6,394.3 L1664.5,396.6 L1665.4,399.0 L1666.3,401.3 L1667.2,403.7 L1668.1,406.0 L1669.0,408.3 L1669.9,410.7 L1670.8,413.0 L1671.7,415.4 L1672.6,417.7 L1673.6,420.0 L1674.5,422.4 L1675.4,424.7 L1676.4,427.0 L1677.3,429.3 L1678.3,431.7 L1679.2,434.0 L1680.2,436.3 L1681.1,438.6 L1682.1,440.9 L1683.1,443.3 L1684.1,445.6 L1685.1,447.9 L1686.1,450.2 L1687.1,452.5 L1688.1,454.8 L1689.1,457.1 L1690.1,459.4 L1691.1,461.7 L1692.1,464.0 L1693.0,466.3 L1694.0,468.6 L1695.0,470.9 L1696.0,473.2 L1697.0,475.5 L1698.0,477.9 L1698.9,480.2 L1699.9,482.5 L1700.9,484.8 L1701.9,487.1 L1703.0,489.4 L1704.0,491.7 L1705.0,493.9 L1706.1,496.2 L1707.2,498.5 L1708.4,500.7 L1709.5,502.9 L1710.7,505.1 L1712.0,507.3 L1713.2,509.5 L1714.6,511.6 L1715.9,513.7 L1717.3,515.7 L1718.8,517.8 L1720.3,519.8 L1721.8,521.8 L1723.4,523.7 L1725.1,525.6 L1726.7,527.5 L1728.4,529.3 L1730.1,531.2 L1731.9,533.0 L1733.7,534.7 L1735.5,536.4 L1737.3,538.1 L1739.2,539.8 L1741.1,541.3 L1743.1,542.9 L1745.2,544.3 L1747.2,545.7 L1749.4,546.9 L1751.6,548.1 L1753.8,549.0 L1756.1,549.9 L1758.4,550.5 L1760.8,551.0 L1763.2,551.3 L1765.6,551.3 L1768.1,551.2 L1770.5,550.9 L1772.9,550.3 L1775.2,549.7 L1777.5,548.8 L1779.8,547.9 L1782.1,546.8 L1784.3,545.7 L1786.5,544.4 L1788.6,543.2 L1790.8,541.9 L1792.9,540.6 L1795.0,539.2 L1797.1,537.8 L1799.2,536.4 L1801.3,535.0 L1803.3,533.6 L1805.3,532.1 L1807.4,530.6 L1809.4,529.1 L1811.3,527.5 L1813.3,526.0 L1815.2,524.4 L1817.2,522.8 L1819.1,521.1 L1821.0,519.5 L1822.9,517.9 L1824.8,516.2 L1826.6,514.5 L1828.5,512.8 L1830.4,511.2 L1832.2,509.5 L1834.0,507.7 L1835.9,506.0 L1837.7,504.3 L1839.5,502.6 L1841.3,500.9 L1843.2,499.1 L1845.0,497.4 L1846.8,495.6 L1848.6,493.9 L1850.4,492.1 L1852.2,490.4 L1854.0,488.6 L1855.8,486.9 L1857.5,485.1 L1859.3,483.3 L1861.1,481.6 L1862.9,479.8 L1864.7,478.0 L1866.5,476.3 L1868.2,474.5 L1870.0,472.7 L1871.8,470.9 L1873.6,469.2 L1875.4,467.4 L1877.1,465.6 L1878.9,463.9 L1880.7,462.1 L1882.5,460.3 L1884.3,458.6 L1886.1,456.8 L1887.8,455.0 L1889.6,453.3 L1891.4,451.5 L1893.2,449.8 L1895.0,448.0 L1896.8,446.3 L1898.7,444.5 L1900.5,442.8 L1902.3,441.1 L1904.1,439.3 L1905.9,437.6 L1907.7,435.9 L1909.6,434.2 L1911.4,432.4 L1913.2,430.7 L1915.0,428.9 L1916.8,427.2 L1918.6,425.5 L1920.4,423.7 L1922.2,422.0 L1924.0,420.2 L1925.8,418.5 L1927.6,416.7 L1929.4,415.0 L1931.2,413.2 L1933.0,411.4 L1934.8,409.7 L1936.6,407.9 L1938.4,406.2 L1940.2,404.4 L1942.0,402.7 L1943.8,401.0 L1945.6,399.2 L1947.4,397.5 L1949.3,395.7 L1951.1,394.0 L1952.9,392.3 L1954.7,390.6 L1956.6,388.9 L1958.4,387.2 L1960.3,385.5 L1962.1,383.8 L1964.0,382.1 L1965.9,380.4 L1967.7,378.8 L1969.6,377.1 L1971.5,375.5 L1973.4,373.8 L1975.3,372.2 L1977.3,370.6 L1979.2,369.0 L1981.1,367.4 L1983.1,365.8 L1985.0,364.2 L1987.0,362.7 L1989.0,361.1 L1990.9,359.5 L1992.9,358.0 L1994.9,356.4 L1996.9,354.9 L1998.9,353.4 L2000.9,351.9 L2002.9,350.3 L2004.9,348.8 L2006.9,347.3 L2008.9,345.8 L2010.9,344.3 L2012.9,342.8 L2014.9,341.3 L2016.9,339.8 L2018.9,338.3 L2020.9,336.7 L2022.9,335.2 L2024.9,333.7 L2026.9,332.2 L2028.9,330.7 L2030.9,329.2 L2032.9,327.6 L2034.9,326.1"/></defs>
<use href="#c16" fill="none" stroke="#fff" stroke-width="10.4" stroke-linecap="round" stroke-linejoin="round"/>
<use href="#c16" fill="none" stroke="#ee9a7c" stroke-width="8" stroke-linecap="round" stroke-linejoin="round"/>
<defs><path id="c17" d="M1327.2,372.3 L1329.7,372.3 L1332.2,372.3 L1334.7,372.3 L1337.2,372.2 L1339.7,372.2 L1342.2,372.2 L1344.7,372.1 L1347.3,372.1 L1349.8,371.9 L1352.2,371.8 L1354.7,371.5 L1357.2,371.2 L1359.7,370.8 L1362.1,370.3 L1364.5,369.8 L1367.0,369.2 L1369.4,368.4 L1371.7,367.7 L1374.1,366.8 L1376.4,365.9 L1378.7,364.9 L1381.0,363.8 L1383.2,362.7 L1385.4,361.6 L1387.6,360.3 L1389.7,359.0 L1391.8,357.7 L1393.9,356.3 L1395.9,354.8 L1397.9,353.3 L1399.8,351.7 L1401.7,350.1 L1403.6,348.4 L1405.4,346.7 L1407.3,345.0 L1409.0,343.3 L1410.8,341.5 L1412.6,339.7 L1414.3,337.9 L1416.0,336.0 L1417.7,334.2 L1419.4,332.3 L1421.1,330.5 L1422.8,328.6 L1424.5,326.8 L1426.1,324.9 L1427.8,323.1 L1429.5,321.2 L1431.2,319.3 L1432.9,317.5 L1434.6,315.6 L1436.3,313.8 L1438.0,311.9 L1439.6,310.1 L1441.3,308.2 L1443.0,306.3 L1444.7,304.5 L1446.3,302.6 L1448.0,300.7 L1449.6,298.8 L1451.3,296.9 L1452.9,295.0 L1454.6,293.1 L1456.2,291.2 L1457.8,289.3 L1459.4,287.4 L1461.1,285.5 L1462.7,283.6 L1464.3,281.7 L1465.9,279.7 L1467.5,277.8 L1469.1,275.9 L1470.7,273.9 L1472.3,272.0 L1473.9,270.0 L1475.4,268.1 L1477.0,266.1 L1478.6,264.2 L1480.1,262.2 L1481.7,260.2 L1483.2,258.3 L1484.8,256.3 L1486.3,254.3 L1487.8,252.3 L1489.3,250.3 L1490.8,248.3 L1492.3,246.3 L1493.8,244.3 L1495.3,242.2 L1496.8,240.2 L1498.2,238.2 L1499.7,236.1 L1501.1,234.1 L1502.5,232.0 L1503.9,229.9 L1505.3,227.8 L1506.7,225.7 L1508.0,223.6 L1509.3,221.5 L1510.6,219.3 L1511.9,217.2 L1513.2,215.0 L1514.5,212.8 L1515.7,210.7 L1517.0,208.5 L1518.3,206.4 L1519.6,204.2 L1520.9,202.1 L1522.2,199.9 L1523.5,197.8 L1524.9,195.7 L1526.2,193.6 L1527.6,191.5 L1529.1,189.5 L1530.5,187.4 L1532.0,185.4 L1533.6,183.5 L1535.1,181.5 L1536.8,179.6 L1538.4,177.7 L1540.1,175.8 L1541.7,174.0 L1543.5,172.1 L1545.2,170.3 L1546.9,168.5 L1548.7,166.8 L1550.5,165.0 L1552.3,163.3 L1554.2,161.6 L1556.0,159.9 L1558.0,158.3 L1559.9,156.8 L1561.9,155.3 L1564.0,153.9 L1566.1,152.6 L1568.2,151.4 L1570.4,150.4 L1572.7,149.6 L1575.0,148.9 L1577.4,148.5 L1579.8,148.3 L1582.1,148.3 L1584.5,148.6 L1586.9,149.1 L1589.2,149.8 L1591.5,150.6 L1593.7,151.7 L1595.9,152.8 L1598.0,154.1 L1600.1,155.4 L1602.1,156.9 L1604.1,158.4 L1606.1,160.0 L1607.9,161.6 L1609.8,163.3 L1611.6,165.0 L1613.3,166.8 L1615.0,168.7 L1616.6,170.5 L1618.2,172.5 L1619.8,174.4 L1621.3,176.4 L1622.7,178.5 L1624.1,180.5 L1625.5,182.6 L1626.9,184.7 L1628.2,186.9 L1629.5,189.0 L1630.8,191.2 L1632.0,193.3 L1633.3,195.5 L1634.5,197.7 L1635.7,199.9 L1636.9,202.1 L1638.1,204.3 L1639.3,206.5 L1640.5,208.7 L1641.6,211.0 L1642.7,213.2 L1643.9,215.4 L1645.0,217.7 L1646.0,220.0 L1647.1,222.2 L1648.1,224.5 L1649.2,226.8 L1650.2,229.1 L1651.1,231.4 L1652.1,233.7 L1653.0,236.1 L1654.0,238.4 L1654.9,240.7 L1655.8,243.1 L1656.7,245.4 L1657.6,247.8 L1658.4,250.1 L1659.3,252.5 L1660.1,254.8 L1660.9,257.2 L1661.7,259.6 L1662.5,262.0 L1663.2,264.4 L1664.0,266.8 L1664.7,269.2 L1665.3,271.6 L1666.0,274.0 L1666.6,276.4 L1667.2,278.9 L1667.8,281.3 L1668.4,283.7 L1669.0,286.2 L1669.5,288.6 L1670.1,291.1 L1670.7,293.5 L1671.3,295.9 L1671.8,298.4 L1672.4,300.8 L1673.0,303.3 L1673.6,305.7 L1674.2,308.1 L1674.8,310.6 L1675.4,313.0 L1676.0,315.4 L1676.6,317.9 L1677.1,320.3 L1677.7,322.8 L1678.3,325.2 L1678.9,327.6 L1679.5,330.1 L1680.1,332.5 L1680.7,334.9 L1681.3,337.4 L1681.9,339.8 L1682.5,342.3 L1683.1,344.7 L1683.7,347.1 L1684.3,349.6 L1684.9,352.0 L1685.6,354.4 L1686.2,356.8 L1686.9,359.3 L1687.5,361.7 L1688.2,364.1 L1688.8,366.5 L1689.5,368.9 L1690.2,371.3 L1690.9,373.8 L1691.6,376.2 L1692.3,378.6 L1693.0,381.0 L1693.8,383.4 L1694.5,385.8 L1695.2,388.2 L1696.0,390.6 L1696.7,393.0 L1697.4,395.4 L1698.2,397.7 L1699.0,400.1 L1699.7,402.5 L1700.5,404.9 L1701.2,407.3 L1702.0,409.7 L1702.8,412.1 L1703.6,414.5 L1704.4,416.8 L1705.2,419.2 L1706.0,421.6 L1706.9,423.9 L1707.7,426.3 L1708.6,428.7 L1709.4,431.0 L1710.3,433.4 L1711.2,435.7 L1712.1,438.0 L1713.0,440.4 L1714.0,442.7 L1715.0,445.0 L1716.0,447.3 L1717.0,449.6 L1718.0,451.9 L1719.0,454.2 L1720.1,456.4 L1721.2,458.7 L1722.3,460.9 L1723.4,463.2 L1724.6,465.4 L1725.7,467.6 L1726.9,469.8 L1728.1,472.0 L1729.3,474.2 L1730.5,476.4 L1731.8,478.6 L1733.0,480.8 L1734.3,482.9 L1735.6,485.1 L1737.0,487.2 L1738.3,489.3 L1739.7,491.4 L1741.1,493.5 L1742.5,495.5 L1744.0,497.6 L1745.5,499.6 L1747.0,501.5 L1748.6,503.5 L1750.2,505.4 L1751.8,507.3 L1753.5,509.2 L1755.2,511.0 L1756.9,512.9 L1758.7,514.7 L1760.4,516.4 L1762.2,518.2 L1764.0,519.9 L1765.8,521.6 L1767.7,523.3 L1769.6,524.9 L1771.5,526.5 L1773.5,528.0 L1775.6,529.4 L1777.7,530.7 L1779.8,531.9 L1782.0,532.9 L1784.3,533.8 L1786.6,534.5 L1789.0,535.0 L1791.4,535.2 L1793.8,535.3 L1796.2,535.1 L1798.5,534.7 L1800.9,534.1 L1803.2,533.3 L1805.5,532.3 L1807.7,531.3 L1809.9,530.1 L1812.0,528.8 L1814.1,527.5 L1816.2,526.0 L1818.2,524.6 L1820.2,523.1 L1822.1,521.5 L1824.1,519.9 L1826.0,518.3 L1827.9,516.7 L1829.8,515.1 L1831.7,513.4 L1833.6,511.8 L1835.5,510.1 L1837.3,508.4 L1839.2,506.7 L1841.0,505.1 L1842.9,503.4 L1844.8,501.7 L1846.6,500.0 L1848.5,498.3 L1850.4,496.7 L1852.2,495.0 L1854.1,493.3 L1856.0,491.6 L1857.8,490.0 L1859.7,488.3 L1861.5,486.6 L1863.3,484.8 L1865.1,483.1 L1867.0,481.4 L1868.7,479.6 L1870.5,477.9 L1872.3,476.1 L1874.1,474.3 L1875.8,472.5 L1877.5,470.7 L1879.3,468.9 L1881.0,467.0 L1882.7,465.2 L1884.3,463.3 L1886.0,461.4 L1887.7,459.6 L1889.3,457.7 L1890.9,455.7 L1892.5,453.8 L1894.1,451.9 L1895.7,449.9 L1897.2,448.0 L1898.8,446.0 L1900.3,444.0 L1901.8,441.9 L1903.2,439.9 L1904.6,437.8 L1906.0,435.8 L1907.4,433.7 L1908.7,431.5 L1910.0,429.4 L1911.3,427.2 L1912.5,425.0 L1913.7,422.8 L1914.9,420.6 L1916.0,418.4 L1917.2,416.2 L1918.3,413.9 L1919.4,411.7 L1920.5,409.4 L1921.6,407.2 L1922.7,404.9 L1923.8,402.6 L1924.9,400.4 L1926.0,398.1 L1927.1,395.9 L1928.2,393.6 L1929.3,391.4 L1930.5,389.2 L1931.7,387.0 L1932.9,384.8 L1934.1,382.6 L1935.4,380.5 L1936.7,378.3 L1938.1,376.2 L1939.5,374.1 L1940.9,372.1 L1942.3,370.0 L1943.8,368.0 L1945.3,366.0 L1946.9,364.0 L1948.5,362.1 L1950.1,360.2 L1951.7,358.2 L1953.3,356.3 L1955.0,354.5 L1956.6,352.6 L1958.3,350.7 L1960.0,348.9 L1961.7,347.1 L1963.5,345.3 L1965.2,343.5 L1967.0,341.7 L1968.7,339.9 L1970.5,338.1 L1972.3,336.4 L1974.1,334.6 L1975.9,332.9 L1977.7,331.1 L1979.5,329.4 L1981.3,327.7 L1983.1,325.9 L1985.0,324.2 L1986.8,322.5 L1988.6,320.8 L1990.5,319.1 L1992.4,317.4 L1994.2,315.7 L1996.1,314.1 L1998.0,312.4 L1999.9,310.8 L2001.8,309.2 L2003.7,307.6 L2005.7,306.0 L2007.6,304.4 L2009.5,302.8 L2011.5,301.2 L2013.4,299.6 L2015.4,298.1 L2017.3,296.5 L2019.3,294.9 L2021.3,293.3 L2023.2,291.8 L2025.2,290.2 L2027.1,288.6 L2029.1,287.0 L2031.0,285.5 L2033.0,283.9 L2034.9,282.3"/></defs>
<use href="#c17" fill="none" stroke="#fff" stroke-width="10.4" stroke-linecap="round" stroke-linejoin="round"/>
<use href="#c17" fill="none" stroke="#d65a4c" stroke-width="8" stroke-linecap="round" stroke-linejoin="round"/>
<defs><path id="c18" d="M1326.6,308.0 L1329.1,308.4 L1331.5,308.9 L1334.0,309.3 L1336.5,309.7 L1339.0,310.2 L1341.4,310.6 L1343.9,311.0 L1346.4,311.3 L1348.9,311.7 L1351.3,311.9 L1353.8,312.1 L1356.3,312.3 L1358.8,312.3 L1361.3,312.2 L1363.8,312.1 L1366.3,311.8 L1368.7,311.4 L1371.2,311.0 L1373.6,310.5 L1376.0,309.9 L1378.4,309.2 L1380.8,308.4 L1383.2,307.6 L1385.5,306.7 L1387.8,305.8 L1390.1,304.8 L1392.4,303.7 L1394.6,302.6 L1396.9,301.5 L1399.0,300.2 L1401.2,299.0 L1403.3,297.7 L1405.4,296.3 L1407.5,294.9 L1409.6,293.5 L1411.6,292.0 L1413.6,290.5 L1415.6,289.0 L1417.6,287.5 L1419.6,285.9 L1421.5,284.4 L1423.5,282.8 L1425.5,281.2 L1427.4,279.6 L1429.3,278.0 L1431.3,276.4 L1433.2,274.8 L1435.1,273.2 L1437.0,271.6 L1438.9,269.9 L1440.8,268.3 L1442.6,266.6 L1444.5,264.9 L1446.3,263.2 L1448.1,261.4 L1449.9,259.7 L1451.7,258.0 L1453.5,256.2 L1455.3,254.4 L1457.0,252.6 L1458.7,250.7 L1460.4,248.9 L1462.1,247.0 L1463.7,245.2 L1465.4,243.3 L1467.0,241.3 L1468.6,239.4 L1470.2,237.5 L1471.8,235.5 L1473.4,233.6 L1475.0,231.7 L1476.5,229.7 L1478.1,227.8 L1479.7,225.8 L1481.3,223.9 L1482.9,221.9 L1484.5,220.0 L1486.1,218.0 L1487.6,216.1 L1489.2,214.1 L1490.8,212.2 L1492.4,210.2 L1494.0,208.3 L1495.5,206.3 L1497.1,204.4 L1498.6,202.4 L1500.2,200.4 L1501.7,198.4 L1503.2,196.4 L1504.8,194.4 L1506.3,192.5 L1507.8,190.5 L1509.4,188.5 L1510.9,186.5 L1512.5,184.5 L1514.0,182.6 L1515.6,180.6 L1517.1,178.6 L1518.7,176.7 L1520.3,174.7 L1521.9,172.8 L1523.5,170.9 L1525.1,169.0 L1526.8,167.1 L1528.4,165.2 L1530.1,163.3 L1531.8,161.5 L1533.5,159.7 L1535.3,157.9 L1537.0,156.1 L1538.9,154.4 L1540.7,152.7 L1542.6,151.0 L1544.5,149.4 L1546.4,147.8 L1548.4,146.3 L1550.4,144.7 L1552.4,143.3 L1554.4,141.8 L1556.5,140.4 L1558.6,139.0 L1560.7,137.7 L1562.9,136.4 L1565.0,135.1 L1567.2,133.9 L1569.4,132.7 L1571.7,131.6 L1573.9,130.6 L1576.2,129.6 L1578.5,128.7 L1580.9,127.9 L1583.3,127.3 L1585.7,126.7 L1588.1,126.3 L1590.6,126.0 L1593.0,125.9 L1595.5,126.0 L1597.9,126.3 L1600.3,126.7 L1602.7,127.3 L1605.0,128.0 L1607.3,128.9 L1609.6,129.9 L1611.8,131.1 L1613.9,132.3 L1616.0,133.7 L1618.0,135.1 L1620.0,136.6 L1621.9,138.2 L1623.7,139.9 L1625.5,141.6 L1627.3,143.4 L1628.9,145.3 L1630.5,147.2 L1632.0,149.2 L1633.5,151.2 L1634.9,153.2 L1636.3,155.3 L1637.6,157.5 L1638.9,159.6 L1640.2,161.8 L1641.4,164.0 L1642.6,166.2 L1643.7,168.4 L1644.9,170.6 L1646.0,172.9 L1647.2,175.1 L1648.3,177.3 L1649.4,179.6 L1650.5,181.8 L1651.6,184.1 L1652.8,186.3 L1653.9,188.6 L1655.0,190.8 L1656.1,193.0 L1657.3,195.3 L1658.4,197.5 L1659.6,199.8 L1660.7,202.0 L1661.8,204.2 L1663.0,206.5 L1664.1,208.7 L1665.2,211.0 L1666.3,213.2 L1667.4,215.5 L1668.4,217.8 L1669.5,220.0 L1670.5,222.3 L1671.6,224.6 L1672.6,226.9 L1673.6,229.2 L1674.5,231.5 L1675.5,233.8 L1676.5,236.1 L1677.4,238.5 L1678.3,240.8 L1679.2,243.2 L1680.1,245.5 L1681.0,247.9 L1681.8,250.2 L1682.6,252.6 L1683.4,255.0 L1684.2,257.3 L1685.0,259.7 L1685.8,262.1 L1686.6,264.5 L1687.3,266.9 L1688.1,269.3 L1688.8,271.7 L1689.5,274.1 L1690.2,276.5 L1691.0,278.9 L1691.7,281.3 L1692.4,283.7 L1693.1,286.1 L1693.8,288.5 L1694.6,290.9 L1695.3,293.3 L1696.0,295.7 L1696.7,298.1 L1697.4,300.5 L1698.2,302.9 L1698.9,305.3 L1699.6,307.7 L1700.3,310.2 L1701.0,312.6 L1701.7,315.0 L1702.3,317.4 L1703.0,319.8 L1703.7,322.2 L1704.4,324.6 L1705.0,327.1 L1705.7,329.5 L1706.4,331.9 L1707.0,334.3 L1707.7,336.7 L1708.4,339.1 L1709.1,341.6 L1709.7,344.0 L1710.4,346.4 L1711.1,348.8 L1711.8,351.2 L1712.5,353.6 L1713.2,356.0 L1714.0,358.4 L1714.7,360.8 L1715.4,363.2 L1716.2,365.6 L1717.0,368.0 L1717.8,370.4 L1718.6,372.8 L1719.4,375.1 L1720.2,377.5 L1721.0,379.9 L1721.9,382.2 L1722.7,384.6 L1723.6,386.9 L1724.5,389.3 L1725.4,391.6 L1726.3,394.0 L1727.2,396.3 L1728.1,398.7 L1729.0,401.0 L1729.9,403.3 L1730.9,405.7 L1731.8,408.0 L1732.8,410.3 L1733.7,412.6 L1734.7,414.9 L1735.7,417.2 L1736.7,419.5 L1737.7,421.8 L1738.7,424.1 L1739.7,426.4 L1740.7,428.7 L1741.8,431.0 L1742.8,433.3 L1743.9,435.5 L1745.0,437.8 L1746.1,440.0 L1747.2,442.3 L1748.4,444.5 L1749.5,446.8 L1750.7,449.0 L1751.8,451.2 L1753.0,453.4 L1754.2,455.6 L1755.4,457.8 L1756.7,460.0 L1757.9,462.2 L1759.1,464.4 L1760.4,466.5 L1761.7,468.7 L1763.0,470.8 L1764.3,473.0 L1765.6,475.1 L1767.0,477.2 L1768.3,479.3 L1769.7,481.4 L1771.2,483.5 L1772.6,485.5 L1774.1,487.5 L1775.6,489.5 L1777.2,491.4 L1778.8,493.4 L1780.4,495.3 L1782.1,497.1 L1783.8,499.0 L1785.5,500.8 L1787.3,502.6 L1789.0,504.4 L1790.8,506.1 L1792.6,507.9 L1794.5,509.6 L1796.4,511.2 L1798.3,512.8 L1800.2,514.3 L1802.3,515.8 L1804.3,517.1 L1806.5,518.2 L1808.7,519.2 L1810.9,520.0 L1813.2,520.5 L1815.6,520.8 L1817.9,520.8 L1820.2,520.5 L1822.5,520.0 L1824.7,519.2 L1826.9,518.2 L1829.0,517.0 L1831.1,515.7 L1833.1,514.2 L1835.0,512.6 L1836.8,511.0 L1838.7,509.3 L1840.5,507.5 L1842.2,505.7 L1843.9,503.9 L1845.6,502.0 L1847.3,500.2 L1849.0,498.3 L1850.6,496.4 L1852.3,494.5 L1853.9,492.6 L1855.5,490.7 L1857.2,488.8 L1858.8,486.9 L1860.5,485.0 L1862.1,483.1 L1863.7,481.2 L1865.4,479.3 L1867.0,477.4 L1868.6,475.5 L1870.2,473.5 L1871.7,471.6 L1873.3,469.6 L1874.8,467.6 L1876.3,465.6 L1877.8,463.6 L1879.3,461.6 L1880.8,459.5 L1882.2,457.5 L1883.6,455.4 L1885.1,453.4 L1886.5,451.3 L1887.9,449.2 L1889.3,447.1 L1890.6,445.0 L1892.0,442.9 L1893.4,440.8 L1894.7,438.7 L1896.1,436.6 L1897.4,434.5 L1898.7,432.3 L1900.0,430.2 L1901.3,428.0 L1902.6,425.9 L1903.8,423.7 L1905.1,421.5 L1906.3,419.3 L1907.6,417.2 L1908.8,415.0 L1910.0,412.8 L1911.3,410.6 L1912.5,408.4 L1913.7,406.2 L1914.9,404.0 L1916.1,401.8 L1917.3,399.6 L1918.5,397.4 L1919.7,395.2 L1920.9,393.0 L1922.2,390.8 L1923.4,388.6 L1924.6,386.4 L1925.8,384.3 L1927.1,382.1 L1928.3,379.9 L1929.6,377.7 L1930.9,375.6 L1932.1,373.4 L1933.4,371.3 L1934.7,369.1 L1936.0,367.0 L1937.4,364.8 L1938.7,362.7 L1940.1,360.6 L1941.4,358.5 L1942.8,356.4 L1944.2,354.3 L1945.6,352.2 L1947.0,350.2 L1948.4,348.1 L1949.8,346.0 L1951.2,343.9 L1952.7,341.9 L1954.1,339.8 L1955.6,337.8 L1957.0,335.7 L1958.5,333.7 L1959.9,331.7 L1961.4,329.6 L1962.9,327.6 L1964.4,325.6 L1965.9,323.6 L1967.4,321.6 L1969.0,319.6 L1970.5,317.6 L1972.0,315.6 L1973.6,313.7 L1975.1,311.7 L1976.7,309.8 L1978.3,307.8 L1979.9,305.9 L1981.5,304.0 L1983.1,302.0 L1984.8,300.1 L1986.4,298.2 L1988.1,296.4 L1989.8,294.5 L1991.4,292.7 L1993.2,290.8 L1994.9,289.0 L1996.6,287.2 L1998.4,285.4 L2000.1,283.6 L2001.9,281.9 L2003.7,280.1 L2005.5,278.4 L2007.3,276.6 L2009.2,274.9 L2011.0,273.2 L2012.8,271.5 L2014.7,269.8 L2016.5,268.1 L2018.4,266.4 L2020.2,264.7 L2022.1,263.0 L2023.9,261.3 L2025.7,259.6 L2027.6,257.9 L2029.4,256.2 L2031.2,254.4 L2033.1,252.7 L2034.9,251.0"/></defs>
<use href="#c18" fill="none" stroke="#fff" stroke-width="10.4" stroke-linecap="round" stroke-linejoin="round"/>
<use href="#c18" fill="none" stroke="#b11f38" stroke-width="8" stroke-linecap="round" stroke-linejoin="round"/>
<g>
<rect x="1952.1" y="508.8" width="154" height="107" fill="#5d6168"/>
<rect x="1998.6" y="508.8" width="18" height="107" fill="#62666d"/>
<rect x="2069.1" y="508.8" width="18" height="107" fill="#62666d"/>
<path d="M1964.6,508.8 L1964.6,513.3 L1964.7,517.7 L1965.3,522.2 L1966.7,526.6 L1965.9,531.1 L1964.8,535.5 L1964.6,540.0 L1964.6,544.5 L1964.6,548.9 L1964.7,553.4 L1965.9,557.8 L1966.8,562.3 L1965.4,566.8 L1964.7,571.2 L1964.6,575.7 L1964.6,580.1 L1964.7,584.6 L1965.5,589.0 L1966.8,593.5 L1965.7,598.0 L1964.7,602.4 L1964.6,606.9 L1964.6,611.3 L1964.6,615.8" fill="none" stroke="#3a3d44" stroke-width="2.2" opacity="0.7"/>
<path d="M1998.6,508.8 L1998.6,513.3 L1998.5,517.7 L1997.9,522.2 L1996.5,526.6 L1997.3,531.1 L1998.4,535.5 L1998.6,540.0 L1998.6,544.5 L1998.6,548.9 L1998.5,553.4 L1997.3,557.8 L1996.4,562.3 L1997.8,566.8 L1998.5,571.2 L1998.6,575.7 L1998.6,580.1 L1998.5,584.6 L1997.7,589.0 L1996.4,593.5 L1997.5,598.0 L1998.5,602.4 L1998.6,606.9 L1998.6,611.3 L1998.6,615.8" fill="none" stroke="#3a3d44" stroke-width="2.2" opacity="0.7"/>
<path d="M2017.1,508.8 L2017.1,513.3 L2017.2,517.7 L2017.8,522.2 L2019.2,526.6 L2018.4,531.1 L2017.3,535.5 L2017.1,540.0 L2017.1,544.5 L2017.1,548.9 L2017.2,553.4 L2018.4,557.8 L2019.3,562.3 L2017.9,566.8 L2017.2,571.2 L2017.1,575.7 L2017.1,580.1 L2017.2,584.6 L2018.0,589.0 L2019.3,593.5 L2018.2,598.0 L2017.2,602.4 L2017.1,606.9 L2017.1,611.3 L2017.1,615.8" fill="none" stroke="#3a3d44" stroke-width="2.2" opacity="0.7"/>
<path d="M2051.6,508.8 L2051.6,513.3 L2051.5,517.7 L2050.9,522.2 L2049.5,526.6 L2050.3,531.1 L2051.4,535.5 L2051.6,540.0 L2051.6,544.5 L2051.6,548.9 L2051.5,553.4 L2050.3,557.8 L2049.4,562.3 L2050.8,566.8 L2051.5,571.2 L2051.6,575.7 L2051.6,580.1 L2051.5,584.6 L2050.7,589.0 L2049.4,593.5 L2050.5,598.0 L2051.5,602.4 L2051.6,606.9 L2051.6,611.3 L2051.6,615.8" fill="none" stroke="#3a3d44" stroke-width="2.2" opacity="0.7"/>
<path d="M2069.1,508.8 L2069.1,513.3 L2069.2,517.7 L2069.8,522.2 L2071.2,526.6 L2070.4,531.1 L2069.3,535.5 L2069.1,540.0 L2069.1,544.5 L2069.1,548.9 L2069.2,553.4 L2070.4,557.8 L2071.3,562.3 L2069.9,566.8 L2069.2,571.2 L2069.1,575.7 L2069.1,580.1 L2069.2,584.6 L2070.0,589.0 L2071.3,593.5 L2070.2,598.0 L2069.2,602.4 L2069.1,606.9 L2069.1,611.3 L2069.1,615.8" fill="none" stroke="#3a3d44" stroke-width="2.2" opacity="0.7"/>
<path d="M2102.1,508.8 L2102.1,513.3 L2102.0,517.7 L2101.4,522.2 L2100.0,526.6 L2100.8,531.1 L2101.9,535.5 L2102.1,540.0 L2102.1,544.5 L2102.1,548.9 L2102.0,553.4 L2100.8,557.8 L2099.9,562.3 L2101.3,566.8 L2102.0,571.2 L2102.1,575.7 L2102.1,580.1 L2102.0,584.6 L2101.2,589.0 L2099.9,593.5 L2101.0,598.0 L2102.0,602.4 L2102.1,606.9 L2102.1,611.3 L2102.1,615.8" fill="none" stroke="#3a3d44" stroke-width="2.2" opacity="0.7"/>
<circle cx="1982.1" cy="527.3" r="2.6" fill="#30333a" opacity="0.80"/>
<circle cx="1982.1" cy="561.1" r="2.6" fill="#30333a" opacity="0.80"/>
<circle cx="1982.1" cy="593.3" r="2.6" fill="#30333a" opacity="0.30"/>
<circle cx="2034.1" cy="527.3" r="2.6" fill="#30333a" opacity="0.80"/>
<circle cx="2034.1" cy="561.1" r="2.6" fill="#30333a" opacity="0.80"/>
<circle cx="2034.1" cy="593.3" r="2.6" fill="#30333a" opacity="0.30"/>
<circle cx="2086.1" cy="527.3" r="2.6" fill="#30333a" opacity="0.80"/>
<circle cx="2086.1" cy="561.1" r="2.6" fill="#30333a" opacity="0.80"/>
<circle cx="2086.1" cy="593.3" r="2.6" fill="#30333a" opacity="0.30"/>
</g>
<polygon points="1675.2,122.5 1899.6,122.5 1899.6,103.8 1936.2,142.2 1899.6,179.0 1899.6,161.8 1675.2,161.8 1694.3,142.2" fill="url(#ag)" stroke="#3e4b6c" stroke-width="2" stroke-linejoin="miter"/>
<text x="1692.5" y="104.5" font-family='"Liberation Serif", serif' font-size="56" text-anchor="start" fill="#3566a6">51°</text>
<text x="1879.1" y="104.5" font-family='"Liberation Serif", serif' font-size="56" text-anchor="start" fill="#b1243a">75°</text>
<path d="M1252.0,35.0 H2112.3 V640.0 H1252.0 Z" fill="none" stroke="#3c3e44" stroke-width="4.4"/>
<line x1="1252.0" y1="590.3" x2="1264.0" y2="590.3" stroke="#3c3e44" stroke-width="4"/>
<text x="1228.6" y="604.5" font-family='"Liberation Serif", serif' font-size="56" text-anchor="end" fill="#231f20">0</text>
<line x1="1252.0" y1="489.4" x2="1264.0" y2="489.4" stroke="#3c3e44" stroke-width="4"/>
<text x="1228.6" y="504.5" font-family='"Liberation Serif", serif' font-size="56" text-anchor="end" fill="#231f20">0.2</text>
<line x1="1252.0" y1="388.6" x2="1264.0" y2="388.6" stroke="#3c3e44" stroke-width="4"/>
<text x="1228.6" y="404.5" font-family='"Liberation Serif", serif' font-size="56" text-anchor="end" fill="#231f20">0.4</text>
<line x1="1252.0" y1="287.7" x2="1264.0" y2="287.7" stroke="#3c3e44" stroke-width="4"/>
<text x="1228.6" y="304.5" font-family='"Liberation Serif", serif' font-size="56" text-anchor="end" fill="#231f20">0.6</text>
<line x1="1252.0" y1="186.9" x2="1264.0" y2="186.9" stroke="#3c3e44" stroke-width="4"/>
<text x="1228.6" y="204.5" font-family='"Liberation Serif", serif' font-size="56" text-anchor="end" fill="#231f20">0.8</text>
<line x1="1252.0" y1="86.0" x2="1264.0" y2="86.0" stroke="#3c3e44" stroke-width="4"/>
<text x="1228.6" y="104.5" font-family='"Liberation Serif", serif' font-size="56" text-anchor="end" fill="#231f20">1.0</text>
<line x1="1330.7" y1="640.0" x2="1330.7" y2="635.0" stroke="#3c3e44" stroke-width="3.5"/>
<line x1="1408.9" y1="640.0" x2="1408.9" y2="630.0" stroke="#3c3e44" stroke-width="3.5"/>
<line x1="1487.1" y1="640.0" x2="1487.1" y2="635.0" stroke="#3c3e44" stroke-width="3.5"/>
<line x1="1565.3" y1="640.0" x2="1565.3" y2="630.0" stroke="#3c3e44" stroke-width="3.5"/>
<line x1="1643.5" y1="640.0" x2="1643.5" y2="635.0" stroke="#3c3e44" stroke-width="3.5"/>
<line x1="1721.7" y1="640.0" x2="1721.7" y2="630.0" stroke="#3c3e44" stroke-width="3.5"/>
<line x1="1799.9" y1="640.0" x2="1799.9" y2="635.0" stroke="#3c3e44" stroke-width="3.5"/>
<line x1="1878.1" y1="640.0" x2="1878.1" y2="630.0" stroke="#3c3e44" stroke-width="3.5"/>
<line x1="1956.3" y1="640.0" x2="1956.3" y2="635.0" stroke="#3c3e44" stroke-width="3.5"/>
<line x1="2034.5" y1="640.0" x2="2034.5" y2="630.0" stroke="#3c3e44" stroke-width="3.5"/>
<text x="1253.1" y="703.5" font-family='"Liberation Serif", serif' font-size="56" text-anchor="middle" fill="#231f20">540</text>
<text x="1409.5" y="703.5" font-family='"Liberation Serif", serif' font-size="56" text-anchor="middle" fill="#231f20">560</text>
<text x="1565.9" y="703.5" font-family='"Liberation Serif", serif' font-size="56" text-anchor="middle" fill="#231f20">580</text>
<text x="1722.3" y="703.5" font-family='"Liberation Serif", serif' font-size="56" text-anchor="middle" fill="#231f20">600</text>
<text x="1878.7" y="703.5" font-family='"Liberation Serif", serif' font-size="56" text-anchor="middle" fill="#231f20">620</text>
<text x="2035.1" y="703.5" font-family='"Liberation Serif", serif' font-size="56" text-anchor="middle" fill="#231f20">640</text>
<text x="1681.4" y="775.0" font-family='"Liberation Serif", serif' font-size="56" text-anchor="middle" fill="#231f20">Wavelength/nm</text>
<text transform="translate(1120.8,338.2) rotate(-90)" x="0" y="0" font-family='"Liberation Serif", serif' font-size="56" text-anchor="middle" fill="#231f20">Intensity/(a.u.)</text>
<text x="1066.0" y="48.0" font-family='"Liberation Serif", serif' font-size="56" text-anchor="start" fill="#231f20">(b)</text>
<polyline points="2417.5,78.5 2504.4,147.9 2589.8,230.0 2675.6,291.0 2761.2,317.2 2847.9,374.1 2933.0,409.3 3019.1,446.0 3105.3,494.4" fill="none" stroke="#f6c3a6" stroke-width="2.2"/>
<polyline points="2417.5,297.2 2504.3,345.4 2589.5,390.9 2675.6,427.8 2761.2,476.8 2847.9,510.3 2933.0,522.0 3019.1,547.6 3105.3,584.3" fill="none" stroke="#ec8796" stroke-width="2.2"/>
<circle cx="2417.5" cy="78.5" r="13" fill="url(#bo)"/>
<rect x="2411.5" y="71.5" width="5" height="5" fill="#fff" opacity="0.75"/>
<circle cx="2504.4" cy="147.9" r="13" fill="url(#bo)"/>
<rect x="2498.4" y="140.9" width="5" height="5" fill="#fff" opacity="0.75"/>
<circle cx="2589.8" cy="230.0" r="13" fill="url(#bo)"/>
<rect x="2583.8" y="223.0" width="5" height="5" fill="#fff" opacity="0.75"/>
<circle cx="2675.6" cy="291.0" r="13" fill="url(#bo)"/>
<rect x="2669.6" y="284.0" width="5" height="5" fill="#fff" opacity="0.75"/>
<circle cx="2761.2" cy="317.2" r="13" fill="url(#bo)"/>
<rect x="2755.2" y="310.2" width="5" height="5" fill="#fff" opacity="0.75"/>
<circle cx="2847.9" cy="374.1" r="13" fill="url(#bo)"/>
<rect x="2841.9" y="367.1" width="5" height="5" fill="#fff" opacity="0.75"/>
<circle cx="2933.0" cy="409.3" r="13" fill="url(#bo)"/>
<rect x="2927.0" y="402.3" width="5" height="5" fill="#fff" opacity="0.75"/>
<circle cx="3019.1" cy="446.0" r="13" fill="url(#bo)"/>
<rect x="3013.1" y="439.0" width="5" height="5" fill="#fff" opacity="0.75"/>
<circle cx="3105.3" cy="494.4" r="13" fill="url(#bo)"/>
<rect x="3099.3" y="487.4" width="5" height="5" fill="#fff" opacity="0.75"/>
<circle cx="2417.5" cy="297.2" r="13" fill="url(#br)"/>
<rect x="2411.5" y="290.2" width="5" height="5" fill="#fff" opacity="0.75"/>
<circle cx="2504.3" cy="345.4" r="13" fill="url(#br)"/>
<rect x="2498.3" y="338.4" width="5" height="5" fill="#fff" opacity="0.75"/>
<circle cx="2589.5" cy="390.9" r="13" fill="url(#br)"/>
<rect x="2583.5" y="383.9" width="5" height="5" fill="#fff" opacity="0.75"/>
<circle cx="2675.6" cy="427.8" r="13" fill="url(#br)"/>
<rect x="2669.6" y="420.8" width="5" height="5" fill="#fff" opacity="0.75"/>
<circle cx="2761.2" cy="476.8" r="13" fill="url(#br)"/>
<rect x="2755.2" y="469.8" width="5" height="5" fill="#fff" opacity="0.75"/>
<circle cx="2847.9" cy="510.3" r="13" fill="url(#br)"/>
<rect x="2841.9" y="503.3" width="5" height="5" fill="#fff" opacity="0.75"/>
<circle cx="2933.0" cy="522.0" r="13" fill="url(#br)"/>
<rect x="2927.0" y="515.0" width="5" height="5" fill="#fff" opacity="0.75"/>
<circle cx="3019.1" cy="547.6" r="13" fill="url(#br)"/>
<rect x="3013.1" y="540.6" width="5" height="5" fill="#fff" opacity="0.75"/>
<circle cx="3105.3" cy="584.3" r="13" fill="url(#br)"/>
<rect x="3099.3" y="577.3" width="5" height="5" fill="#fff" opacity="0.75"/>
<path d="M2317.7,35.2 H3177.0 V639.2 H2317.7 Z" fill="none" stroke="#575b63" stroke-width="4.4"/>
<line x1="2317.7" y1="578.8" x2="2323.7" y2="578.8" stroke="#575b63" stroke-width="3.5"/>
<line x1="2317.7" y1="518.4" x2="2328.7" y2="518.4" stroke="#575b63" stroke-width="3.5"/>
<line x1="2317.7" y1="458.0" x2="2323.7" y2="458.0" stroke="#575b63" stroke-width="3.5"/>
<line x1="2317.7" y1="397.6" x2="2328.7" y2="397.6" stroke="#575b63" stroke-width="3.5"/>
<line x1="2317.7" y1="337.2" x2="2323.7" y2="337.2" stroke="#575b63" stroke-width="3.5"/>
<line x1="2317.7" y1="276.8" x2="2328.7" y2="276.8" stroke="#575b63" stroke-width="3.5"/>
<line x1="2317.7" y1="216.4" x2="2323.7" y2="216.4" stroke="#575b63" stroke-width="3.5"/>
<line x1="2317.7" y1="156.0" x2="2328.7" y2="156.0" stroke="#575b63" stroke-width="3.5"/>
<line x1="2317.7" y1="95.6" x2="2323.7" y2="95.6" stroke="#575b63" stroke-width="3.5"/>
<text x="2297.5" y="657.8" font-family='"Liberation Serif", serif' font-size="56" text-anchor="end" fill="#231f20">20</text>
<text x="2297.5" y="537.6" font-family='"Liberation Serif", serif' font-size="56" text-anchor="end" fill="#231f20">40</text>
<text x="2297.5" y="417.4" font-family='"Liberation Serif", serif' font-size="56" text-anchor="end" fill="#231f20">60</text>
<text x="2297.5" y="297.2" font-family='"Liberation Serif", serif' font-size="56" text-anchor="end" fill="#231f20">80</text>
<text x="2297.5" y="177.0" font-family='"Liberation Serif", serif' font-size="56" text-anchor="end" fill="#231f20">100</text>
<text x="2297.5" y="56.8" font-family='"Liberation Serif", serif' font-size="56" text-anchor="end" fill="#231f20">120</text>
<line x1="2390.2" y1="639.2" x2="2390.2" y2="629.2" stroke="#575b63" stroke-width="3.5"/>
<line x1="2461.8" y1="639.2" x2="2461.8" y2="634.2" stroke="#575b63" stroke-width="3.5"/>
<line x1="2533.3" y1="639.2" x2="2533.3" y2="629.2" stroke="#575b63" stroke-width="3.5"/>
<line x1="2604.8" y1="639.2" x2="2604.8" y2="634.2" stroke="#575b63" stroke-width="3.5"/>
<line x1="2676.4" y1="639.2" x2="2676.4" y2="629.2" stroke="#575b63" stroke-width="3.5"/>
<line x1="2747.9" y1="639.2" x2="2747.9" y2="634.2" stroke="#575b63" stroke-width="3.5"/>
<line x1="2819.5" y1="639.2" x2="2819.5" y2="629.2" stroke="#575b63" stroke-width="3.5"/>
<line x1="2891.0" y1="639.2" x2="2891.0" y2="634.2" stroke="#575b63" stroke-width="3.5"/>
<line x1="2962.6" y1="639.2" x2="2962.6" y2="629.2" stroke="#575b63" stroke-width="3.5"/>
<line x1="3034.1" y1="639.2" x2="3034.1" y2="634.2" stroke="#575b63" stroke-width="3.5"/>
<line x1="3105.7" y1="639.2" x2="3105.7" y2="629.2" stroke="#575b63" stroke-width="3.5"/>
<line x1="3177.2" y1="639.2" x2="3177.2" y2="634.2" stroke="#575b63" stroke-width="3.5"/>
<text x="2390.2" y="703.3" font-family='"Liberation Serif", serif' font-size="56" text-anchor="middle" fill="#231f20">50</text>
<text x="2533.3" y="703.3" font-family='"Liberation Serif", serif' font-size="56" text-anchor="middle" fill="#231f20">55</text>
<text x="2676.4" y="703.3" font-family='"Liberation Serif", serif' font-size="56" text-anchor="middle" fill="#231f20">60</text>
<text x="2819.5" y="703.3" font-family='"Liberation Serif", serif' font-size="56" text-anchor="middle" fill="#231f20">65</text>
<text x="2962.6" y="703.3" font-family='"Liberation Serif", serif' font-size="56" text-anchor="middle" fill="#231f20">70</text>
<text x="3105.7" y="703.3" font-family='"Liberation Serif", serif' font-size="56" text-anchor="middle" fill="#231f20">75</text>
<text x="2745.6" y="775" font-family='"Liberation Serif", serif' font-size="56" text-anchor="middle" fill="#231f20">Incident angle <tspan font-style="italic">θ</tspan>/(°)</text>
<text transform="translate(2193.2,336.2) rotate(-90)" x="0" y="0" font-family='"Liberation Serif", serif' font-size="56" text-anchor="middle" fill="#231f20">FWHM/nm</text>
<text x="2141.7" y="48.0" font-family='"Liberation Serif", serif' font-size="56" text-anchor="start" fill="#231f20">(c)</text>
<line x1="2672.5" y1="101.3" x2="2740" y2="101.3" stroke="#ec8796" stroke-width="2.5"/>
<circle cx="2706.3" cy="101.3" r="13" fill="url(#br)"/>
<rect x="2700.3" y="94.3" width="5" height="5" fill="#fff" opacity="0.75"/>
<line x1="2672.5" y1="165" x2="2740" y2="165" stroke="#f6c3a6" stroke-width="2.5"/>
<circle cx="2706.3" cy="165.0" r="13" fill="url(#bo)"/>
<rect x="2700.3" y="158.0" width="5" height="5" fill="#fff" opacity="0.75"/>
<text x="2747.6" y="115.5" font-family='"Liberation Serif", serif' font-size="56" text-anchor="start" fill="#231f20">Ours</text>
<text x="2747.6" y="182.5" font-family='"Liberation Serif", serif' font-size="56" text-anchor="start" fill="#231f20">RC2 ellipsometer</text>
</svg></body></html>
